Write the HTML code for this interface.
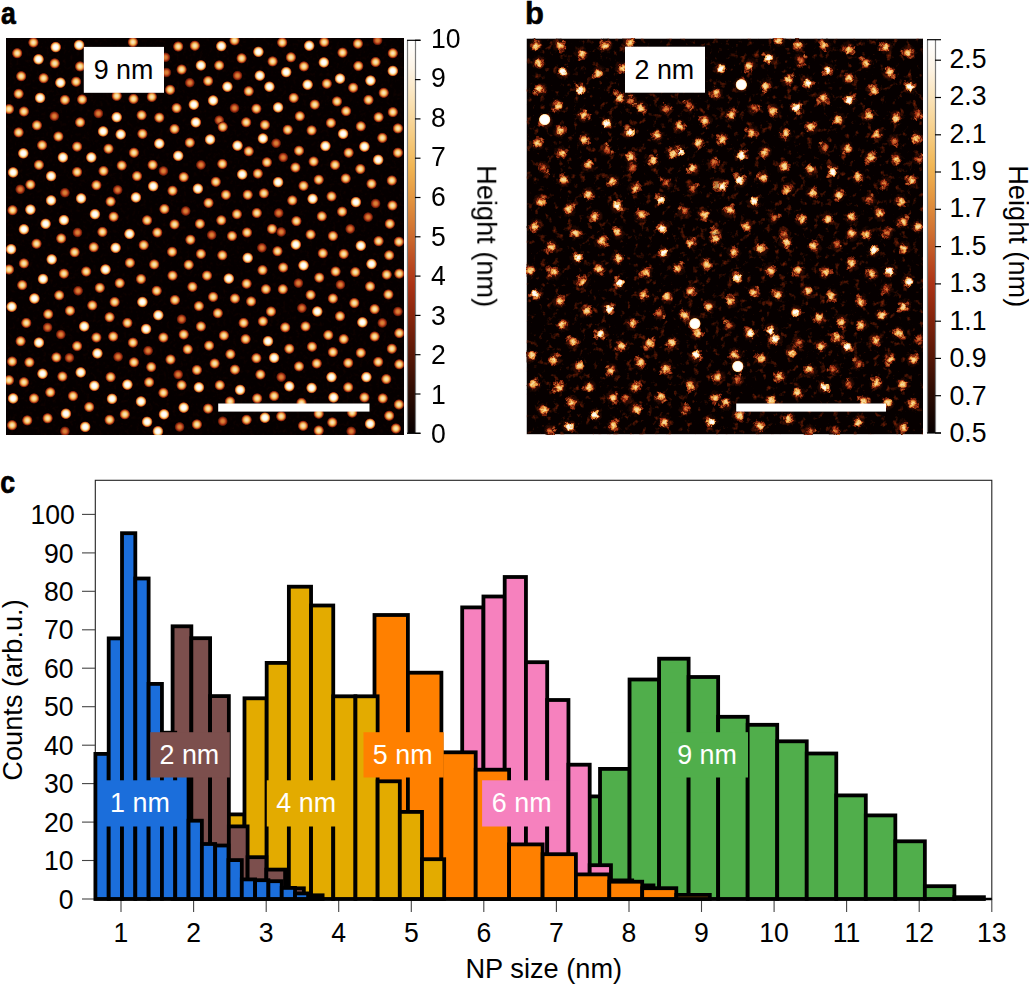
<!DOCTYPE html><html><head><meta charset="utf-8"><style>html,body{margin:0;padding:0;background:#fff;width:1029px;height:985px;overflow:hidden}</style></head><body><svg width="1029" height="985" viewBox="0 0 1029 985" style="display:block;font-family:'Liberation Sans', sans-serif">
<defs>
<linearGradient id="cbar" x1="0" y1="0" x2="0" y2="1"><stop offset="0.000" stop-color="#ffffff"/><stop offset="0.070" stop-color="#fdf4e6"/><stop offset="0.150" stop-color="#fae3b8"/><stop offset="0.240" stop-color="#f6cd84"/><stop offset="0.320" stop-color="#f1b654"/><stop offset="0.400" stop-color="#e4963f"/><stop offset="0.480" stop-color="#d27432"/><stop offset="0.550" stop-color="#bf5224"/><stop offset="0.620" stop-color="#ac3315"/><stop offset="0.700" stop-color="#88250c"/><stop offset="0.800" stop-color="#581706"/><stop offset="0.900" stop-color="#2b0b02"/><stop offset="1.000" stop-color="#060000"/></linearGradient>
<radialGradient id="gW"><stop offset="0.00" stop-color="#ffffff" stop-opacity="1.00"/><stop offset="0.05" stop-color="#ffffff" stop-opacity="1.00"/><stop offset="0.10" stop-color="#ffffff" stop-opacity="1.00"/><stop offset="0.15" stop-color="#ffffff" stop-opacity="1.00"/><stop offset="0.20" stop-color="#fffefd" stop-opacity="1.00"/><stop offset="0.25" stop-color="#fffdfa" stop-opacity="1.00"/><stop offset="0.30" stop-color="#fefbf5" stop-opacity="1.00"/><stop offset="0.35" stop-color="#fef8ee" stop-opacity="1.00"/><stop offset="0.40" stop-color="#fdf4e5" stop-opacity="1.00"/><stop offset="0.45" stop-color="#fcedd3" stop-opacity="1.00"/><stop offset="0.50" stop-color="#fae5bc" stop-opacity="1.00"/><stop offset="0.55" stop-color="#f8d9a1" stop-opacity="1.00"/><stop offset="0.60" stop-color="#f6cc82" stop-opacity="1.00"/><stop offset="0.65" stop-color="#f2ba5c" stop-opacity="1.00"/><stop offset="0.70" stop-color="#e89f45" stop-opacity="1.00"/><stop offset="0.75" stop-color="#d77d36" stop-opacity="1.00"/><stop offset="0.80" stop-color="#c05325" stop-opacity="1.00"/><stop offset="0.85" stop-color="#a02f12" stop-opacity="1.00"/><stop offset="0.90" stop-color="#6e1d09" stop-opacity="0.67"/><stop offset="0.95" stop-color="#380e03" stop-opacity="0.33"/><stop offset="1.00" stop-color="#060000" stop-opacity="0.00"/></radialGradient>
<radialGradient id="gM"><stop offset="0.00" stop-color="#fae5be" stop-opacity="1.00"/><stop offset="0.05" stop-color="#fae5bd" stop-opacity="1.00"/><stop offset="0.10" stop-color="#fae3b9" stop-opacity="1.00"/><stop offset="0.15" stop-color="#fae1b3" stop-opacity="1.00"/><stop offset="0.20" stop-color="#f9ddaa" stop-opacity="1.00"/><stop offset="0.25" stop-color="#f8d89f" stop-opacity="1.00"/><stop offset="0.30" stop-color="#f7d391" stop-opacity="1.00"/><stop offset="0.35" stop-color="#f6cb81" stop-opacity="1.00"/><stop offset="0.40" stop-color="#f4c26d" stop-opacity="1.00"/><stop offset="0.45" stop-color="#f1b858" stop-opacity="1.00"/><stop offset="0.50" stop-color="#eba84b" stop-opacity="1.00"/><stop offset="0.55" stop-color="#e4963f" stop-opacity="1.00"/><stop offset="0.60" stop-color="#d98137" stop-opacity="1.00"/><stop offset="0.65" stop-color="#cc692d" stop-opacity="1.00"/><stop offset="0.70" stop-color="#bc4d22" stop-opacity="1.00"/><stop offset="0.75" stop-color="#aa3215" stop-opacity="1.00"/><stop offset="0.80" stop-color="#8c270d" stop-opacity="1.00"/><stop offset="0.85" stop-color="#6b1c08" stop-opacity="1.00"/><stop offset="0.90" stop-color="#481305" stop-opacity="0.67"/><stop offset="0.95" stop-color="#250902" stop-opacity="0.33"/><stop offset="1.00" stop-color="#060000" stop-opacity="0.00"/></radialGradient>
<radialGradient id="gD"><stop offset="0.00" stop-color="#db8539" stop-opacity="1.00"/><stop offset="0.05" stop-color="#db8538" stop-opacity="1.00"/><stop offset="0.10" stop-color="#da8338" stop-opacity="1.00"/><stop offset="0.15" stop-color="#d98137" stop-opacity="1.00"/><stop offset="0.20" stop-color="#d77e36" stop-opacity="1.00"/><stop offset="0.25" stop-color="#d57a34" stop-opacity="1.00"/><stop offset="0.30" stop-color="#d27432" stop-opacity="1.00"/><stop offset="0.35" stop-color="#ce6c2f" stop-opacity="1.00"/><stop offset="0.40" stop-color="#c9632b" stop-opacity="1.00"/><stop offset="0.45" stop-color="#c35827" stop-opacity="1.00"/><stop offset="0.50" stop-color="#bc4d21" stop-opacity="1.00"/><stop offset="0.55" stop-color="#b4401b" stop-opacity="1.00"/><stop offset="0.60" stop-color="#ab3315" stop-opacity="1.00"/><stop offset="0.65" stop-color="#9b2d11" stop-opacity="1.00"/><stop offset="0.70" stop-color="#8a260d" stop-opacity="1.00"/><stop offset="0.75" stop-color="#76200a" stop-opacity="1.00"/><stop offset="0.80" stop-color="#601907" stop-opacity="1.00"/><stop offset="0.85" stop-color="#4a1305" stop-opacity="1.00"/><stop offset="0.90" stop-color="#320d03" stop-opacity="0.67"/><stop offset="0.95" stop-color="#1c0701" stop-opacity="0.33"/><stop offset="1.00" stop-color="#060000" stop-opacity="0.00"/></radialGradient>
<radialGradient id="gX"><stop offset="0.00" stop-color="#ffffff" stop-opacity="1.00"/><stop offset="0.05" stop-color="#ffffff" stop-opacity="1.00"/><stop offset="0.10" stop-color="#ffffff" stop-opacity="1.00"/><stop offset="0.15" stop-color="#ffffff" stop-opacity="1.00"/><stop offset="0.20" stop-color="#ffffff" stop-opacity="1.00"/><stop offset="0.25" stop-color="#ffffff" stop-opacity="1.00"/><stop offset="0.30" stop-color="#ffffff" stop-opacity="1.00"/><stop offset="0.35" stop-color="#ffffff" stop-opacity="1.00"/><stop offset="0.40" stop-color="#ffffff" stop-opacity="1.00"/><stop offset="0.45" stop-color="#fffffe" stop-opacity="1.00"/><stop offset="0.50" stop-color="#fffefd" stop-opacity="1.00"/><stop offset="0.55" stop-color="#fffcf9" stop-opacity="1.00"/><stop offset="0.60" stop-color="#fefaf3" stop-opacity="1.00"/><stop offset="0.65" stop-color="#fdf5e9" stop-opacity="1.00"/><stop offset="0.70" stop-color="#fcecd1" stop-opacity="1.00"/><stop offset="0.75" stop-color="#f9deac" stop-opacity="1.00"/><stop offset="0.80" stop-color="#f5c778" stop-opacity="1.00"/><stop offset="0.85" stop-color="#e79e44" stop-opacity="1.00"/><stop offset="0.90" stop-color="#c25726" stop-opacity="0.67"/><stop offset="0.95" stop-color="#731f09" stop-opacity="0.33"/><stop offset="1.00" stop-color="#060000" stop-opacity="0.00"/></radialGradient>
<radialGradient id="bW"><stop offset="0.00" stop-color="#ffffff" stop-opacity="1.00"/><stop offset="0.05" stop-color="#ffffff" stop-opacity="1.00"/><stop offset="0.10" stop-color="#fffffe" stop-opacity="1.00"/><stop offset="0.15" stop-color="#fffefc" stop-opacity="1.00"/><stop offset="0.20" stop-color="#fffdfa" stop-opacity="1.00"/><stop offset="0.25" stop-color="#fefbf5" stop-opacity="1.00"/><stop offset="0.30" stop-color="#fef8ef" stop-opacity="1.00"/><stop offset="0.35" stop-color="#fdf5e8" stop-opacity="1.00"/><stop offset="0.40" stop-color="#fcefd9" stop-opacity="1.00"/><stop offset="0.45" stop-color="#fbe8c6" stop-opacity="1.00"/><stop offset="0.50" stop-color="#f9dfaf" stop-opacity="1.00"/><stop offset="0.55" stop-color="#f7d495" stop-opacity="1.00"/><stop offset="0.60" stop-color="#f4c675" stop-opacity="1.00"/><stop offset="0.65" stop-color="#f0b352" stop-opacity="1.00"/><stop offset="0.70" stop-color="#e59840" stop-opacity="1.00"/><stop offset="0.75" stop-color="#d47733" stop-opacity="1.00"/><stop offset="0.80" stop-color="#bc4e22" stop-opacity="1.00"/><stop offset="0.85" stop-color="#9c2d11" stop-opacity="1.00"/><stop offset="0.90" stop-color="#6b1d08" stop-opacity="0.67"/><stop offset="0.95" stop-color="#360e03" stop-opacity="0.33"/><stop offset="1.00" stop-color="#060000" stop-opacity="0.00"/></radialGradient>
<radialGradient id="bM"><stop offset="0.00" stop-color="#f9dca7" stop-opacity="1.00"/><stop offset="0.05" stop-color="#f9dba5" stop-opacity="1.00"/><stop offset="0.10" stop-color="#f8daa2" stop-opacity="1.00"/><stop offset="0.15" stop-color="#f8d79c" stop-opacity="1.00"/><stop offset="0.20" stop-color="#f7d494" stop-opacity="1.00"/><stop offset="0.25" stop-color="#f6cf89" stop-opacity="1.00"/><stop offset="0.30" stop-color="#f5c97c" stop-opacity="1.00"/><stop offset="0.35" stop-color="#f3c16c" stop-opacity="1.00"/><stop offset="0.40" stop-color="#f2b959" stop-opacity="1.00"/><stop offset="0.45" stop-color="#edac4d" stop-opacity="1.00"/><stop offset="0.50" stop-color="#e69c43" stop-opacity="1.00"/><stop offset="0.55" stop-color="#de8a3a" stop-opacity="1.00"/><stop offset="0.60" stop-color="#d37633" stop-opacity="1.00"/><stop offset="0.65" stop-color="#c55d29" stop-opacity="1.00"/><stop offset="0.70" stop-color="#b6441d" stop-opacity="1.00"/><stop offset="0.75" stop-color="#a22f13" stop-opacity="1.00"/><stop offset="0.80" stop-color="#86240c" stop-opacity="1.00"/><stop offset="0.85" stop-color="#651b08" stop-opacity="1.00"/><stop offset="0.90" stop-color="#441204" stop-opacity="0.67"/><stop offset="0.95" stop-color="#240902" stop-opacity="0.33"/><stop offset="1.00" stop-color="#060000" stop-opacity="0.00"/></radialGradient>
<radialGradient id="bD"><stop offset="0.00" stop-color="#db8539" stop-opacity="1.00"/><stop offset="0.05" stop-color="#da8438" stop-opacity="1.00"/><stop offset="0.10" stop-color="#d98137" stop-opacity="1.00"/><stop offset="0.15" stop-color="#d77d36" stop-opacity="1.00"/><stop offset="0.20" stop-color="#d47833" stop-opacity="1.00"/><stop offset="0.25" stop-color="#d07131" stop-opacity="1.00"/><stop offset="0.30" stop-color="#cb682d" stop-opacity="1.00"/><stop offset="0.35" stop-color="#c65e29" stop-opacity="1.00"/><stop offset="0.40" stop-color="#c05324" stop-opacity="1.00"/><stop offset="0.45" stop-color="#b9481f" stop-opacity="1.00"/><stop offset="0.50" stop-color="#b13b19" stop-opacity="1.00"/><stop offset="0.55" stop-color="#a73114" stop-opacity="1.00"/><stop offset="0.60" stop-color="#992b10" stop-opacity="1.00"/><stop offset="0.65" stop-color="#89250c" stop-opacity="1.00"/><stop offset="0.70" stop-color="#77200a" stop-opacity="1.00"/><stop offset="0.75" stop-color="#651b08" stop-opacity="1.00"/><stop offset="0.80" stop-color="#511505" stop-opacity="1.00"/><stop offset="0.85" stop-color="#3e1004" stop-opacity="1.00"/><stop offset="0.90" stop-color="#2a0b02" stop-opacity="0.67"/><stop offset="0.95" stop-color="#180501" stop-opacity="0.33"/><stop offset="1.00" stop-color="#060000" stop-opacity="0.00"/></radialGradient>
<radialGradient id="bX"><stop offset="0.00" stop-color="#ffffff" stop-opacity="1.00"/><stop offset="0.05" stop-color="#ffffff" stop-opacity="1.00"/><stop offset="0.10" stop-color="#ffffff" stop-opacity="1.00"/><stop offset="0.15" stop-color="#ffffff" stop-opacity="1.00"/><stop offset="0.20" stop-color="#ffffff" stop-opacity="1.00"/><stop offset="0.25" stop-color="#ffffff" stop-opacity="1.00"/><stop offset="0.30" stop-color="#ffffff" stop-opacity="1.00"/><stop offset="0.35" stop-color="#ffffff" stop-opacity="1.00"/><stop offset="0.40" stop-color="#ffffff" stop-opacity="1.00"/><stop offset="0.45" stop-color="#ffffff" stop-opacity="1.00"/><stop offset="0.50" stop-color="#ffffff" stop-opacity="1.00"/><stop offset="0.55" stop-color="#ffffff" stop-opacity="1.00"/><stop offset="0.60" stop-color="#fffefe" stop-opacity="1.00"/><stop offset="0.65" stop-color="#fffdfb" stop-opacity="1.00"/><stop offset="0.70" stop-color="#fefaf4" stop-opacity="1.00"/><stop offset="0.75" stop-color="#fdf4e7" stop-opacity="1.00"/><stop offset="0.80" stop-color="#fbe7c3" stop-opacity="1.00"/><stop offset="0.85" stop-color="#f6ce86" stop-opacity="1.00"/><stop offset="0.90" stop-color="#e4953f" stop-opacity="0.67"/><stop offset="0.95" stop-color="#a02e12" stop-opacity="0.33"/><stop offset="1.00" stop-color="#060000" stop-opacity="0.00"/></radialGradient>
<radialGradient id="bH"><stop offset="0.00" stop-color="#b7451e" stop-opacity="1.00"/><stop offset="0.05" stop-color="#b6431d" stop-opacity="1.00"/><stop offset="0.10" stop-color="#b33f1b" stop-opacity="1.00"/><stop offset="0.15" stop-color="#b03a18" stop-opacity="1.00"/><stop offset="0.20" stop-color="#ad3416" stop-opacity="1.00"/><stop offset="0.25" stop-color="#a63114" stop-opacity="1.00"/><stop offset="0.30" stop-color="#9f2e12" stop-opacity="1.00"/><stop offset="0.35" stop-color="#972b10" stop-opacity="1.00"/><stop offset="0.40" stop-color="#8e270e" stop-opacity="1.00"/><stop offset="0.45" stop-color="#85240c" stop-opacity="1.00"/><stop offset="0.50" stop-color="#7a210a" stop-opacity="1.00"/><stop offset="0.55" stop-color="#6f1e09" stop-opacity="1.00"/><stop offset="0.60" stop-color="#641a07" stop-opacity="1.00"/><stop offset="0.65" stop-color="#581706" stop-opacity="1.00"/><stop offset="0.70" stop-color="#4c1405" stop-opacity="1.00"/><stop offset="0.75" stop-color="#401104" stop-opacity="1.00"/><stop offset="0.80" stop-color="#340d03" stop-opacity="1.00"/><stop offset="0.85" stop-color="#280a02" stop-opacity="1.00"/><stop offset="0.90" stop-color="#1d0701" stop-opacity="0.67"/><stop offset="0.95" stop-color="#120301" stop-opacity="0.33"/><stop offset="1.00" stop-color="#060000" stop-opacity="0.00"/></radialGradient>
<clipPath id="clipA"><rect x="6" y="38" width="398" height="397"/></clipPath>
<clipPath id="clipB"><rect x="526.5" y="38.4" width="396.5" height="396"/></clipPath>
<filter id="speckA" x="0" y="0" width="1" height="1" color-interpolation-filters="sRGB"><feTurbulence type="fractalNoise" baseFrequency="0.3" numOctaves="2" seed="4"/><feColorMatrix type="matrix" values="0 0 0 0 0.4  0 0 0 0 0.09  0 0 0 0 0.02  2.2 0 0 0 -1.1"/></filter>
<filter id="speckB" x="0" y="0" width="1" height="1" color-interpolation-filters="sRGB"><feTurbulence type="fractalNoise" baseFrequency="0.15" numOctaves="3" seed="9"/><feColorMatrix type="matrix" values="0 0 0 0 0.62  0 0 0 0 0.17  0 0 0 0 0.03  2.6 0 0 0 -1.55"/></filter>
<filter id="wob" x="-5%" y="-5%" width="110%" height="110%" color-interpolation-filters="sRGB"><feTurbulence type="fractalNoise" baseFrequency="0.25" numOctaves="2" seed="11" result="n"/><feDisplacementMap in="SourceGraphic" in2="n" scale="5" xChannelSelector="R" yChannelSelector="G"/></filter>
</defs>
<rect width="1029" height="985" fill="#fff"/>
<g clip-path="url(#clipA)">
<rect x="6" y="38" width="398" height="397" fill="#050000"/>
<rect x="6" y="38" width="398" height="397" filter="url(#speckA)" opacity="0.15"/>
<circle cx="33.4" cy="42.5" r="5.7" fill="url(#gM)"/>
<circle cx="55.7" cy="47.1" r="5.9" fill="url(#gW)"/>
<circle cx="79.1" cy="45.1" r="5.9" fill="url(#gW)"/>
<circle cx="132.9" cy="42.1" r="5.7" fill="url(#gM)"/>
<circle cx="178.2" cy="46.5" r="5.7" fill="url(#gM)"/>
<circle cx="194.8" cy="45.7" r="5.7" fill="url(#gM)"/>
<circle cx="17.2" cy="53.2" r="5.7" fill="url(#gM)"/>
<circle cx="38.5" cy="59.3" r="5.9" fill="url(#gW)"/>
<circle cx="54.7" cy="63.4" r="5.7" fill="url(#gM)"/>
<circle cx="80.1" cy="66.4" r="5.7" fill="url(#gM)"/>
<circle cx="181.6" cy="69.5" r="5.7" fill="url(#gM)"/>
<circle cx="200.9" cy="65.4" r="5.9" fill="url(#gW)"/>
<circle cx="165.4" cy="57.3" r="5.4" fill="url(#gD)"/>
<circle cx="166.4" cy="72.5" r="5.4" fill="url(#gD)"/>
<circle cx="21.2" cy="76.2" r="5.7" fill="url(#gM)"/>
<circle cx="43.6" cy="78.2" r="5.7" fill="url(#gM)"/>
<circle cx="60.4" cy="82.7" r="5.9" fill="url(#gW)"/>
<circle cx="76.1" cy="81.7" r="5.7" fill="url(#gM)"/>
<circle cx="189.8" cy="82.7" r="5.4" fill="url(#gD)"/>
<circle cx="170.1" cy="89.8" r="5.7" fill="url(#gM)"/>
<circle cx="18.6" cy="93.8" r="5.7" fill="url(#gM)"/>
<circle cx="40.1" cy="97.9" r="5.9" fill="url(#gW)"/>
<circle cx="64.9" cy="99.9" r="5.7" fill="url(#gM)"/>
<circle cx="82.1" cy="99.5" r="5.7" fill="url(#gM)"/>
<circle cx="116.7" cy="95.9" r="5.7" fill="url(#gM)"/>
<circle cx="133.5" cy="98.9" r="5.7" fill="url(#gM)"/>
<circle cx="151.8" cy="96.9" r="5.7" fill="url(#gM)"/>
<circle cx="193.8" cy="104.6" r="5.9" fill="url(#gW)"/>
<circle cx="176.6" cy="108.1" r="5.7" fill="url(#gM)"/>
<circle cx="9.0" cy="109.1" r="5.7" fill="url(#gM)"/>
<circle cx="23.9" cy="111.5" r="5.7" fill="url(#gM)"/>
<circle cx="54.3" cy="116.2" r="5.4" fill="url(#gD)"/>
<circle cx="98.4" cy="113.5" r="5.4" fill="url(#gD)"/>
<circle cx="116.7" cy="117.2" r="5.9" fill="url(#gW)"/>
<circle cx="141.6" cy="115.2" r="5.7" fill="url(#gM)"/>
<circle cx="159.3" cy="117.6" r="5.7" fill="url(#gM)"/>
<circle cx="195.8" cy="122.3" r="5.9" fill="url(#gW)"/>
<circle cx="36.9" cy="125.3" r="5.7" fill="url(#gM)"/>
<circle cx="80.1" cy="122.3" r="5.7" fill="url(#gM)"/>
<circle cx="103.1" cy="131.4" r="5.9" fill="url(#gW)"/>
<circle cx="120.7" cy="134.4" r="5.9" fill="url(#gW)"/>
<circle cx="142.4" cy="133.8" r="5.7" fill="url(#gM)"/>
<circle cx="174.5" cy="129.0" r="5.7" fill="url(#gM)"/>
<circle cx="18.6" cy="132.4" r="5.7" fill="url(#gM)"/>
<circle cx="58.4" cy="136.5" r="5.7" fill="url(#gM)"/>
<circle cx="42.1" cy="145.2" r="5.7" fill="url(#gM)"/>
<circle cx="77.1" cy="146.6" r="5.7" fill="url(#gM)"/>
<circle cx="108.5" cy="148.7" r="5.7" fill="url(#gM)"/>
<circle cx="159.3" cy="143.6" r="5.9" fill="url(#gW)"/>
<circle cx="189.8" cy="142.6" r="5.7" fill="url(#gM)"/>
<circle cx="23.3" cy="153.3" r="5.9" fill="url(#gW)"/>
<circle cx="62.9" cy="157.4" r="5.9" fill="url(#gW)"/>
<circle cx="91.3" cy="157.4" r="5.9" fill="url(#gW)"/>
<circle cx="133.9" cy="152.7" r="5.7" fill="url(#gM)"/>
<circle cx="178.2" cy="155.8" r="5.9" fill="url(#gW)"/>
<circle cx="38.9" cy="164.9" r="5.7" fill="url(#gM)"/>
<circle cx="121.7" cy="165.5" r="5.7" fill="url(#gM)"/>
<circle cx="152.6" cy="164.9" r="5.7" fill="url(#gM)"/>
<circle cx="200.9" cy="164.9" r="5.4" fill="url(#gD)"/>
<circle cx="13.1" cy="172.4" r="5.9" fill="url(#gW)"/>
<circle cx="77.1" cy="172.0" r="5.7" fill="url(#gM)"/>
<circle cx="103.5" cy="171.0" r="5.7" fill="url(#gM)"/>
<circle cx="51.1" cy="176.1" r="5.9" fill="url(#gW)"/>
<circle cx="137.0" cy="176.1" r="5.7" fill="url(#gM)"/>
<circle cx="163.4" cy="171.0" r="5.4" fill="url(#gD)"/>
<circle cx="183.7" cy="177.1" r="5.7" fill="url(#gM)"/>
<circle cx="20.2" cy="189.3" r="5.4" fill="url(#gD)"/>
<circle cx="30.4" cy="184.6" r="5.7" fill="url(#gM)"/>
<circle cx="64.9" cy="192.7" r="5.4" fill="url(#gD)"/>
<circle cx="96.4" cy="185.2" r="5.7" fill="url(#gM)"/>
<circle cx="117.7" cy="189.9" r="5.4" fill="url(#gD)"/>
<circle cx="153.2" cy="186.2" r="5.9" fill="url(#gW)"/>
<circle cx="172.5" cy="190.7" r="5.7" fill="url(#gM)"/>
<circle cx="197.9" cy="188.7" r="5.9" fill="url(#gW)"/>
<circle cx="51.1" cy="200.4" r="5.9" fill="url(#gW)"/>
<circle cx="81.1" cy="198.4" r="5.9" fill="url(#gW)"/>
<circle cx="110.6" cy="201.5" r="5.7" fill="url(#gM)"/>
<circle cx="135.9" cy="197.4" r="5.9" fill="url(#gW)"/>
<circle cx="12.5" cy="210.2" r="5.7" fill="url(#gM)"/>
<circle cx="30.4" cy="209.6" r="5.9" fill="url(#gW)"/>
<circle cx="94.9" cy="214.2" r="5.9" fill="url(#gW)"/>
<circle cx="113.6" cy="216.7" r="5.7" fill="url(#gM)"/>
<circle cx="164.4" cy="209.0" r="5.7" fill="url(#gM)"/>
<circle cx="185.7" cy="211.0" r="5.4" fill="url(#gD)"/>
<circle cx="63.9" cy="220.1" r="5.9" fill="url(#gW)"/>
<circle cx="45.6" cy="223.8" r="5.9" fill="url(#gW)"/>
<circle cx="147.1" cy="220.3" r="5.7" fill="url(#gM)"/>
<circle cx="174.5" cy="224.4" r="5.7" fill="url(#gM)"/>
<circle cx="199.9" cy="223.8" r="5.7" fill="url(#gM)"/>
<circle cx="23.9" cy="229.3" r="5.9" fill="url(#gW)"/>
<circle cx="77.5" cy="232.5" r="5.4" fill="url(#gD)"/>
<circle cx="102.4" cy="231.9" r="5.7" fill="url(#gM)"/>
<circle cx="129.5" cy="233.9" r="5.9" fill="url(#gW)"/>
<circle cx="157.3" cy="232.5" r="5.7" fill="url(#gM)"/>
<circle cx="221.3" cy="46.1" r="5.9" fill="url(#gW)"/>
<circle cx="234.5" cy="40.4" r="5.7" fill="url(#gM)"/>
<circle cx="258.4" cy="51.8" r="5.9" fill="url(#gW)"/>
<circle cx="282.2" cy="42.5" r="5.7" fill="url(#gM)"/>
<circle cx="309.2" cy="45.7" r="5.9" fill="url(#gW)"/>
<circle cx="324.2" cy="42.1" r="5.7" fill="url(#gM)"/>
<circle cx="342.5" cy="52.6" r="5.7" fill="url(#gM)"/>
<circle cx="357.9" cy="43.7" r="5.7" fill="url(#gM)"/>
<circle cx="377.6" cy="40.4" r="5.4" fill="url(#gD)"/>
<circle cx="392.8" cy="53.2" r="5.7" fill="url(#gM)"/>
<circle cx="219.2" cy="65.4" r="5.7" fill="url(#gM)"/>
<circle cx="241.6" cy="58.3" r="5.7" fill="url(#gM)"/>
<circle cx="272.6" cy="61.4" r="5.7" fill="url(#gM)"/>
<circle cx="290.9" cy="57.3" r="5.7" fill="url(#gM)"/>
<circle cx="303.9" cy="66.4" r="5.7" fill="url(#gM)"/>
<circle cx="323.8" cy="62.4" r="5.9" fill="url(#gW)"/>
<circle cx="358.3" cy="66.0" r="5.7" fill="url(#gM)"/>
<circle cx="375.6" cy="62.0" r="5.7" fill="url(#gM)"/>
<circle cx="392.8" cy="70.9" r="5.9" fill="url(#gW)"/>
<circle cx="208.1" cy="81.0" r="5.7" fill="url(#gM)"/>
<circle cx="237.5" cy="75.6" r="5.4" fill="url(#gD)"/>
<circle cx="259.8" cy="75.6" r="5.9" fill="url(#gW)"/>
<circle cx="286.2" cy="72.1" r="5.9" fill="url(#gW)"/>
<circle cx="227.4" cy="86.7" r="5.9" fill="url(#gW)"/>
<circle cx="248.7" cy="91.2" r="5.7" fill="url(#gM)"/>
<circle cx="269.4" cy="86.7" r="5.9" fill="url(#gW)"/>
<circle cx="307.6" cy="84.7" r="5.9" fill="url(#gW)"/>
<circle cx="326.8" cy="83.7" r="5.7" fill="url(#gM)"/>
<circle cx="340.0" cy="78.6" r="5.9" fill="url(#gW)"/>
<circle cx="353.2" cy="87.7" r="5.7" fill="url(#gM)"/>
<circle cx="370.5" cy="80.6" r="5.9" fill="url(#gW)"/>
<circle cx="383.7" cy="92.8" r="5.7" fill="url(#gM)"/>
<circle cx="213.1" cy="100.5" r="5.9" fill="url(#gW)"/>
<circle cx="234.5" cy="108.1" r="5.4" fill="url(#gD)"/>
<circle cx="256.4" cy="108.7" r="5.7" fill="url(#gM)"/>
<circle cx="278.1" cy="107.4" r="5.9" fill="url(#gW)"/>
<circle cx="293.7" cy="97.9" r="5.7" fill="url(#gM)"/>
<circle cx="314.7" cy="104.6" r="5.7" fill="url(#gM)"/>
<circle cx="337.0" cy="101.4" r="5.7" fill="url(#gM)"/>
<circle cx="346.1" cy="111.1" r="5.7" fill="url(#gM)"/>
<circle cx="368.5" cy="99.9" r="5.7" fill="url(#gM)"/>
<circle cx="392.8" cy="112.1" r="5.7" fill="url(#gM)"/>
<circle cx="219.2" cy="120.2" r="5.4" fill="url(#gD)"/>
<circle cx="222.7" cy="126.9" r="5.7" fill="url(#gM)"/>
<circle cx="246.2" cy="122.3" r="5.7" fill="url(#gM)"/>
<circle cx="264.9" cy="124.9" r="5.7" fill="url(#gM)"/>
<circle cx="287.7" cy="129.8" r="5.7" fill="url(#gM)"/>
<circle cx="299.8" cy="116.2" r="5.7" fill="url(#gM)"/>
<circle cx="311.6" cy="130.4" r="5.7" fill="url(#gM)"/>
<circle cx="330.9" cy="122.9" r="5.7" fill="url(#gM)"/>
<circle cx="343.1" cy="133.8" r="5.9" fill="url(#gW)"/>
<circle cx="360.8" cy="126.3" r="5.7" fill="url(#gM)"/>
<circle cx="378.6" cy="117.2" r="5.7" fill="url(#gM)"/>
<circle cx="397.9" cy="128.4" r="5.7" fill="url(#gM)"/>
<circle cx="210.1" cy="139.5" r="5.9" fill="url(#gW)"/>
<circle cx="237.5" cy="145.6" r="5.9" fill="url(#gW)"/>
<circle cx="262.9" cy="138.5" r="5.9" fill="url(#gW)"/>
<circle cx="276.1" cy="143.2" r="5.4" fill="url(#gD)"/>
<circle cx="248.7" cy="151.3" r="5.7" fill="url(#gM)"/>
<circle cx="299.0" cy="150.7" r="5.7" fill="url(#gM)"/>
<circle cx="325.4" cy="146.0" r="5.9" fill="url(#gW)"/>
<circle cx="348.6" cy="152.7" r="5.7" fill="url(#gM)"/>
<circle cx="364.4" cy="146.6" r="5.9" fill="url(#gW)"/>
<circle cx="382.3" cy="137.9" r="5.7" fill="url(#gM)"/>
<circle cx="397.9" cy="152.7" r="5.7" fill="url(#gM)"/>
<circle cx="222.3" cy="163.9" r="5.7" fill="url(#gM)"/>
<circle cx="266.9" cy="162.3" r="5.7" fill="url(#gM)"/>
<circle cx="283.2" cy="157.4" r="5.4" fill="url(#gD)"/>
<circle cx="295.4" cy="167.5" r="5.7" fill="url(#gM)"/>
<circle cx="313.6" cy="161.5" r="5.7" fill="url(#gM)"/>
<circle cx="335.0" cy="164.9" r="5.7" fill="url(#gM)"/>
<circle cx="360.3" cy="169.0" r="5.7" fill="url(#gM)"/>
<circle cx="378.2" cy="159.8" r="5.9" fill="url(#gW)"/>
<circle cx="242.2" cy="174.4" r="5.9" fill="url(#gW)"/>
<circle cx="257.8" cy="173.6" r="5.7" fill="url(#gM)"/>
<circle cx="278.1" cy="182.2" r="5.9" fill="url(#gW)"/>
<circle cx="215.8" cy="181.8" r="5.7" fill="url(#gM)"/>
<circle cx="303.5" cy="185.8" r="5.7" fill="url(#gM)"/>
<circle cx="318.7" cy="179.7" r="5.7" fill="url(#gM)"/>
<circle cx="345.7" cy="178.5" r="5.7" fill="url(#gM)"/>
<circle cx="371.5" cy="183.8" r="5.7" fill="url(#gM)"/>
<circle cx="391.8" cy="180.5" r="5.7" fill="url(#gM)"/>
<circle cx="225.9" cy="194.8" r="5.7" fill="url(#gM)"/>
<circle cx="247.7" cy="194.8" r="5.7" fill="url(#gM)"/>
<circle cx="263.9" cy="193.3" r="5.7" fill="url(#gM)"/>
<circle cx="292.3" cy="200.4" r="5.7" fill="url(#gM)"/>
<circle cx="312.6" cy="198.8" r="5.9" fill="url(#gW)"/>
<circle cx="331.5" cy="196.4" r="5.7" fill="url(#gM)"/>
<circle cx="355.9" cy="202.1" r="5.9" fill="url(#gW)"/>
<circle cx="375.6" cy="203.5" r="5.4" fill="url(#gD)"/>
<circle cx="392.4" cy="205.5" r="5.7" fill="url(#gM)"/>
<circle cx="208.5" cy="202.9" r="5.7" fill="url(#gM)"/>
<circle cx="236.9" cy="214.2" r="5.7" fill="url(#gM)"/>
<circle cx="256.8" cy="213.0" r="5.7" fill="url(#gM)"/>
<circle cx="278.7" cy="213.0" r="5.4" fill="url(#gD)"/>
<circle cx="296.4" cy="221.1" r="5.7" fill="url(#gM)"/>
<circle cx="321.8" cy="216.3" r="5.7" fill="url(#gM)"/>
<circle cx="342.1" cy="211.6" r="5.7" fill="url(#gM)"/>
<circle cx="368.1" cy="217.1" r="5.4" fill="url(#gD)"/>
<circle cx="221.3" cy="220.3" r="5.7" fill="url(#gM)"/>
<circle cx="247.0" cy="232.5" r="5.7" fill="url(#gM)"/>
<circle cx="272.0" cy="228.9" r="5.7" fill="url(#gM)"/>
<circle cx="281.2" cy="231.9" r="5.4" fill="url(#gD)"/>
<circle cx="310.6" cy="234.5" r="5.7" fill="url(#gM)"/>
<circle cx="332.9" cy="236.0" r="5.7" fill="url(#gM)"/>
<circle cx="350.2" cy="228.9" r="5.4" fill="url(#gD)"/>
<circle cx="389.8" cy="223.8" r="5.7" fill="url(#gM)"/>
<circle cx="232.0" cy="236.0" r="5.7" fill="url(#gM)"/>
<circle cx="211.7" cy="235.0" r="5.4" fill="url(#gD)"/>
<circle cx="11.1" cy="249.2" r="5.9" fill="url(#gW)"/>
<circle cx="36.5" cy="243.7" r="5.7" fill="url(#gM)"/>
<circle cx="61.2" cy="238.4" r="5.7" fill="url(#gM)"/>
<circle cx="74.6" cy="252.2" r="5.7" fill="url(#gM)"/>
<circle cx="93.7" cy="247.2" r="5.7" fill="url(#gM)"/>
<circle cx="115.6" cy="247.8" r="5.9" fill="url(#gW)"/>
<circle cx="143.7" cy="245.1" r="5.7" fill="url(#gM)"/>
<circle cx="172.1" cy="251.8" r="5.7" fill="url(#gM)"/>
<circle cx="190.4" cy="239.7" r="5.7" fill="url(#gM)"/>
<circle cx="200.9" cy="253.9" r="5.7" fill="url(#gM)"/>
<circle cx="23.9" cy="263.4" r="5.7" fill="url(#gM)"/>
<circle cx="51.7" cy="259.4" r="5.9" fill="url(#gW)"/>
<circle cx="9.0" cy="269.5" r="5.7" fill="url(#gM)"/>
<circle cx="86.2" cy="271.5" r="5.7" fill="url(#gM)"/>
<circle cx="105.5" cy="269.5" r="5.9" fill="url(#gW)"/>
<circle cx="129.9" cy="262.8" r="5.7" fill="url(#gM)"/>
<circle cx="154.2" cy="264.4" r="5.7" fill="url(#gM)"/>
<circle cx="188.7" cy="264.8" r="5.7" fill="url(#gM)"/>
<circle cx="63.9" cy="273.6" r="5.7" fill="url(#gM)"/>
<circle cx="43.0" cy="279.0" r="5.9" fill="url(#gW)"/>
<circle cx="141.0" cy="279.0" r="5.7" fill="url(#gM)"/>
<circle cx="172.5" cy="275.6" r="5.7" fill="url(#gM)"/>
<circle cx="22.2" cy="285.1" r="5.7" fill="url(#gM)"/>
<circle cx="78.1" cy="290.8" r="5.4" fill="url(#gD)"/>
<circle cx="99.8" cy="287.8" r="5.7" fill="url(#gM)"/>
<circle cx="119.7" cy="283.1" r="5.7" fill="url(#gM)"/>
<circle cx="156.7" cy="290.8" r="5.7" fill="url(#gM)"/>
<circle cx="192.4" cy="286.8" r="5.7" fill="url(#gM)"/>
<circle cx="34.4" cy="298.5" r="5.9" fill="url(#gW)"/>
<circle cx="59.2" cy="295.3" r="5.7" fill="url(#gM)"/>
<circle cx="114.6" cy="302.0" r="5.7" fill="url(#gM)"/>
<circle cx="142.4" cy="302.0" r="5.9" fill="url(#gW)"/>
<circle cx="174.9" cy="300.0" r="5.7" fill="url(#gM)"/>
<circle cx="11.7" cy="306.7" r="5.9" fill="url(#gW)"/>
<circle cx="92.3" cy="305.4" r="5.7" fill="url(#gM)"/>
<circle cx="70.0" cy="310.7" r="5.7" fill="url(#gM)"/>
<circle cx="48.2" cy="314.2" r="5.7" fill="url(#gM)"/>
<circle cx="109.6" cy="317.2" r="5.7" fill="url(#gM)"/>
<circle cx="158.3" cy="315.2" r="5.9" fill="url(#gW)"/>
<circle cx="198.9" cy="306.1" r="5.7" fill="url(#gM)"/>
<circle cx="26.3" cy="322.9" r="5.7" fill="url(#gM)"/>
<circle cx="84.2" cy="326.4" r="5.9" fill="url(#gW)"/>
<circle cx="127.4" cy="322.9" r="5.7" fill="url(#gM)"/>
<circle cx="146.1" cy="329.0" r="5.9" fill="url(#gW)"/>
<circle cx="181.6" cy="319.2" r="5.4" fill="url(#gD)"/>
<circle cx="47.6" cy="327.4" r="5.4" fill="url(#gD)"/>
<circle cx="60.8" cy="334.5" r="5.4" fill="url(#gD)"/>
<circle cx="200.9" cy="326.4" r="5.7" fill="url(#gM)"/>
<circle cx="20.6" cy="341.2" r="5.7" fill="url(#gM)"/>
<circle cx="38.9" cy="342.6" r="5.9" fill="url(#gW)"/>
<circle cx="96.4" cy="337.5" r="5.7" fill="url(#gM)"/>
<circle cx="113.2" cy="336.5" r="5.7" fill="url(#gM)"/>
<circle cx="132.9" cy="342.6" r="5.7" fill="url(#gM)"/>
<circle cx="163.4" cy="337.5" r="5.7" fill="url(#gM)"/>
<circle cx="183.7" cy="334.5" r="5.7" fill="url(#gM)"/>
<circle cx="77.1" cy="346.1" r="5.7" fill="url(#gM)"/>
<circle cx="97.4" cy="353.4" r="5.9" fill="url(#gW)"/>
<circle cx="118.1" cy="356.8" r="5.4" fill="url(#gD)"/>
<circle cx="148.1" cy="350.7" r="5.4" fill="url(#gD)"/>
<circle cx="187.7" cy="349.3" r="5.7" fill="url(#gM)"/>
<circle cx="12.1" cy="361.5" r="5.7" fill="url(#gM)"/>
<circle cx="29.4" cy="362.3" r="5.7" fill="url(#gM)"/>
<circle cx="56.4" cy="357.4" r="5.7" fill="url(#gM)"/>
<circle cx="69.4" cy="357.8" r="5.4" fill="url(#gD)"/>
<circle cx="133.9" cy="362.3" r="5.7" fill="url(#gM)"/>
<circle cx="170.5" cy="359.5" r="5.7" fill="url(#gM)"/>
<circle cx="42.5" cy="373.7" r="5.9" fill="url(#gW)"/>
<circle cx="62.4" cy="376.5" r="5.7" fill="url(#gM)"/>
<circle cx="80.7" cy="372.4" r="5.9" fill="url(#gW)"/>
<circle cx="110.6" cy="377.1" r="5.7" fill="url(#gM)"/>
<circle cx="151.2" cy="367.0" r="5.7" fill="url(#gM)"/>
<circle cx="178.2" cy="374.5" r="5.4" fill="url(#gD)"/>
<circle cx="196.9" cy="370.0" r="5.7" fill="url(#gM)"/>
<circle cx="9.0" cy="380.2" r="5.7" fill="url(#gM)"/>
<circle cx="23.9" cy="382.2" r="5.7" fill="url(#gM)"/>
<circle cx="94.3" cy="385.8" r="5.9" fill="url(#gW)"/>
<circle cx="127.4" cy="384.6" r="5.9" fill="url(#gW)"/>
<circle cx="149.1" cy="382.2" r="5.7" fill="url(#gM)"/>
<circle cx="181.6" cy="385.2" r="5.7" fill="url(#gM)"/>
<circle cx="198.9" cy="387.3" r="5.9" fill="url(#gW)"/>
<circle cx="50.3" cy="392.3" r="5.7" fill="url(#gM)"/>
<circle cx="73.0" cy="396.0" r="5.7" fill="url(#gM)"/>
<circle cx="13.1" cy="398.4" r="5.9" fill="url(#gW)"/>
<circle cx="34.0" cy="398.4" r="5.7" fill="url(#gM)"/>
<circle cx="112.0" cy="398.8" r="5.9" fill="url(#gW)"/>
<circle cx="141.0" cy="401.5" r="5.9" fill="url(#gW)"/>
<circle cx="163.4" cy="392.8" r="5.7" fill="url(#gM)"/>
<circle cx="89.2" cy="407.0" r="5.7" fill="url(#gM)"/>
<circle cx="183.7" cy="407.6" r="5.9" fill="url(#gW)"/>
<circle cx="65.9" cy="413.7" r="5.9" fill="url(#gW)"/>
<circle cx="124.8" cy="414.3" r="5.7" fill="url(#gM)"/>
<circle cx="164.0" cy="414.3" r="5.9" fill="url(#gW)"/>
<circle cx="27.3" cy="420.4" r="5.7" fill="url(#gM)"/>
<circle cx="47.6" cy="418.3" r="5.7" fill="url(#gM)"/>
<circle cx="109.6" cy="419.8" r="5.7" fill="url(#gM)"/>
<circle cx="147.1" cy="421.8" r="5.9" fill="url(#gW)"/>
<circle cx="12.1" cy="425.2" r="5.7" fill="url(#gM)"/>
<circle cx="85.2" cy="426.9" r="5.9" fill="url(#gW)"/>
<circle cx="179.6" cy="426.9" r="5.4" fill="url(#gD)"/>
<circle cx="196.9" cy="424.4" r="5.7" fill="url(#gM)"/>
<circle cx="157.9" cy="431.3" r="5.9" fill="url(#gW)"/>
<circle cx="64.9" cy="431.3" r="5.4" fill="url(#gD)"/>
<circle cx="261.9" cy="247.8" r="5.4" fill="url(#gD)"/>
<circle cx="222.3" cy="255.3" r="5.7" fill="url(#gM)"/>
<circle cx="247.7" cy="257.9" r="5.9" fill="url(#gW)"/>
<circle cx="277.5" cy="251.2" r="5.7" fill="url(#gM)"/>
<circle cx="295.8" cy="244.5" r="5.9" fill="url(#gW)"/>
<circle cx="322.8" cy="253.3" r="5.7" fill="url(#gM)"/>
<circle cx="343.7" cy="253.9" r="5.7" fill="url(#gM)"/>
<circle cx="360.8" cy="245.7" r="5.9" fill="url(#gW)"/>
<circle cx="378.6" cy="241.1" r="5.7" fill="url(#gM)"/>
<circle cx="398.9" cy="241.7" r="5.7" fill="url(#gM)"/>
<circle cx="389.2" cy="255.3" r="5.7" fill="url(#gM)"/>
<circle cx="207.0" cy="275.6" r="5.7" fill="url(#gM)"/>
<circle cx="228.8" cy="278.6" r="5.9" fill="url(#gW)"/>
<circle cx="262.5" cy="270.1" r="5.7" fill="url(#gM)"/>
<circle cx="283.2" cy="267.5" r="5.7" fill="url(#gM)"/>
<circle cx="303.5" cy="265.4" r="5.9" fill="url(#gW)"/>
<circle cx="335.6" cy="271.5" r="5.7" fill="url(#gM)"/>
<circle cx="355.3" cy="272.1" r="5.7" fill="url(#gM)"/>
<circle cx="371.5" cy="264.0" r="5.9" fill="url(#gW)"/>
<circle cx="386.7" cy="274.6" r="5.7" fill="url(#gM)"/>
<circle cx="399.3" cy="273.6" r="5.7" fill="url(#gM)"/>
<circle cx="246.6" cy="283.7" r="5.7" fill="url(#gM)"/>
<circle cx="265.9" cy="289.2" r="5.7" fill="url(#gM)"/>
<circle cx="282.8" cy="289.2" r="5.7" fill="url(#gM)"/>
<circle cx="298.4" cy="283.1" r="5.4" fill="url(#gD)"/>
<circle cx="319.3" cy="277.6" r="5.7" fill="url(#gM)"/>
<circle cx="340.4" cy="284.7" r="5.4" fill="url(#gD)"/>
<circle cx="370.1" cy="286.4" r="5.7" fill="url(#gM)"/>
<circle cx="213.1" cy="296.9" r="5.7" fill="url(#gM)"/>
<circle cx="234.9" cy="298.5" r="5.7" fill="url(#gM)"/>
<circle cx="251.1" cy="301.4" r="5.7" fill="url(#gM)"/>
<circle cx="310.6" cy="294.9" r="5.7" fill="url(#gM)"/>
<circle cx="332.9" cy="298.5" r="5.7" fill="url(#gM)"/>
<circle cx="354.3" cy="303.0" r="5.7" fill="url(#gM)"/>
<circle cx="388.4" cy="294.5" r="5.7" fill="url(#gM)"/>
<circle cx="217.8" cy="313.2" r="5.7" fill="url(#gM)"/>
<circle cx="271.0" cy="311.5" r="5.7" fill="url(#gM)"/>
<circle cx="301.9" cy="308.1" r="5.4" fill="url(#gD)"/>
<circle cx="317.3" cy="311.5" r="5.9" fill="url(#gW)"/>
<circle cx="340.0" cy="316.2" r="5.7" fill="url(#gM)"/>
<circle cx="374.6" cy="309.1" r="5.7" fill="url(#gM)"/>
<circle cx="397.9" cy="311.5" r="5.4" fill="url(#gD)"/>
<circle cx="243.6" cy="322.9" r="5.7" fill="url(#gM)"/>
<circle cx="262.9" cy="321.3" r="5.7" fill="url(#gM)"/>
<circle cx="285.2" cy="327.4" r="5.7" fill="url(#gM)"/>
<circle cx="305.5" cy="326.4" r="5.7" fill="url(#gM)"/>
<circle cx="362.4" cy="322.3" r="5.9" fill="url(#gW)"/>
<circle cx="382.3" cy="322.9" r="5.4" fill="url(#gD)"/>
<circle cx="223.9" cy="335.5" r="5.7" fill="url(#gM)"/>
<circle cx="245.6" cy="339.1" r="5.7" fill="url(#gM)"/>
<circle cx="268.0" cy="341.2" r="5.9" fill="url(#gW)"/>
<circle cx="328.3" cy="335.1" r="5.7" fill="url(#gM)"/>
<circle cx="343.7" cy="339.1" r="5.7" fill="url(#gM)"/>
<circle cx="374.6" cy="336.5" r="5.7" fill="url(#gM)"/>
<circle cx="399.3" cy="333.1" r="5.7" fill="url(#gM)"/>
<circle cx="209.1" cy="345.6" r="5.7" fill="url(#gM)"/>
<circle cx="289.3" cy="348.7" r="5.7" fill="url(#gM)"/>
<circle cx="312.0" cy="346.7" r="5.7" fill="url(#gM)"/>
<circle cx="332.9" cy="352.1" r="5.7" fill="url(#gM)"/>
<circle cx="360.8" cy="352.8" r="5.7" fill="url(#gM)"/>
<circle cx="391.8" cy="348.7" r="5.7" fill="url(#gM)"/>
<circle cx="230.4" cy="354.2" r="5.7" fill="url(#gM)"/>
<circle cx="256.4" cy="358.2" r="5.7" fill="url(#gM)"/>
<circle cx="274.1" cy="357.8" r="5.9" fill="url(#gW)"/>
<circle cx="214.6" cy="363.5" r="5.7" fill="url(#gM)"/>
<circle cx="234.9" cy="369.6" r="5.7" fill="url(#gM)"/>
<circle cx="299.0" cy="366.4" r="5.7" fill="url(#gM)"/>
<circle cx="316.7" cy="363.5" r="5.7" fill="url(#gM)"/>
<circle cx="348.2" cy="362.9" r="5.7" fill="url(#gM)"/>
<circle cx="378.2" cy="361.9" r="5.7" fill="url(#gM)"/>
<circle cx="399.3" cy="364.3" r="5.7" fill="url(#gM)"/>
<circle cx="260.4" cy="374.5" r="5.7" fill="url(#gM)"/>
<circle cx="281.2" cy="377.1" r="5.4" fill="url(#gD)"/>
<circle cx="331.5" cy="377.1" r="5.9" fill="url(#gW)"/>
<circle cx="366.4" cy="377.1" r="5.9" fill="url(#gW)"/>
<circle cx="386.3" cy="379.1" r="5.7" fill="url(#gM)"/>
<circle cx="219.8" cy="385.2" r="5.7" fill="url(#gM)"/>
<circle cx="240.1" cy="389.9" r="5.9" fill="url(#gW)"/>
<circle cx="289.3" cy="386.3" r="5.9" fill="url(#gW)"/>
<circle cx="311.6" cy="387.9" r="5.9" fill="url(#gW)"/>
<circle cx="348.2" cy="387.3" r="5.7" fill="url(#gM)"/>
<circle cx="257.2" cy="398.4" r="5.7" fill="url(#gM)"/>
<circle cx="274.1" cy="396.0" r="5.7" fill="url(#gM)"/>
<circle cx="333.5" cy="397.4" r="5.9" fill="url(#gW)"/>
<circle cx="364.4" cy="397.4" r="5.7" fill="url(#gM)"/>
<circle cx="382.7" cy="398.4" r="5.7" fill="url(#gM)"/>
<circle cx="398.9" cy="404.5" r="5.7" fill="url(#gM)"/>
<circle cx="208.1" cy="408.6" r="5.7" fill="url(#gM)"/>
<circle cx="230.0" cy="401.5" r="5.7" fill="url(#gM)"/>
<circle cx="301.5" cy="402.9" r="5.7" fill="url(#gM)"/>
<circle cx="318.7" cy="413.7" r="5.7" fill="url(#gM)"/>
<circle cx="352.2" cy="412.6" r="5.7" fill="url(#gM)"/>
<circle cx="389.2" cy="415.7" r="5.7" fill="url(#gM)"/>
<circle cx="222.7" cy="421.2" r="5.4" fill="url(#gD)"/>
<circle cx="246.6" cy="419.8" r="5.7" fill="url(#gM)"/>
<circle cx="264.9" cy="417.7" r="5.9" fill="url(#gW)"/>
<circle cx="281.2" cy="416.3" r="5.7" fill="url(#gM)"/>
<circle cx="303.1" cy="425.8" r="5.7" fill="url(#gM)"/>
<circle cx="332.3" cy="422.4" r="5.7" fill="url(#gM)"/>
<circle cx="370.1" cy="423.8" r="5.9" fill="url(#gW)"/>
<circle cx="395.9" cy="428.5" r="5.7" fill="url(#gM)"/>
<circle cx="318.7" cy="430.5" r="5.7" fill="url(#gM)"/>
<circle cx="351.2" cy="431.3" r="5.4" fill="url(#gD)"/>
</g>
<rect x="83.8" y="46.9" width="80.2" height="45.9" fill="#fff"/>
<text transform="translate(93.7,78.8) scale(0.95,1)" font-size="28.3" fill="#000">9 nm</text>
<rect x="218.2" y="403.5" width="151.3" height="8.1" fill="#fff"/>
<g clip-path="url(#clipB)">
<rect x="526.5" y="38.4" width="396.5" height="396" fill="#060000"/>
<rect x="526.5" y="38.4" width="396.5" height="396" filter="url(#speckB)"/>
<g filter="url(#wob)">
<circle cx="535.6" cy="45.1" r="7.7" fill="url(#bH)" opacity="0.35"/>
<circle cx="537.5" cy="42.3" r="3.3" fill="url(#bD)" opacity="0.9"/>
<circle cx="534.9" cy="42.1" r="3.3" fill="url(#bD)" opacity="0.9"/>
<circle cx="532.0" cy="45.5" r="2.7" fill="url(#bD)" opacity="0.9"/>
<circle cx="536.2" cy="46.1" r="5.2" fill="url(#bM)"/>
<circle cx="559.3" cy="45.5" r="7.7" fill="url(#bH)" opacity="0.35"/>
<circle cx="563.5" cy="42.3" r="2.9" fill="url(#bD)" opacity="0.9"/>
<circle cx="561.7" cy="49.7" r="3.4" fill="url(#bD)" opacity="0.9"/>
<circle cx="559.6" cy="50.0" r="2.7" fill="url(#bD)" opacity="0.9"/>
<circle cx="560.5" cy="45.7" r="5.2" fill="url(#bM)"/>
<circle cx="605.9" cy="45.5" r="7.7" fill="url(#bH)" opacity="0.35"/>
<circle cx="601.6" cy="42.7" r="3.0" fill="url(#bD)" opacity="0.9"/>
<circle cx="607.6" cy="43.2" r="3.4" fill="url(#bD)" opacity="0.9"/>
<circle cx="606.0" cy="45.0" r="3.3" fill="url(#bD)" opacity="0.9"/>
<circle cx="604.8" cy="46.1" r="5.2" fill="url(#bM)"/>
<circle cx="628.6" cy="41.1" r="7.7" fill="url(#bH)" opacity="0.35"/>
<circle cx="627.3" cy="44.1" r="3.2" fill="url(#bD)" opacity="0.9"/>
<circle cx="628.3" cy="43.2" r="3.2" fill="url(#bD)" opacity="0.9"/>
<circle cx="628.2" cy="45.1" r="3.5" fill="url(#bD)" opacity="0.9"/>
<circle cx="630.0" cy="42.5" r="5.2" fill="url(#bM)"/>
<circle cx="581.1" cy="54.1" r="7.7" fill="url(#bH)" opacity="0.35"/>
<circle cx="582.1" cy="57.2" r="3.5" fill="url(#bD)" opacity="0.9"/>
<circle cx="579.9" cy="58.2" r="2.8" fill="url(#bD)" opacity="0.9"/>
<circle cx="581.1" cy="56.2" r="2.8" fill="url(#bD)" opacity="0.9"/>
<circle cx="581.8" cy="53.8" r="5.2" fill="url(#bM)"/>
<circle cx="538.6" cy="62.0" r="7.7" fill="url(#bH)" opacity="0.35"/>
<circle cx="540.1" cy="65.8" r="3.3" fill="url(#bD)" opacity="0.9"/>
<circle cx="542.0" cy="61.7" r="3.5" fill="url(#bD)" opacity="0.9"/>
<circle cx="539.4" cy="64.1" r="3.2" fill="url(#bD)" opacity="0.9"/>
<circle cx="538.6" cy="63.4" r="5.2" fill="url(#bM)"/>
<circle cx="563.6" cy="72.8" r="7.5" fill="url(#bH)" opacity="0.35"/>
<circle cx="562.3" cy="73.0" r="2.6" fill="url(#bD)" opacity="0.9"/>
<circle cx="564.4" cy="72.8" r="3.7" fill="url(#bD)" opacity="0.9"/>
<circle cx="565.4" cy="69.6" r="3.0" fill="url(#bD)" opacity="0.9"/>
<circle cx="562.5" cy="71.5" r="5.0" fill="url(#bW)"/>
<circle cx="598.6" cy="72.1" r="7.7" fill="url(#bH)" opacity="0.35"/>
<circle cx="597.7" cy="70.5" r="2.8" fill="url(#bD)" opacity="0.9"/>
<circle cx="594.1" cy="75.9" r="2.8" fill="url(#bD)" opacity="0.9"/>
<circle cx="595.8" cy="72.6" r="3.7" fill="url(#bD)" opacity="0.9"/>
<circle cx="598.1" cy="73.5" r="5.2" fill="url(#bM)"/>
<circle cx="621.2" cy="67.9" r="7.7" fill="url(#bH)" opacity="0.35"/>
<circle cx="622.9" cy="71.5" r="3.7" fill="url(#bD)" opacity="0.9"/>
<circle cx="625.7" cy="66.1" r="3.1" fill="url(#bD)" opacity="0.9"/>
<circle cx="621.2" cy="71.5" r="3.8" fill="url(#bD)" opacity="0.9"/>
<circle cx="622.4" cy="68.1" r="5.2" fill="url(#bM)"/>
<circle cx="720.3" cy="67.9" r="7.5" fill="url(#bH)" opacity="0.35"/>
<circle cx="718.9" cy="66.5" r="3.1" fill="url(#bD)" opacity="0.9"/>
<circle cx="722.1" cy="66.7" r="2.5" fill="url(#bD)" opacity="0.9"/>
<circle cx="720.6" cy="67.7" r="3.2" fill="url(#bD)" opacity="0.9"/>
<circle cx="721.3" cy="68.9" r="5.0" fill="url(#bW)"/>
<circle cx="540.6" cy="89.3" r="7.7" fill="url(#bH)" opacity="0.35"/>
<circle cx="539.3" cy="89.8" r="3.5" fill="url(#bD)" opacity="0.9"/>
<circle cx="535.2" cy="92.4" r="3.6" fill="url(#bD)" opacity="0.9"/>
<circle cx="542.6" cy="91.4" r="3.1" fill="url(#bD)" opacity="0.9"/>
<circle cx="539.2" cy="88.8" r="5.2" fill="url(#bM)"/>
<circle cx="580.1" cy="88.6" r="7.5" fill="url(#bH)" opacity="0.35"/>
<circle cx="581.6" cy="85.8" r="2.6" fill="url(#bD)" opacity="0.9"/>
<circle cx="577.8" cy="86.7" r="2.9" fill="url(#bD)" opacity="0.9"/>
<circle cx="576.4" cy="85.3" r="2.7" fill="url(#bD)" opacity="0.9"/>
<circle cx="580.4" cy="89.8" r="5.0" fill="url(#bW)"/>
<circle cx="556.9" cy="105.6" r="7.7" fill="url(#bH)" opacity="0.35"/>
<circle cx="553.8" cy="109.4" r="3.4" fill="url(#bD)" opacity="0.9"/>
<circle cx="554.9" cy="103.8" r="3.1" fill="url(#bD)" opacity="0.9"/>
<circle cx="556.9" cy="102.6" r="3.7" fill="url(#bD)" opacity="0.9"/>
<circle cx="558.1" cy="106.0" r="5.2" fill="url(#bM)"/>
<circle cx="621.3" cy="97.8" r="7.7" fill="url(#bH)" opacity="0.35"/>
<circle cx="619.7" cy="94.2" r="2.7" fill="url(#bD)" opacity="0.9"/>
<circle cx="618.4" cy="95.8" r="3.7" fill="url(#bD)" opacity="0.9"/>
<circle cx="616.8" cy="93.6" r="3.8" fill="url(#bD)" opacity="0.9"/>
<circle cx="619.8" cy="97.9" r="5.2" fill="url(#bM)"/>
<circle cx="630.7" cy="99.9" r="7.1" fill="url(#bH)" opacity="0.35"/>
<circle cx="631.0" cy="96.7" r="2.9" fill="url(#bD)" opacity="0.9"/>
<circle cx="634.9" cy="104.2" r="3.1" fill="url(#bD)" opacity="0.9"/>
<circle cx="628.4" cy="99.7" r="2.5" fill="url(#bD)" opacity="0.9"/>
<circle cx="630.6" cy="100.9" r="4.6" fill="url(#bD)"/>
<circle cx="641.5" cy="108.1" r="7.7" fill="url(#bH)" opacity="0.35"/>
<circle cx="643.2" cy="106.5" r="2.9" fill="url(#bD)" opacity="0.9"/>
<circle cx="643.5" cy="112.4" r="3.7" fill="url(#bD)" opacity="0.9"/>
<circle cx="643.5" cy="110.9" r="3.6" fill="url(#bD)" opacity="0.9"/>
<circle cx="640.7" cy="108.1" r="5.2" fill="url(#bM)"/>
<circle cx="665.3" cy="109.1" r="7.1" fill="url(#bH)" opacity="0.35"/>
<circle cx="664.8" cy="104.8" r="2.3" fill="url(#bD)" opacity="0.9"/>
<circle cx="664.1" cy="106.9" r="3.1" fill="url(#bD)" opacity="0.9"/>
<circle cx="670.2" cy="108.6" r="3.4" fill="url(#bD)" opacity="0.9"/>
<circle cx="666.1" cy="109.1" r="4.6" fill="url(#bD)"/>
<circle cx="689.9" cy="106.4" r="7.1" fill="url(#bH)" opacity="0.35"/>
<circle cx="687.2" cy="102.5" r="2.6" fill="url(#bD)" opacity="0.9"/>
<circle cx="685.7" cy="102.3" r="3.0" fill="url(#bD)" opacity="0.9"/>
<circle cx="692.0" cy="108.1" r="2.9" fill="url(#bD)" opacity="0.9"/>
<circle cx="688.4" cy="105.0" r="4.6" fill="url(#bD)"/>
<circle cx="716.3" cy="93.7" r="7.7" fill="url(#bH)" opacity="0.35"/>
<circle cx="712.1" cy="94.3" r="3.8" fill="url(#bD)" opacity="0.9"/>
<circle cx="718.4" cy="95.1" r="3.2" fill="url(#bD)" opacity="0.9"/>
<circle cx="713.0" cy="95.4" r="3.0" fill="url(#bD)" opacity="0.9"/>
<circle cx="715.8" cy="92.8" r="5.2" fill="url(#bM)"/>
<circle cx="545.6" cy="121.0" r="8.7" fill="url(#bH)" opacity="0.35"/>
<circle cx="543.7" cy="118.7" r="4.6" fill="url(#bD)" opacity="0.9"/>
<circle cx="546.7" cy="116.7" r="3.3" fill="url(#bD)" opacity="0.9"/>
<circle cx="541.5" cy="123.3" r="4.4" fill="url(#bD)" opacity="0.9"/>
<circle cx="582.8" cy="116.1" r="7.7" fill="url(#bH)" opacity="0.35"/>
<circle cx="588.2" cy="116.6" r="3.1" fill="url(#bD)" opacity="0.9"/>
<circle cx="584.3" cy="111.8" r="2.6" fill="url(#bD)" opacity="0.9"/>
<circle cx="588.1" cy="116.5" r="3.3" fill="url(#bD)" opacity="0.9"/>
<circle cx="583.9" cy="115.2" r="5.2" fill="url(#bM)"/>
<circle cx="607.5" cy="123.1" r="7.5" fill="url(#bH)" opacity="0.35"/>
<circle cx="609.5" cy="126.2" r="2.8" fill="url(#bD)" opacity="0.9"/>
<circle cx="604.0" cy="121.4" r="2.8" fill="url(#bD)" opacity="0.9"/>
<circle cx="607.0" cy="121.1" r="3.0" fill="url(#bD)" opacity="0.9"/>
<circle cx="606.2" cy="123.3" r="5.0" fill="url(#bW)"/>
<circle cx="559.4" cy="131.6" r="7.7" fill="url(#bH)" opacity="0.35"/>
<circle cx="559.2" cy="130.0" r="3.4" fill="url(#bD)" opacity="0.9"/>
<circle cx="564.2" cy="129.7" r="3.8" fill="url(#bD)" opacity="0.9"/>
<circle cx="560.5" cy="130.7" r="3.3" fill="url(#bD)" opacity="0.9"/>
<circle cx="560.5" cy="130.4" r="5.2" fill="url(#bM)"/>
<circle cx="628.5" cy="132.2" r="7.5" fill="url(#bH)" opacity="0.35"/>
<circle cx="627.1" cy="128.0" r="3.5" fill="url(#bD)" opacity="0.9"/>
<circle cx="627.0" cy="132.2" r="3.4" fill="url(#bD)" opacity="0.9"/>
<circle cx="630.5" cy="130.9" r="3.1" fill="url(#bD)" opacity="0.9"/>
<circle cx="630.0" cy="132.4" r="5.0" fill="url(#bW)"/>
<circle cx="657.1" cy="135.9" r="7.7" fill="url(#bH)" opacity="0.35"/>
<circle cx="653.4" cy="135.6" r="2.9" fill="url(#bD)" opacity="0.9"/>
<circle cx="655.0" cy="137.5" r="3.3" fill="url(#bD)" opacity="0.9"/>
<circle cx="657.5" cy="137.4" r="3.8" fill="url(#bD)" opacity="0.9"/>
<circle cx="657.0" cy="135.1" r="5.2" fill="url(#bM)"/>
<circle cx="679.1" cy="126.1" r="7.7" fill="url(#bH)" opacity="0.35"/>
<circle cx="679.3" cy="125.8" r="3.5" fill="url(#bD)" opacity="0.9"/>
<circle cx="678.9" cy="126.0" r="3.2" fill="url(#bD)" opacity="0.9"/>
<circle cx="683.3" cy="127.5" r="3.7" fill="url(#bD)" opacity="0.9"/>
<circle cx="679.3" cy="125.7" r="5.2" fill="url(#bM)"/>
<circle cx="706.0" cy="120.5" r="7.7" fill="url(#bH)" opacity="0.35"/>
<circle cx="705.2" cy="125.2" r="3.7" fill="url(#bD)" opacity="0.9"/>
<circle cx="701.4" cy="117.8" r="3.2" fill="url(#bD)" opacity="0.9"/>
<circle cx="700.8" cy="118.9" r="2.7" fill="url(#bD)" opacity="0.9"/>
<circle cx="704.7" cy="121.2" r="5.2" fill="url(#bM)"/>
<circle cx="537.7" cy="144.0" r="7.7" fill="url(#bH)" opacity="0.35"/>
<circle cx="540.7" cy="140.1" r="3.5" fill="url(#bD)" opacity="0.9"/>
<circle cx="538.6" cy="140.0" r="3.7" fill="url(#bD)" opacity="0.9"/>
<circle cx="541.4" cy="140.7" r="3.8" fill="url(#bD)" opacity="0.9"/>
<circle cx="537.2" cy="143.2" r="5.2" fill="url(#bM)"/>
<circle cx="584.2" cy="139.9" r="7.7" fill="url(#bH)" opacity="0.35"/>
<circle cx="588.9" cy="142.9" r="2.8" fill="url(#bD)" opacity="0.9"/>
<circle cx="583.9" cy="140.1" r="3.0" fill="url(#bD)" opacity="0.9"/>
<circle cx="581.7" cy="138.3" r="3.5" fill="url(#bD)" opacity="0.9"/>
<circle cx="584.5" cy="139.9" r="5.2" fill="url(#bM)"/>
<circle cx="605.8" cy="149.4" r="7.1" fill="url(#bH)" opacity="0.35"/>
<circle cx="606.7" cy="144.9" r="2.7" fill="url(#bD)" opacity="0.9"/>
<circle cx="608.3" cy="149.4" r="2.4" fill="url(#bD)" opacity="0.9"/>
<circle cx="611.6" cy="151.9" r="3.4" fill="url(#bD)" opacity="0.9"/>
<circle cx="607.2" cy="149.3" r="4.6" fill="url(#bD)"/>
<circle cx="561.4" cy="152.6" r="7.7" fill="url(#bH)" opacity="0.35"/>
<circle cx="558.4" cy="155.8" r="3.0" fill="url(#bD)" opacity="0.9"/>
<circle cx="559.2" cy="152.6" r="3.8" fill="url(#bD)" opacity="0.9"/>
<circle cx="565.4" cy="151.2" r="2.8" fill="url(#bD)" opacity="0.9"/>
<circle cx="562.5" cy="153.3" r="5.2" fill="url(#bM)"/>
<circle cx="631.2" cy="157.0" r="7.7" fill="url(#bH)" opacity="0.35"/>
<circle cx="631.8" cy="153.1" r="2.7" fill="url(#bD)" opacity="0.9"/>
<circle cx="631.7" cy="156.1" r="2.7" fill="url(#bD)" opacity="0.9"/>
<circle cx="633.9" cy="158.0" r="3.6" fill="url(#bD)" opacity="0.9"/>
<circle cx="630.0" cy="156.8" r="5.2" fill="url(#bM)"/>
<circle cx="652.3" cy="161.3" r="7.7" fill="url(#bH)" opacity="0.35"/>
<circle cx="649.6" cy="163.5" r="3.2" fill="url(#bD)" opacity="0.9"/>
<circle cx="652.1" cy="160.7" r="3.8" fill="url(#bD)" opacity="0.9"/>
<circle cx="651.4" cy="156.9" r="3.3" fill="url(#bD)" opacity="0.9"/>
<circle cx="653.5" cy="160.2" r="5.2" fill="url(#bM)"/>
<circle cx="679.5" cy="150.5" r="7.5" fill="url(#bH)" opacity="0.35"/>
<circle cx="677.3" cy="147.7" r="2.8" fill="url(#bD)" opacity="0.9"/>
<circle cx="678.6" cy="150.0" r="3.4" fill="url(#bD)" opacity="0.9"/>
<circle cx="678.4" cy="151.7" r="2.7" fill="url(#bD)" opacity="0.9"/>
<circle cx="680.3" cy="151.7" r="5.0" fill="url(#bW)"/>
<circle cx="672.1" cy="152.7" r="7.7" fill="url(#bH)" opacity="0.35"/>
<circle cx="670.4" cy="149.8" r="3.6" fill="url(#bD)" opacity="0.9"/>
<circle cx="673.1" cy="151.3" r="3.2" fill="url(#bD)" opacity="0.9"/>
<circle cx="676.5" cy="150.6" r="3.7" fill="url(#bD)" opacity="0.9"/>
<circle cx="672.6" cy="154.1" r="5.2" fill="url(#bM)"/>
<circle cx="698.0" cy="142.6" r="7.7" fill="url(#bH)" opacity="0.35"/>
<circle cx="701.2" cy="141.6" r="3.3" fill="url(#bD)" opacity="0.9"/>
<circle cx="699.9" cy="146.9" r="3.0" fill="url(#bD)" opacity="0.9"/>
<circle cx="701.2" cy="144.4" r="3.4" fill="url(#bD)" opacity="0.9"/>
<circle cx="698.2" cy="142.6" r="5.2" fill="url(#bM)"/>
<circle cx="722.3" cy="139.1" r="7.7" fill="url(#bH)" opacity="0.35"/>
<circle cx="718.5" cy="136.2" r="2.7" fill="url(#bD)" opacity="0.9"/>
<circle cx="724.7" cy="137.3" r="2.8" fill="url(#bD)" opacity="0.9"/>
<circle cx="718.8" cy="142.6" r="3.7" fill="url(#bD)" opacity="0.9"/>
<circle cx="722.5" cy="139.5" r="5.2" fill="url(#bM)"/>
<circle cx="543.8" cy="167.3" r="7.1" fill="url(#bH)" opacity="0.35"/>
<circle cx="540.9" cy="166.1" r="2.8" fill="url(#bD)" opacity="0.9"/>
<circle cx="540.2" cy="167.5" r="2.6" fill="url(#bD)" opacity="0.9"/>
<circle cx="547.4" cy="172.2" r="2.9" fill="url(#bD)" opacity="0.9"/>
<circle cx="543.3" cy="167.9" r="4.6" fill="url(#bD)"/>
<circle cx="587.8" cy="165.7" r="7.7" fill="url(#bH)" opacity="0.35"/>
<circle cx="586.8" cy="163.0" r="2.6" fill="url(#bD)" opacity="0.9"/>
<circle cx="587.5" cy="164.1" r="3.3" fill="url(#bD)" opacity="0.9"/>
<circle cx="585.8" cy="164.3" r="2.6" fill="url(#bD)" opacity="0.9"/>
<circle cx="588.5" cy="164.3" r="5.2" fill="url(#bM)"/>
<circle cx="631.9" cy="166.7" r="7.1" fill="url(#bH)" opacity="0.35"/>
<circle cx="631.7" cy="163.8" r="2.3" fill="url(#bD)" opacity="0.9"/>
<circle cx="630.8" cy="165.5" r="3.0" fill="url(#bD)" opacity="0.9"/>
<circle cx="632.9" cy="170.2" r="3.1" fill="url(#bD)" opacity="0.9"/>
<circle cx="632.6" cy="167.9" r="4.6" fill="url(#bD)"/>
<circle cx="693.6" cy="169.1" r="7.7" fill="url(#bH)" opacity="0.35"/>
<circle cx="691.9" cy="166.4" r="3.9" fill="url(#bD)" opacity="0.9"/>
<circle cx="689.7" cy="170.0" r="3.4" fill="url(#bD)" opacity="0.9"/>
<circle cx="688.8" cy="171.0" r="3.8" fill="url(#bD)" opacity="0.9"/>
<circle cx="692.9" cy="167.9" r="5.2" fill="url(#bM)"/>
<circle cx="714.2" cy="163.0" r="7.1" fill="url(#bH)" opacity="0.35"/>
<circle cx="716.6" cy="159.0" r="2.9" fill="url(#bD)" opacity="0.9"/>
<circle cx="713.9" cy="165.3" r="3.2" fill="url(#bD)" opacity="0.9"/>
<circle cx="716.8" cy="163.0" r="3.3" fill="url(#bD)" opacity="0.9"/>
<circle cx="713.8" cy="162.3" r="4.6" fill="url(#bD)"/>
<circle cx="564.1" cy="180.3" r="7.7" fill="url(#bH)" opacity="0.35"/>
<circle cx="561.1" cy="175.5" r="2.8" fill="url(#bD)" opacity="0.9"/>
<circle cx="562.3" cy="176.2" r="3.7" fill="url(#bD)" opacity="0.9"/>
<circle cx="564.1" cy="180.9" r="3.4" fill="url(#bD)" opacity="0.9"/>
<circle cx="563.6" cy="179.7" r="5.2" fill="url(#bM)"/>
<circle cx="612.8" cy="181.1" r="7.7" fill="url(#bH)" opacity="0.35"/>
<circle cx="607.8" cy="183.8" r="3.6" fill="url(#bD)" opacity="0.9"/>
<circle cx="612.3" cy="181.5" r="3.5" fill="url(#bD)" opacity="0.9"/>
<circle cx="608.4" cy="183.3" r="2.9" fill="url(#bD)" opacity="0.9"/>
<circle cx="612.3" cy="181.1" r="5.2" fill="url(#bM)"/>
<circle cx="634.4" cy="187.6" r="7.7" fill="url(#bH)" opacity="0.35"/>
<circle cx="637.7" cy="185.6" r="3.6" fill="url(#bD)" opacity="0.9"/>
<circle cx="639.9" cy="188.2" r="3.1" fill="url(#bD)" opacity="0.9"/>
<circle cx="635.5" cy="189.9" r="3.6" fill="url(#bD)" opacity="0.9"/>
<circle cx="635.6" cy="188.3" r="5.2" fill="url(#bM)"/>
<circle cx="666.5" cy="183.0" r="7.1" fill="url(#bH)" opacity="0.35"/>
<circle cx="662.3" cy="179.4" r="2.6" fill="url(#bD)" opacity="0.9"/>
<circle cx="668.3" cy="180.8" r="3.0" fill="url(#bD)" opacity="0.9"/>
<circle cx="661.7" cy="178.6" r="2.6" fill="url(#bD)" opacity="0.9"/>
<circle cx="666.1" cy="182.6" r="4.6" fill="url(#bD)"/>
<circle cx="693.0" cy="188.8" r="7.1" fill="url(#bH)" opacity="0.35"/>
<circle cx="694.1" cy="186.4" r="2.9" fill="url(#bD)" opacity="0.9"/>
<circle cx="692.2" cy="188.0" r="2.4" fill="url(#bD)" opacity="0.9"/>
<circle cx="696.0" cy="185.5" r="3.4" fill="url(#bD)" opacity="0.9"/>
<circle cx="692.5" cy="188.3" r="4.6" fill="url(#bD)"/>
<circle cx="718.2" cy="184.4" r="7.7" fill="url(#bH)" opacity="0.35"/>
<circle cx="716.5" cy="188.7" r="3.9" fill="url(#bD)" opacity="0.9"/>
<circle cx="716.4" cy="183.7" r="2.9" fill="url(#bD)" opacity="0.9"/>
<circle cx="720.9" cy="183.2" r="3.4" fill="url(#bD)" opacity="0.9"/>
<circle cx="716.9" cy="185.8" r="5.2" fill="url(#bM)"/>
<circle cx="721.5" cy="185.9" r="7.5" fill="url(#bH)" opacity="0.35"/>
<circle cx="726.6" cy="182.5" r="3.5" fill="url(#bD)" opacity="0.9"/>
<circle cx="722.6" cy="189.3" r="3.4" fill="url(#bD)" opacity="0.9"/>
<circle cx="720.1" cy="189.4" r="3.1" fill="url(#bD)" opacity="0.9"/>
<circle cx="722.5" cy="185.8" r="5.0" fill="url(#bW)"/>
<circle cx="539.8" cy="200.6" r="7.7" fill="url(#bH)" opacity="0.35"/>
<circle cx="541.2" cy="201.6" r="3.0" fill="url(#bD)" opacity="0.9"/>
<circle cx="538.0" cy="200.7" r="3.0" fill="url(#bD)" opacity="0.9"/>
<circle cx="544.3" cy="197.6" r="3.6" fill="url(#bD)" opacity="0.9"/>
<circle cx="541.2" cy="202.1" r="5.2" fill="url(#bM)"/>
<circle cx="588.9" cy="193.6" r="7.7" fill="url(#bH)" opacity="0.35"/>
<circle cx="591.8" cy="196.7" r="3.8" fill="url(#bD)" opacity="0.9"/>
<circle cx="586.0" cy="193.6" r="3.1" fill="url(#bD)" opacity="0.9"/>
<circle cx="592.4" cy="195.6" r="3.1" fill="url(#bD)" opacity="0.9"/>
<circle cx="587.9" cy="194.8" r="5.2" fill="url(#bM)"/>
<circle cx="660.8" cy="199.4" r="7.5" fill="url(#bH)" opacity="0.35"/>
<circle cx="657.0" cy="196.4" r="3.5" fill="url(#bD)" opacity="0.9"/>
<circle cx="659.1" cy="204.0" r="2.8" fill="url(#bD)" opacity="0.9"/>
<circle cx="658.9" cy="200.1" r="2.7" fill="url(#bD)" opacity="0.9"/>
<circle cx="661.0" cy="200.0" r="5.0" fill="url(#bW)"/>
<circle cx="616.6" cy="206.9" r="7.5" fill="url(#bH)" opacity="0.35"/>
<circle cx="620.4" cy="208.3" r="3.3" fill="url(#bD)" opacity="0.9"/>
<circle cx="620.7" cy="209.5" r="3.2" fill="url(#bD)" opacity="0.9"/>
<circle cx="618.9" cy="201.5" r="3.4" fill="url(#bD)" opacity="0.9"/>
<circle cx="617.0" cy="205.5" r="5.0" fill="url(#bW)"/>
<circle cx="568.9" cy="209.7" r="7.7" fill="url(#bH)" opacity="0.35"/>
<circle cx="570.3" cy="207.0" r="2.7" fill="url(#bD)" opacity="0.9"/>
<circle cx="572.9" cy="205.6" r="3.2" fill="url(#bD)" opacity="0.9"/>
<circle cx="567.6" cy="207.1" r="3.6" fill="url(#bD)" opacity="0.9"/>
<circle cx="569.0" cy="209.0" r="5.2" fill="url(#bM)"/>
<circle cx="596.1" cy="216.0" r="7.7" fill="url(#bH)" opacity="0.35"/>
<circle cx="596.0" cy="214.9" r="3.3" fill="url(#bD)" opacity="0.9"/>
<circle cx="593.7" cy="213.7" r="2.8" fill="url(#bD)" opacity="0.9"/>
<circle cx="592.0" cy="220.3" r="3.2" fill="url(#bD)" opacity="0.9"/>
<circle cx="594.6" cy="216.7" r="5.2" fill="url(#bM)"/>
<circle cx="640.9" cy="215.9" r="7.7" fill="url(#bH)" opacity="0.35"/>
<circle cx="646.2" cy="214.2" r="2.8" fill="url(#bD)" opacity="0.9"/>
<circle cx="639.0" cy="211.0" r="3.0" fill="url(#bD)" opacity="0.9"/>
<circle cx="638.1" cy="212.3" r="2.9" fill="url(#bD)" opacity="0.9"/>
<circle cx="641.7" cy="214.6" r="5.2" fill="url(#bM)"/>
<circle cx="684.6" cy="211.8" r="7.1" fill="url(#bH)" opacity="0.35"/>
<circle cx="686.6" cy="209.8" r="2.8" fill="url(#bD)" opacity="0.9"/>
<circle cx="684.6" cy="209.5" r="2.7" fill="url(#bD)" opacity="0.9"/>
<circle cx="680.4" cy="208.6" r="3.4" fill="url(#bD)" opacity="0.9"/>
<circle cx="684.4" cy="210.6" r="4.6" fill="url(#bD)"/>
<circle cx="703.6" cy="214.7" r="7.7" fill="url(#bH)" opacity="0.35"/>
<circle cx="705.8" cy="217.9" r="2.9" fill="url(#bD)" opacity="0.9"/>
<circle cx="702.6" cy="212.4" r="3.1" fill="url(#bD)" opacity="0.9"/>
<circle cx="704.2" cy="218.7" r="3.7" fill="url(#bD)" opacity="0.9"/>
<circle cx="704.7" cy="214.6" r="5.2" fill="url(#bM)"/>
<circle cx="536.3" cy="225.0" r="7.7" fill="url(#bH)" opacity="0.35"/>
<circle cx="530.9" cy="228.3" r="3.8" fill="url(#bD)" opacity="0.9"/>
<circle cx="534.9" cy="227.2" r="2.6" fill="url(#bD)" opacity="0.9"/>
<circle cx="534.2" cy="230.3" r="3.7" fill="url(#bD)" opacity="0.9"/>
<circle cx="535.1" cy="226.4" r="5.2" fill="url(#bM)"/>
<circle cx="618.0" cy="233.3" r="7.7" fill="url(#bH)" opacity="0.35"/>
<circle cx="614.7" cy="228.4" r="2.8" fill="url(#bD)" opacity="0.9"/>
<circle cx="617.2" cy="233.5" r="3.8" fill="url(#bD)" opacity="0.9"/>
<circle cx="619.0" cy="233.2" r="3.6" fill="url(#bD)" opacity="0.9"/>
<circle cx="617.0" cy="231.9" r="5.2" fill="url(#bM)"/>
<circle cx="575.6" cy="233.1" r="7.7" fill="url(#bH)" opacity="0.35"/>
<circle cx="571.6" cy="235.5" r="2.9" fill="url(#bD)" opacity="0.9"/>
<circle cx="579.5" cy="234.2" r="3.0" fill="url(#bD)" opacity="0.9"/>
<circle cx="572.4" cy="230.7" r="3.4" fill="url(#bD)" opacity="0.9"/>
<circle cx="575.7" cy="232.9" r="5.2" fill="url(#bM)"/>
<circle cx="663.0" cy="227.3" r="7.5" fill="url(#bH)" opacity="0.35"/>
<circle cx="658.6" cy="228.7" r="3.2" fill="url(#bD)" opacity="0.9"/>
<circle cx="661.4" cy="226.0" r="3.3" fill="url(#bD)" opacity="0.9"/>
<circle cx="658.0" cy="226.7" r="3.1" fill="url(#bD)" opacity="0.9"/>
<circle cx="662.4" cy="228.5" r="5.0" fill="url(#bW)"/>
<circle cx="716.2" cy="233.4" r="7.7" fill="url(#bH)" opacity="0.35"/>
<circle cx="718.3" cy="232.7" r="2.9" fill="url(#bD)" opacity="0.9"/>
<circle cx="712.6" cy="237.1" r="3.5" fill="url(#bD)" opacity="0.9"/>
<circle cx="713.1" cy="228.6" r="3.2" fill="url(#bD)" opacity="0.9"/>
<circle cx="714.8" cy="232.9" r="5.2" fill="url(#bM)"/>
<circle cx="779.3" cy="40.2" r="7.7" fill="url(#bH)" opacity="0.35"/>
<circle cx="776.6" cy="41.9" r="3.8" fill="url(#bD)" opacity="0.9"/>
<circle cx="776.4" cy="36.2" r="3.0" fill="url(#bD)" opacity="0.9"/>
<circle cx="778.1" cy="42.1" r="2.9" fill="url(#bD)" opacity="0.9"/>
<circle cx="778.8" cy="40.4" r="5.2" fill="url(#bM)"/>
<circle cx="798.4" cy="45.8" r="7.7" fill="url(#bH)" opacity="0.35"/>
<circle cx="797.5" cy="42.5" r="3.9" fill="url(#bD)" opacity="0.9"/>
<circle cx="795.8" cy="48.0" r="2.9" fill="url(#bD)" opacity="0.9"/>
<circle cx="795.0" cy="47.5" r="3.0" fill="url(#bD)" opacity="0.9"/>
<circle cx="797.5" cy="45.1" r="5.2" fill="url(#bM)"/>
<circle cx="824.8" cy="45.1" r="7.7" fill="url(#bH)" opacity="0.35"/>
<circle cx="820.7" cy="42.6" r="3.1" fill="url(#bD)" opacity="0.9"/>
<circle cx="825.0" cy="49.1" r="2.8" fill="url(#bD)" opacity="0.9"/>
<circle cx="822.5" cy="42.5" r="3.9" fill="url(#bD)" opacity="0.9"/>
<circle cx="823.5" cy="45.1" r="5.2" fill="url(#bM)"/>
<circle cx="847.8" cy="48.4" r="7.7" fill="url(#bH)" opacity="0.35"/>
<circle cx="844.9" cy="48.8" r="3.8" fill="url(#bD)" opacity="0.9"/>
<circle cx="852.3" cy="51.9" r="3.9" fill="url(#bD)" opacity="0.9"/>
<circle cx="852.8" cy="48.2" r="2.8" fill="url(#bD)" opacity="0.9"/>
<circle cx="848.9" cy="49.8" r="5.2" fill="url(#bM)"/>
<circle cx="886.7" cy="47.9" r="7.7" fill="url(#bH)" opacity="0.35"/>
<circle cx="881.2" cy="48.6" r="3.1" fill="url(#bD)" opacity="0.9"/>
<circle cx="884.3" cy="45.6" r="2.8" fill="url(#bD)" opacity="0.9"/>
<circle cx="880.9" cy="45.2" r="3.1" fill="url(#bD)" opacity="0.9"/>
<circle cx="885.4" cy="47.1" r="5.2" fill="url(#bM)"/>
<circle cx="909.1" cy="52.1" r="7.7" fill="url(#bH)" opacity="0.35"/>
<circle cx="911.9" cy="50.6" r="3.1" fill="url(#bD)" opacity="0.9"/>
<circle cx="910.7" cy="56.1" r="3.2" fill="url(#bD)" opacity="0.9"/>
<circle cx="903.7" cy="53.0" r="3.1" fill="url(#bD)" opacity="0.9"/>
<circle cx="907.8" cy="53.2" r="5.2" fill="url(#bM)"/>
<circle cx="769.5" cy="57.4" r="7.5" fill="url(#bH)" opacity="0.35"/>
<circle cx="767.0" cy="61.9" r="2.5" fill="url(#bD)" opacity="0.9"/>
<circle cx="767.5" cy="61.1" r="3.5" fill="url(#bD)" opacity="0.9"/>
<circle cx="764.1" cy="54.1" r="2.6" fill="url(#bD)" opacity="0.9"/>
<circle cx="768.3" cy="58.3" r="5.0" fill="url(#bW)"/>
<circle cx="750.0" cy="65.3" r="7.7" fill="url(#bH)" opacity="0.35"/>
<circle cx="751.0" cy="69.6" r="3.0" fill="url(#bD)" opacity="0.9"/>
<circle cx="746.7" cy="70.1" r="3.4" fill="url(#bD)" opacity="0.9"/>
<circle cx="746.6" cy="68.0" r="3.0" fill="url(#bD)" opacity="0.9"/>
<circle cx="748.8" cy="66.0" r="5.2" fill="url(#bM)"/>
<circle cx="800.1" cy="59.3" r="7.1" fill="url(#bH)" opacity="0.35"/>
<circle cx="803.1" cy="64.5" r="3.0" fill="url(#bD)" opacity="0.9"/>
<circle cx="804.7" cy="56.5" r="2.6" fill="url(#bD)" opacity="0.9"/>
<circle cx="800.5" cy="64.9" r="3.4" fill="url(#bD)" opacity="0.9"/>
<circle cx="800.8" cy="60.7" r="4.6" fill="url(#bD)"/>
<circle cx="827.2" cy="69.7" r="7.5" fill="url(#bH)" opacity="0.35"/>
<circle cx="826.9" cy="70.4" r="3.7" fill="url(#bD)" opacity="0.9"/>
<circle cx="824.7" cy="73.2" r="3.4" fill="url(#bD)" opacity="0.9"/>
<circle cx="830.5" cy="72.9" r="3.3" fill="url(#bD)" opacity="0.9"/>
<circle cx="827.6" cy="70.5" r="5.0" fill="url(#bW)"/>
<circle cx="865.6" cy="62.8" r="7.7" fill="url(#bH)" opacity="0.35"/>
<circle cx="864.9" cy="65.9" r="2.7" fill="url(#bD)" opacity="0.9"/>
<circle cx="863.4" cy="65.7" r="2.9" fill="url(#bD)" opacity="0.9"/>
<circle cx="862.2" cy="59.2" r="3.3" fill="url(#bD)" opacity="0.9"/>
<circle cx="866.1" cy="63.4" r="5.2" fill="url(#bM)"/>
<circle cx="889.6" cy="73.6" r="7.7" fill="url(#bH)" opacity="0.35"/>
<circle cx="893.5" cy="76.5" r="2.9" fill="url(#bD)" opacity="0.9"/>
<circle cx="886.3" cy="68.5" r="3.2" fill="url(#bD)" opacity="0.9"/>
<circle cx="892.0" cy="71.6" r="2.9" fill="url(#bD)" opacity="0.9"/>
<circle cx="890.1" cy="72.1" r="5.2" fill="url(#bM)"/>
<circle cx="741.0" cy="85.1" r="8.7" fill="url(#bH)" opacity="0.35"/>
<circle cx="742.8" cy="86.9" r="4.4" fill="url(#bD)" opacity="0.9"/>
<circle cx="742.7" cy="81.3" r="4.4" fill="url(#bD)" opacity="0.9"/>
<circle cx="739.4" cy="85.3" r="3.7" fill="url(#bD)" opacity="0.9"/>
<circle cx="766.3" cy="85.4" r="7.7" fill="url(#bH)" opacity="0.35"/>
<circle cx="763.4" cy="84.0" r="2.8" fill="url(#bD)" opacity="0.9"/>
<circle cx="769.1" cy="87.0" r="3.0" fill="url(#bD)" opacity="0.9"/>
<circle cx="764.7" cy="90.8" r="3.3" fill="url(#bD)" opacity="0.9"/>
<circle cx="765.6" cy="86.3" r="5.2" fill="url(#bM)"/>
<circle cx="787.8" cy="80.5" r="7.7" fill="url(#bH)" opacity="0.35"/>
<circle cx="789.9" cy="84.0" r="2.7" fill="url(#bD)" opacity="0.9"/>
<circle cx="788.3" cy="82.5" r="3.7" fill="url(#bD)" opacity="0.9"/>
<circle cx="792.3" cy="75.5" r="3.0" fill="url(#bD)" opacity="0.9"/>
<circle cx="788.6" cy="79.6" r="5.2" fill="url(#bM)"/>
<circle cx="806.5" cy="81.7" r="7.5" fill="url(#bH)" opacity="0.35"/>
<circle cx="811.9" cy="83.4" r="3.7" fill="url(#bD)" opacity="0.9"/>
<circle cx="806.5" cy="86.0" r="3.1" fill="url(#bD)" opacity="0.9"/>
<circle cx="805.5" cy="85.2" r="3.7" fill="url(#bD)" opacity="0.9"/>
<circle cx="807.7" cy="82.7" r="5.0" fill="url(#bW)"/>
<circle cx="848.3" cy="78.5" r="7.7" fill="url(#bH)" opacity="0.35"/>
<circle cx="850.6" cy="75.7" r="3.1" fill="url(#bD)" opacity="0.9"/>
<circle cx="846.3" cy="75.5" r="2.9" fill="url(#bD)" opacity="0.9"/>
<circle cx="850.4" cy="79.6" r="2.9" fill="url(#bD)" opacity="0.9"/>
<circle cx="849.5" cy="78.2" r="5.2" fill="url(#bM)"/>
<circle cx="872.8" cy="89.9" r="7.7" fill="url(#bH)" opacity="0.35"/>
<circle cx="875.9" cy="87.6" r="3.0" fill="url(#bD)" opacity="0.9"/>
<circle cx="871.6" cy="93.0" r="3.3" fill="url(#bD)" opacity="0.9"/>
<circle cx="870.3" cy="86.8" r="3.1" fill="url(#bD)" opacity="0.9"/>
<circle cx="874.3" cy="90.4" r="5.2" fill="url(#bM)"/>
<circle cx="909.9" cy="87.6" r="7.5" fill="url(#bH)" opacity="0.35"/>
<circle cx="906.1" cy="84.1" r="3.4" fill="url(#bD)" opacity="0.9"/>
<circle cx="909.0" cy="85.2" r="2.9" fill="url(#bD)" opacity="0.9"/>
<circle cx="913.9" cy="85.4" r="3.2" fill="url(#bD)" opacity="0.9"/>
<circle cx="909.8" cy="87.1" r="5.0" fill="url(#bW)"/>
<circle cx="823.1" cy="97.6" r="7.7" fill="url(#bH)" opacity="0.35"/>
<circle cx="826.8" cy="102.4" r="3.1" fill="url(#bD)" opacity="0.9"/>
<circle cx="820.8" cy="100.0" r="2.9" fill="url(#bD)" opacity="0.9"/>
<circle cx="819.0" cy="101.5" r="3.2" fill="url(#bD)" opacity="0.9"/>
<circle cx="823.5" cy="97.9" r="5.2" fill="url(#bM)"/>
<circle cx="850.4" cy="99.6" r="7.5" fill="url(#bH)" opacity="0.35"/>
<circle cx="852.9" cy="99.6" r="2.7" fill="url(#bD)" opacity="0.9"/>
<circle cx="845.1" cy="100.4" r="3.3" fill="url(#bD)" opacity="0.9"/>
<circle cx="853.2" cy="96.2" r="3.3" fill="url(#bD)" opacity="0.9"/>
<circle cx="849.5" cy="99.9" r="5.0" fill="url(#bW)"/>
<circle cx="795.7" cy="108.1" r="7.5" fill="url(#bH)" opacity="0.35"/>
<circle cx="792.9" cy="106.1" r="3.2" fill="url(#bD)" opacity="0.9"/>
<circle cx="799.9" cy="104.5" r="3.1" fill="url(#bD)" opacity="0.9"/>
<circle cx="798.8" cy="112.3" r="2.7" fill="url(#bD)" opacity="0.9"/>
<circle cx="796.1" cy="108.1" r="5.0" fill="url(#bW)"/>
<circle cx="752.9" cy="109.4" r="7.1" fill="url(#bH)" opacity="0.35"/>
<circle cx="758.3" cy="107.9" r="2.4" fill="url(#bD)" opacity="0.9"/>
<circle cx="757.9" cy="107.0" r="3.3" fill="url(#bD)" opacity="0.9"/>
<circle cx="755.1" cy="111.0" r="2.5" fill="url(#bD)" opacity="0.9"/>
<circle cx="754.1" cy="108.1" r="4.6" fill="url(#bD)"/>
<circle cx="773.6" cy="110.3" r="7.7" fill="url(#bH)" opacity="0.35"/>
<circle cx="771.9" cy="114.2" r="3.7" fill="url(#bD)" opacity="0.9"/>
<circle cx="769.9" cy="108.6" r="3.1" fill="url(#bD)" opacity="0.9"/>
<circle cx="772.9" cy="110.0" r="2.8" fill="url(#bD)" opacity="0.9"/>
<circle cx="772.7" cy="111.1" r="5.2" fill="url(#bM)"/>
<circle cx="730.3" cy="115.4" r="7.7" fill="url(#bH)" opacity="0.35"/>
<circle cx="734.7" cy="110.6" r="3.3" fill="url(#bD)" opacity="0.9"/>
<circle cx="733.4" cy="110.6" r="3.7" fill="url(#bD)" opacity="0.9"/>
<circle cx="727.7" cy="115.6" r="3.3" fill="url(#bD)" opacity="0.9"/>
<circle cx="731.1" cy="114.8" r="5.2" fill="url(#bM)"/>
<circle cx="838.5" cy="119.7" r="7.7" fill="url(#bH)" opacity="0.35"/>
<circle cx="837.4" cy="121.0" r="3.2" fill="url(#bD)" opacity="0.9"/>
<circle cx="839.5" cy="119.8" r="3.2" fill="url(#bD)" opacity="0.9"/>
<circle cx="833.8" cy="121.3" r="3.2" fill="url(#bD)" opacity="0.9"/>
<circle cx="838.1" cy="120.2" r="5.2" fill="url(#bM)"/>
<circle cx="868.4" cy="115.9" r="7.7" fill="url(#bH)" opacity="0.35"/>
<circle cx="871.7" cy="114.8" r="2.8" fill="url(#bD)" opacity="0.9"/>
<circle cx="868.9" cy="111.6" r="2.8" fill="url(#bD)" opacity="0.9"/>
<circle cx="868.6" cy="111.5" r="3.2" fill="url(#bD)" opacity="0.9"/>
<circle cx="869.2" cy="115.2" r="5.2" fill="url(#bM)"/>
<circle cx="896.2" cy="116.8" r="7.7" fill="url(#bH)" opacity="0.35"/>
<circle cx="897.4" cy="114.4" r="3.6" fill="url(#bD)" opacity="0.9"/>
<circle cx="898.7" cy="118.3" r="2.7" fill="url(#bD)" opacity="0.9"/>
<circle cx="896.2" cy="117.1" r="3.8" fill="url(#bD)" opacity="0.9"/>
<circle cx="896.2" cy="118.2" r="5.2" fill="url(#bM)"/>
<circle cx="916.8" cy="114.6" r="7.1" fill="url(#bH)" opacity="0.35"/>
<circle cx="922.4" cy="115.6" r="3.2" fill="url(#bD)" opacity="0.9"/>
<circle cx="915.2" cy="117.9" r="2.9" fill="url(#bD)" opacity="0.9"/>
<circle cx="922.0" cy="117.3" r="2.5" fill="url(#bD)" opacity="0.9"/>
<circle cx="917.9" cy="113.5" r="4.6" fill="url(#bD)"/>
<circle cx="811.8" cy="128.2" r="7.7" fill="url(#bH)" opacity="0.35"/>
<circle cx="807.0" cy="125.6" r="3.6" fill="url(#bD)" opacity="0.9"/>
<circle cx="807.8" cy="130.5" r="3.0" fill="url(#bD)" opacity="0.9"/>
<circle cx="813.7" cy="123.7" r="3.3" fill="url(#bD)" opacity="0.9"/>
<circle cx="810.9" cy="126.9" r="5.2" fill="url(#bM)"/>
<circle cx="752.7" cy="132.2" r="7.7" fill="url(#bH)" opacity="0.35"/>
<circle cx="749.3" cy="133.1" r="3.0" fill="url(#bD)" opacity="0.9"/>
<circle cx="747.2" cy="130.2" r="2.8" fill="url(#bD)" opacity="0.9"/>
<circle cx="755.3" cy="134.6" r="3.8" fill="url(#bD)" opacity="0.9"/>
<circle cx="751.4" cy="133.0" r="5.2" fill="url(#bM)"/>
<circle cx="784.9" cy="134.3" r="7.7" fill="url(#bH)" opacity="0.35"/>
<circle cx="782.5" cy="133.7" r="3.4" fill="url(#bD)" opacity="0.9"/>
<circle cx="784.7" cy="136.8" r="3.3" fill="url(#bD)" opacity="0.9"/>
<circle cx="786.6" cy="136.9" r="2.7" fill="url(#bD)" opacity="0.9"/>
<circle cx="785.9" cy="133.4" r="5.2" fill="url(#bM)"/>
<circle cx="877.4" cy="134.8" r="7.7" fill="url(#bH)" opacity="0.35"/>
<circle cx="874.9" cy="137.1" r="2.9" fill="url(#bD)" opacity="0.9"/>
<circle cx="880.3" cy="135.1" r="3.1" fill="url(#bD)" opacity="0.9"/>
<circle cx="878.3" cy="133.9" r="2.8" fill="url(#bD)" opacity="0.9"/>
<circle cx="875.9" cy="134.4" r="5.2" fill="url(#bM)"/>
<circle cx="916.6" cy="137.8" r="7.7" fill="url(#bH)" opacity="0.35"/>
<circle cx="918.8" cy="136.9" r="3.4" fill="url(#bD)" opacity="0.9"/>
<circle cx="920.2" cy="139.9" r="3.5" fill="url(#bD)" opacity="0.9"/>
<circle cx="914.2" cy="134.6" r="2.6" fill="url(#bD)" opacity="0.9"/>
<circle cx="915.9" cy="139.1" r="5.2" fill="url(#bM)"/>
<circle cx="824.1" cy="148.0" r="7.1" fill="url(#bH)" opacity="0.35"/>
<circle cx="824.5" cy="147.8" r="3.3" fill="url(#bD)" opacity="0.9"/>
<circle cx="821.8" cy="145.2" r="3.1" fill="url(#bD)" opacity="0.9"/>
<circle cx="820.8" cy="143.2" r="2.7" fill="url(#bD)" opacity="0.9"/>
<circle cx="825.1" cy="147.6" r="4.6" fill="url(#bD)"/>
<circle cx="846.7" cy="148.2" r="7.7" fill="url(#bH)" opacity="0.35"/>
<circle cx="845.4" cy="149.4" r="3.4" fill="url(#bD)" opacity="0.9"/>
<circle cx="845.2" cy="149.8" r="3.2" fill="url(#bD)" opacity="0.9"/>
<circle cx="844.6" cy="152.6" r="2.9" fill="url(#bD)" opacity="0.9"/>
<circle cx="847.9" cy="148.7" r="5.2" fill="url(#bM)"/>
<circle cx="893.5" cy="139.9" r="7.1" fill="url(#bH)" opacity="0.35"/>
<circle cx="895.8" cy="144.5" r="3.2" fill="url(#bD)" opacity="0.9"/>
<circle cx="893.7" cy="139.0" r="2.3" fill="url(#bD)" opacity="0.9"/>
<circle cx="895.9" cy="141.7" r="2.7" fill="url(#bD)" opacity="0.9"/>
<circle cx="894.6" cy="141.1" r="4.6" fill="url(#bD)"/>
<circle cx="741.7" cy="155.2" r="7.5" fill="url(#bH)" opacity="0.35"/>
<circle cx="745.2" cy="157.5" r="2.8" fill="url(#bD)" opacity="0.9"/>
<circle cx="744.9" cy="151.3" r="3.2" fill="url(#bD)" opacity="0.9"/>
<circle cx="740.4" cy="153.0" r="2.6" fill="url(#bD)" opacity="0.9"/>
<circle cx="741.3" cy="155.4" r="5.0" fill="url(#bW)"/>
<circle cx="765.0" cy="151.3" r="7.7" fill="url(#bH)" opacity="0.35"/>
<circle cx="764.7" cy="156.7" r="2.8" fill="url(#bD)" opacity="0.9"/>
<circle cx="761.5" cy="153.7" r="3.3" fill="url(#bD)" opacity="0.9"/>
<circle cx="765.5" cy="155.5" r="2.8" fill="url(#bD)" opacity="0.9"/>
<circle cx="764.2" cy="152.7" r="5.2" fill="url(#bM)"/>
<circle cx="870.6" cy="157.2" r="7.7" fill="url(#bH)" opacity="0.35"/>
<circle cx="867.1" cy="161.3" r="3.6" fill="url(#bD)" opacity="0.9"/>
<circle cx="873.1" cy="153.4" r="3.7" fill="url(#bD)" opacity="0.9"/>
<circle cx="873.4" cy="157.5" r="3.6" fill="url(#bD)" opacity="0.9"/>
<circle cx="871.2" cy="157.8" r="5.2" fill="url(#bM)"/>
<circle cx="896.0" cy="158.6" r="7.7" fill="url(#bH)" opacity="0.35"/>
<circle cx="892.6" cy="157.0" r="2.7" fill="url(#bD)" opacity="0.9"/>
<circle cx="894.7" cy="161.7" r="3.5" fill="url(#bD)" opacity="0.9"/>
<circle cx="899.3" cy="161.3" r="2.9" fill="url(#bD)" opacity="0.9"/>
<circle cx="896.2" cy="159.4" r="5.2" fill="url(#bM)"/>
<circle cx="918.7" cy="159.2" r="7.1" fill="url(#bH)" opacity="0.35"/>
<circle cx="921.1" cy="159.6" r="2.6" fill="url(#bD)" opacity="0.9"/>
<circle cx="919.8" cy="163.6" r="2.5" fill="url(#bD)" opacity="0.9"/>
<circle cx="921.9" cy="155.1" r="2.6" fill="url(#bD)" opacity="0.9"/>
<circle cx="918.5" cy="159.4" r="4.6" fill="url(#bD)"/>
<circle cx="783.1" cy="167.1" r="7.7" fill="url(#bH)" opacity="0.35"/>
<circle cx="787.9" cy="168.5" r="3.0" fill="url(#bD)" opacity="0.9"/>
<circle cx="787.3" cy="164.8" r="2.9" fill="url(#bD)" opacity="0.9"/>
<circle cx="787.6" cy="167.5" r="3.5" fill="url(#bD)" opacity="0.9"/>
<circle cx="783.9" cy="166.3" r="5.2" fill="url(#bM)"/>
<circle cx="810.8" cy="170.4" r="7.7" fill="url(#bH)" opacity="0.35"/>
<circle cx="810.0" cy="172.0" r="3.5" fill="url(#bD)" opacity="0.9"/>
<circle cx="813.5" cy="168.4" r="3.5" fill="url(#bD)" opacity="0.9"/>
<circle cx="810.9" cy="167.2" r="2.9" fill="url(#bD)" opacity="0.9"/>
<circle cx="810.3" cy="169.0" r="5.2" fill="url(#bM)"/>
<circle cx="833.0" cy="170.3" r="7.5" fill="url(#bH)" opacity="0.35"/>
<circle cx="836.3" cy="168.4" r="2.5" fill="url(#bD)" opacity="0.9"/>
<circle cx="829.1" cy="175.5" r="2.9" fill="url(#bD)" opacity="0.9"/>
<circle cx="829.4" cy="167.4" r="2.6" fill="url(#bD)" opacity="0.9"/>
<circle cx="832.6" cy="171.6" r="5.0" fill="url(#bW)"/>
<circle cx="858.6" cy="176.9" r="7.7" fill="url(#bH)" opacity="0.35"/>
<circle cx="859.8" cy="178.6" r="2.7" fill="url(#bD)" opacity="0.9"/>
<circle cx="858.8" cy="175.2" r="3.7" fill="url(#bD)" opacity="0.9"/>
<circle cx="860.9" cy="180.0" r="2.7" fill="url(#bD)" opacity="0.9"/>
<circle cx="858.0" cy="176.5" r="5.2" fill="url(#bM)"/>
<circle cx="740.9" cy="181.4" r="7.5" fill="url(#bH)" opacity="0.35"/>
<circle cx="743.8" cy="176.6" r="2.8" fill="url(#bD)" opacity="0.9"/>
<circle cx="736.3" cy="175.9" r="3.6" fill="url(#bD)" opacity="0.9"/>
<circle cx="742.6" cy="181.3" r="3.5" fill="url(#bD)" opacity="0.9"/>
<circle cx="739.8" cy="180.1" r="5.0" fill="url(#bW)"/>
<circle cx="763.4" cy="177.5" r="7.7" fill="url(#bH)" opacity="0.35"/>
<circle cx="759.4" cy="174.5" r="3.6" fill="url(#bD)" opacity="0.9"/>
<circle cx="760.3" cy="176.5" r="3.2" fill="url(#bD)" opacity="0.9"/>
<circle cx="758.7" cy="175.9" r="3.0" fill="url(#bD)" opacity="0.9"/>
<circle cx="763.0" cy="178.1" r="5.2" fill="url(#bM)"/>
<circle cx="884.6" cy="182.8" r="7.1" fill="url(#bH)" opacity="0.35"/>
<circle cx="882.4" cy="187.4" r="2.9" fill="url(#bD)" opacity="0.9"/>
<circle cx="887.2" cy="184.2" r="2.3" fill="url(#bD)" opacity="0.9"/>
<circle cx="883.2" cy="182.6" r="3.2" fill="url(#bD)" opacity="0.9"/>
<circle cx="884.0" cy="183.2" r="4.6" fill="url(#bD)"/>
<circle cx="911.4" cy="181.2" r="7.7" fill="url(#bH)" opacity="0.35"/>
<circle cx="912.2" cy="178.0" r="3.7" fill="url(#bD)" opacity="0.9"/>
<circle cx="908.1" cy="183.4" r="2.8" fill="url(#bD)" opacity="0.9"/>
<circle cx="907.3" cy="177.9" r="3.6" fill="url(#bD)" opacity="0.9"/>
<circle cx="911.8" cy="180.5" r="5.2" fill="url(#bM)"/>
<circle cx="788.0" cy="188.8" r="7.7" fill="url(#bH)" opacity="0.35"/>
<circle cx="786.5" cy="190.2" r="3.6" fill="url(#bD)" opacity="0.9"/>
<circle cx="783.7" cy="190.2" r="3.1" fill="url(#bD)" opacity="0.9"/>
<circle cx="789.5" cy="188.1" r="3.8" fill="url(#bD)" opacity="0.9"/>
<circle cx="786.5" cy="190.3" r="5.2" fill="url(#bM)"/>
<circle cx="812.3" cy="192.5" r="7.7" fill="url(#bH)" opacity="0.35"/>
<circle cx="814.7" cy="193.3" r="2.7" fill="url(#bD)" opacity="0.9"/>
<circle cx="814.2" cy="189.6" r="3.6" fill="url(#bD)" opacity="0.9"/>
<circle cx="814.7" cy="195.9" r="3.4" fill="url(#bD)" opacity="0.9"/>
<circle cx="812.9" cy="193.3" r="5.2" fill="url(#bM)"/>
<circle cx="838.3" cy="195.1" r="7.7" fill="url(#bH)" opacity="0.35"/>
<circle cx="837.8" cy="198.9" r="2.7" fill="url(#bD)" opacity="0.9"/>
<circle cx="842.2" cy="191.1" r="2.9" fill="url(#bD)" opacity="0.9"/>
<circle cx="836.6" cy="199.0" r="3.3" fill="url(#bD)" opacity="0.9"/>
<circle cx="838.7" cy="195.4" r="5.2" fill="url(#bM)"/>
<circle cx="753.7" cy="202.6" r="7.5" fill="url(#bH)" opacity="0.35"/>
<circle cx="751.7" cy="201.1" r="3.2" fill="url(#bD)" opacity="0.9"/>
<circle cx="756.3" cy="203.7" r="3.3" fill="url(#bD)" opacity="0.9"/>
<circle cx="752.7" cy="199.9" r="2.7" fill="url(#bD)" opacity="0.9"/>
<circle cx="754.1" cy="201.5" r="5.0" fill="url(#bW)"/>
<circle cx="870.2" cy="199.9" r="7.1" fill="url(#bH)" opacity="0.35"/>
<circle cx="871.4" cy="196.4" r="2.8" fill="url(#bD)" opacity="0.9"/>
<circle cx="871.6" cy="200.1" r="2.4" fill="url(#bD)" opacity="0.9"/>
<circle cx="868.8" cy="202.9" r="2.6" fill="url(#bD)" opacity="0.9"/>
<circle cx="869.2" cy="199.4" r="4.6" fill="url(#bD)"/>
<circle cx="900.1" cy="200.9" r="7.7" fill="url(#bH)" opacity="0.35"/>
<circle cx="902.9" cy="204.5" r="2.8" fill="url(#bD)" opacity="0.9"/>
<circle cx="898.0" cy="199.2" r="3.0" fill="url(#bD)" opacity="0.9"/>
<circle cx="901.3" cy="198.4" r="3.0" fill="url(#bD)" opacity="0.9"/>
<circle cx="901.1" cy="201.5" r="5.2" fill="url(#bM)"/>
<circle cx="728.8" cy="211.6" r="7.7" fill="url(#bH)" opacity="0.35"/>
<circle cx="731.7" cy="206.6" r="3.9" fill="url(#bD)" opacity="0.9"/>
<circle cx="726.1" cy="209.1" r="3.9" fill="url(#bD)" opacity="0.9"/>
<circle cx="732.3" cy="212.3" r="3.2" fill="url(#bD)" opacity="0.9"/>
<circle cx="729.7" cy="210.2" r="5.2" fill="url(#bM)"/>
<circle cx="801.3" cy="219.5" r="7.7" fill="url(#bH)" opacity="0.35"/>
<circle cx="798.6" cy="216.5" r="3.1" fill="url(#bD)" opacity="0.9"/>
<circle cx="798.0" cy="218.2" r="3.6" fill="url(#bD)" opacity="0.9"/>
<circle cx="803.9" cy="219.1" r="3.4" fill="url(#bD)" opacity="0.9"/>
<circle cx="802.2" cy="219.1" r="5.2" fill="url(#bM)"/>
<circle cx="827.4" cy="218.0" r="7.7" fill="url(#bH)" opacity="0.35"/>
<circle cx="828.5" cy="218.3" r="3.6" fill="url(#bD)" opacity="0.9"/>
<circle cx="831.2" cy="218.5" r="3.3" fill="url(#bD)" opacity="0.9"/>
<circle cx="829.8" cy="218.4" r="2.9" fill="url(#bD)" opacity="0.9"/>
<circle cx="827.6" cy="219.1" r="5.2" fill="url(#bM)"/>
<circle cx="851.6" cy="217.8" r="7.7" fill="url(#bH)" opacity="0.35"/>
<circle cx="853.4" cy="218.5" r="3.7" fill="url(#bD)" opacity="0.9"/>
<circle cx="852.5" cy="218.0" r="3.2" fill="url(#bD)" opacity="0.9"/>
<circle cx="849.2" cy="217.8" r="2.7" fill="url(#bD)" opacity="0.9"/>
<circle cx="850.9" cy="216.7" r="5.2" fill="url(#bM)"/>
<circle cx="879.7" cy="213.9" r="7.7" fill="url(#bH)" opacity="0.35"/>
<circle cx="881.9" cy="214.2" r="2.9" fill="url(#bD)" opacity="0.9"/>
<circle cx="879.3" cy="212.6" r="3.4" fill="url(#bD)" opacity="0.9"/>
<circle cx="879.1" cy="214.6" r="3.8" fill="url(#bD)" opacity="0.9"/>
<circle cx="879.9" cy="213.0" r="5.2" fill="url(#bM)"/>
<circle cx="902.1" cy="222.2" r="7.7" fill="url(#bH)" opacity="0.35"/>
<circle cx="905.6" cy="220.8" r="3.2" fill="url(#bD)" opacity="0.9"/>
<circle cx="907.4" cy="217.6" r="3.3" fill="url(#bD)" opacity="0.9"/>
<circle cx="900.0" cy="224.3" r="3.8" fill="url(#bD)" opacity="0.9"/>
<circle cx="903.1" cy="221.8" r="5.2" fill="url(#bM)"/>
<circle cx="746.8" cy="225.6" r="7.7" fill="url(#bH)" opacity="0.35"/>
<circle cx="747.4" cy="227.2" r="3.5" fill="url(#bD)" opacity="0.9"/>
<circle cx="746.9" cy="228.1" r="3.7" fill="url(#bD)" opacity="0.9"/>
<circle cx="746.9" cy="226.0" r="3.8" fill="url(#bD)" opacity="0.9"/>
<circle cx="746.7" cy="226.8" r="5.2" fill="url(#bM)"/>
<circle cx="773.5" cy="218.2" r="7.1" fill="url(#bH)" opacity="0.35"/>
<circle cx="773.4" cy="220.1" r="2.4" fill="url(#bD)" opacity="0.9"/>
<circle cx="778.7" cy="216.4" r="2.4" fill="url(#bD)" opacity="0.9"/>
<circle cx="772.3" cy="216.8" r="2.3" fill="url(#bD)" opacity="0.9"/>
<circle cx="774.4" cy="217.7" r="4.6" fill="url(#bD)"/>
<circle cx="917.7" cy="226.6" r="7.7" fill="url(#bH)" opacity="0.35"/>
<circle cx="919.7" cy="225.5" r="2.9" fill="url(#bD)" opacity="0.9"/>
<circle cx="915.4" cy="229.0" r="3.8" fill="url(#bD)" opacity="0.9"/>
<circle cx="918.2" cy="224.3" r="3.6" fill="url(#bD)" opacity="0.9"/>
<circle cx="917.9" cy="226.8" r="5.2" fill="url(#bM)"/>
<circle cx="784.2" cy="233.7" r="7.1" fill="url(#bH)" opacity="0.35"/>
<circle cx="781.2" cy="237.0" r="3.2" fill="url(#bD)" opacity="0.9"/>
<circle cx="785.7" cy="234.3" r="2.9" fill="url(#bD)" opacity="0.9"/>
<circle cx="782.0" cy="238.7" r="2.7" fill="url(#bD)" opacity="0.9"/>
<circle cx="784.5" cy="234.5" r="4.6" fill="url(#bD)"/>
<circle cx="851.9" cy="234.3" r="7.7" fill="url(#bH)" opacity="0.35"/>
<circle cx="854.4" cy="233.0" r="3.0" fill="url(#bD)" opacity="0.9"/>
<circle cx="851.9" cy="230.0" r="3.7" fill="url(#bD)" opacity="0.9"/>
<circle cx="850.2" cy="236.5" r="2.9" fill="url(#bD)" opacity="0.9"/>
<circle cx="851.5" cy="233.3" r="5.2" fill="url(#bM)"/>
<circle cx="865.8" cy="233.8" r="7.7" fill="url(#bH)" opacity="0.35"/>
<circle cx="865.5" cy="231.7" r="2.6" fill="url(#bD)" opacity="0.9"/>
<circle cx="868.1" cy="232.6" r="2.9" fill="url(#bD)" opacity="0.9"/>
<circle cx="864.3" cy="234.4" r="3.2" fill="url(#bD)" opacity="0.9"/>
<circle cx="866.1" cy="234.5" r="5.2" fill="url(#bM)"/>
<circle cx="886.8" cy="233.0" r="7.1" fill="url(#bH)" opacity="0.35"/>
<circle cx="885.2" cy="236.4" r="3.3" fill="url(#bD)" opacity="0.9"/>
<circle cx="882.5" cy="235.5" r="3.3" fill="url(#bD)" opacity="0.9"/>
<circle cx="889.0" cy="229.3" r="3.3" fill="url(#bD)" opacity="0.9"/>
<circle cx="886.4" cy="232.5" r="4.6" fill="url(#bD)"/>
<circle cx="551.8" cy="245.7" r="7.7" fill="url(#bH)" opacity="0.35"/>
<circle cx="547.0" cy="251.2" r="3.5" fill="url(#bD)" opacity="0.9"/>
<circle cx="549.1" cy="243.6" r="2.8" fill="url(#bD)" opacity="0.9"/>
<circle cx="549.0" cy="249.7" r="3.1" fill="url(#bD)" opacity="0.9"/>
<circle cx="551.4" cy="247.2" r="5.2" fill="url(#bM)"/>
<circle cx="601.1" cy="242.3" r="7.7" fill="url(#bH)" opacity="0.35"/>
<circle cx="604.8" cy="238.1" r="3.8" fill="url(#bD)" opacity="0.9"/>
<circle cx="603.1" cy="243.6" r="3.5" fill="url(#bD)" opacity="0.9"/>
<circle cx="605.7" cy="243.7" r="3.7" fill="url(#bD)" opacity="0.9"/>
<circle cx="602.1" cy="241.1" r="5.2" fill="url(#bM)"/>
<circle cx="576.9" cy="257.9" r="7.5" fill="url(#bH)" opacity="0.35"/>
<circle cx="578.1" cy="259.5" r="3.0" fill="url(#bD)" opacity="0.9"/>
<circle cx="581.2" cy="257.8" r="2.8" fill="url(#bD)" opacity="0.9"/>
<circle cx="575.4" cy="254.1" r="3.1" fill="url(#bD)" opacity="0.9"/>
<circle cx="577.8" cy="257.3" r="5.0" fill="url(#bW)"/>
<circle cx="617.1" cy="258.2" r="7.7" fill="url(#bH)" opacity="0.35"/>
<circle cx="615.2" cy="258.3" r="3.2" fill="url(#bD)" opacity="0.9"/>
<circle cx="618.7" cy="261.6" r="2.6" fill="url(#bD)" opacity="0.9"/>
<circle cx="621.5" cy="258.0" r="3.3" fill="url(#bD)" opacity="0.9"/>
<circle cx="618.4" cy="258.3" r="5.2" fill="url(#bM)"/>
<circle cx="664.2" cy="253.7" r="7.5" fill="url(#bH)" opacity="0.35"/>
<circle cx="662.5" cy="251.9" r="3.7" fill="url(#bD)" opacity="0.9"/>
<circle cx="659.8" cy="253.9" r="3.3" fill="url(#bD)" opacity="0.9"/>
<circle cx="659.4" cy="253.6" r="3.4" fill="url(#bD)" opacity="0.9"/>
<circle cx="663.7" cy="252.6" r="5.0" fill="url(#bW)"/>
<circle cx="691.4" cy="242.6" r="7.7" fill="url(#bH)" opacity="0.35"/>
<circle cx="694.4" cy="243.2" r="3.2" fill="url(#bD)" opacity="0.9"/>
<circle cx="693.6" cy="238.9" r="3.5" fill="url(#bD)" opacity="0.9"/>
<circle cx="691.2" cy="241.7" r="3.7" fill="url(#bD)" opacity="0.9"/>
<circle cx="690.1" cy="243.1" r="5.2" fill="url(#bM)"/>
<circle cx="715.4" cy="239.0" r="7.7" fill="url(#bH)" opacity="0.35"/>
<circle cx="716.1" cy="241.5" r="2.9" fill="url(#bD)" opacity="0.9"/>
<circle cx="715.3" cy="238.3" r="3.3" fill="url(#bD)" opacity="0.9"/>
<circle cx="718.8" cy="237.2" r="3.7" fill="url(#bD)" opacity="0.9"/>
<circle cx="715.8" cy="239.0" r="5.2" fill="url(#bM)"/>
<circle cx="529.8" cy="270.5" r="7.7" fill="url(#bH)" opacity="0.35"/>
<circle cx="528.0" cy="270.6" r="3.9" fill="url(#bD)" opacity="0.9"/>
<circle cx="531.5" cy="273.1" r="3.0" fill="url(#bD)" opacity="0.9"/>
<circle cx="528.4" cy="268.7" r="3.4" fill="url(#bD)" opacity="0.9"/>
<circle cx="530.1" cy="270.5" r="5.2" fill="url(#bM)"/>
<circle cx="554.4" cy="273.0" r="7.7" fill="url(#bH)" opacity="0.35"/>
<circle cx="549.9" cy="274.1" r="3.8" fill="url(#bD)" opacity="0.9"/>
<circle cx="554.4" cy="268.1" r="3.0" fill="url(#bD)" opacity="0.9"/>
<circle cx="549.6" cy="269.4" r="3.8" fill="url(#bD)" opacity="0.9"/>
<circle cx="554.0" cy="272.1" r="5.2" fill="url(#bM)"/>
<circle cx="599.0" cy="269.0" r="7.7" fill="url(#bH)" opacity="0.35"/>
<circle cx="601.3" cy="272.2" r="3.4" fill="url(#bD)" opacity="0.9"/>
<circle cx="599.7" cy="269.6" r="3.5" fill="url(#bD)" opacity="0.9"/>
<circle cx="599.6" cy="270.1" r="2.9" fill="url(#bD)" opacity="0.9"/>
<circle cx="598.7" cy="268.5" r="5.2" fill="url(#bM)"/>
<circle cx="646.3" cy="272.4" r="7.7" fill="url(#bH)" opacity="0.35"/>
<circle cx="648.2" cy="269.0" r="2.8" fill="url(#bD)" opacity="0.9"/>
<circle cx="641.6" cy="275.0" r="3.8" fill="url(#bD)" opacity="0.9"/>
<circle cx="647.2" cy="271.4" r="3.7" fill="url(#bD)" opacity="0.9"/>
<circle cx="645.8" cy="272.5" r="5.2" fill="url(#bM)"/>
<circle cx="678.1" cy="268.7" r="7.7" fill="url(#bH)" opacity="0.35"/>
<circle cx="675.1" cy="266.7" r="3.1" fill="url(#bD)" opacity="0.9"/>
<circle cx="675.6" cy="267.9" r="3.4" fill="url(#bD)" opacity="0.9"/>
<circle cx="681.2" cy="264.5" r="3.3" fill="url(#bD)" opacity="0.9"/>
<circle cx="677.3" cy="268.5" r="5.2" fill="url(#bM)"/>
<circle cx="705.3" cy="263.3" r="7.7" fill="url(#bH)" opacity="0.35"/>
<circle cx="709.5" cy="265.1" r="3.8" fill="url(#bD)" opacity="0.9"/>
<circle cx="706.2" cy="260.1" r="3.1" fill="url(#bD)" opacity="0.9"/>
<circle cx="707.5" cy="268.4" r="3.9" fill="url(#bD)" opacity="0.9"/>
<circle cx="706.7" cy="264.4" r="5.2" fill="url(#bM)"/>
<circle cx="582.4" cy="281.4" r="7.7" fill="url(#bH)" opacity="0.35"/>
<circle cx="578.9" cy="283.0" r="2.9" fill="url(#bD)" opacity="0.9"/>
<circle cx="579.3" cy="277.3" r="2.6" fill="url(#bD)" opacity="0.9"/>
<circle cx="584.1" cy="278.3" r="3.9" fill="url(#bD)" opacity="0.9"/>
<circle cx="582.4" cy="281.7" r="5.2" fill="url(#bM)"/>
<circle cx="618.6" cy="284.2" r="7.5" fill="url(#bH)" opacity="0.35"/>
<circle cx="616.5" cy="278.8" r="3.4" fill="url(#bD)" opacity="0.9"/>
<circle cx="617.5" cy="285.2" r="2.7" fill="url(#bD)" opacity="0.9"/>
<circle cx="615.8" cy="285.6" r="3.4" fill="url(#bD)" opacity="0.9"/>
<circle cx="619.8" cy="283.1" r="5.0" fill="url(#bW)"/>
<circle cx="536.2" cy="294.6" r="7.5" fill="url(#bH)" opacity="0.35"/>
<circle cx="531.4" cy="295.0" r="3.4" fill="url(#bD)" opacity="0.9"/>
<circle cx="534.8" cy="297.8" r="2.8" fill="url(#bD)" opacity="0.9"/>
<circle cx="539.3" cy="295.8" r="2.5" fill="url(#bD)" opacity="0.9"/>
<circle cx="535.1" cy="293.9" r="5.0" fill="url(#bW)"/>
<circle cx="558.7" cy="301.4" r="7.7" fill="url(#bH)" opacity="0.35"/>
<circle cx="563.0" cy="297.2" r="3.0" fill="url(#bD)" opacity="0.9"/>
<circle cx="562.2" cy="298.0" r="3.7" fill="url(#bD)" opacity="0.9"/>
<circle cx="560.0" cy="297.0" r="3.1" fill="url(#bD)" opacity="0.9"/>
<circle cx="560.1" cy="301.0" r="5.2" fill="url(#bM)"/>
<circle cx="643.6" cy="295.1" r="7.7" fill="url(#bH)" opacity="0.35"/>
<circle cx="645.0" cy="292.1" r="3.6" fill="url(#bD)" opacity="0.9"/>
<circle cx="642.1" cy="296.6" r="3.4" fill="url(#bD)" opacity="0.9"/>
<circle cx="642.6" cy="294.3" r="3.6" fill="url(#bD)" opacity="0.9"/>
<circle cx="643.4" cy="295.3" r="5.2" fill="url(#bM)"/>
<circle cx="667.8" cy="297.4" r="7.7" fill="url(#bH)" opacity="0.35"/>
<circle cx="667.1" cy="294.6" r="2.7" fill="url(#bD)" opacity="0.9"/>
<circle cx="670.8" cy="298.3" r="3.7" fill="url(#bD)" opacity="0.9"/>
<circle cx="665.0" cy="297.5" r="3.9" fill="url(#bD)" opacity="0.9"/>
<circle cx="666.5" cy="296.5" r="5.2" fill="url(#bM)"/>
<circle cx="691.5" cy="291.5" r="7.7" fill="url(#bH)" opacity="0.35"/>
<circle cx="688.7" cy="290.6" r="3.8" fill="url(#bD)" opacity="0.9"/>
<circle cx="689.4" cy="292.9" r="3.4" fill="url(#bD)" opacity="0.9"/>
<circle cx="694.0" cy="294.0" r="3.0" fill="url(#bD)" opacity="0.9"/>
<circle cx="690.5" cy="291.2" r="5.2" fill="url(#bM)"/>
<circle cx="607.8" cy="308.4" r="7.5" fill="url(#bH)" opacity="0.35"/>
<circle cx="608.6" cy="309.9" r="3.5" fill="url(#bD)" opacity="0.9"/>
<circle cx="612.7" cy="305.0" r="3.5" fill="url(#bD)" opacity="0.9"/>
<circle cx="612.1" cy="312.4" r="3.2" fill="url(#bD)" opacity="0.9"/>
<circle cx="609.2" cy="309.1" r="5.0" fill="url(#bW)"/>
<circle cx="585.8" cy="311.8" r="7.7" fill="url(#bH)" opacity="0.35"/>
<circle cx="589.3" cy="312.4" r="3.8" fill="url(#bD)" opacity="0.9"/>
<circle cx="585.1" cy="307.0" r="3.3" fill="url(#bD)" opacity="0.9"/>
<circle cx="589.2" cy="308.0" r="3.6" fill="url(#bD)" opacity="0.9"/>
<circle cx="586.5" cy="310.7" r="5.2" fill="url(#bM)"/>
<circle cx="710.0" cy="306.3" r="7.7" fill="url(#bH)" opacity="0.35"/>
<circle cx="709.7" cy="308.7" r="3.2" fill="url(#bD)" opacity="0.9"/>
<circle cx="706.1" cy="304.9" r="3.6" fill="url(#bD)" opacity="0.9"/>
<circle cx="711.4" cy="306.7" r="2.7" fill="url(#bD)" opacity="0.9"/>
<circle cx="708.7" cy="307.1" r="5.2" fill="url(#bM)"/>
<circle cx="563.1" cy="325.1" r="7.7" fill="url(#bH)" opacity="0.35"/>
<circle cx="559.7" cy="325.0" r="3.8" fill="url(#bD)" opacity="0.9"/>
<circle cx="565.6" cy="324.5" r="3.2" fill="url(#bD)" opacity="0.9"/>
<circle cx="562.9" cy="321.5" r="2.9" fill="url(#bD)" opacity="0.9"/>
<circle cx="562.1" cy="324.3" r="5.2" fill="url(#bM)"/>
<circle cx="631.6" cy="323.9" r="7.7" fill="url(#bH)" opacity="0.35"/>
<circle cx="631.4" cy="323.9" r="3.1" fill="url(#bD)" opacity="0.9"/>
<circle cx="632.8" cy="320.2" r="2.7" fill="url(#bD)" opacity="0.9"/>
<circle cx="637.1" cy="322.2" r="2.7" fill="url(#bD)" opacity="0.9"/>
<circle cx="632.6" cy="323.3" r="5.2" fill="url(#bM)"/>
<circle cx="659.4" cy="314.0" r="7.1" fill="url(#bH)" opacity="0.35"/>
<circle cx="655.9" cy="314.0" r="2.7" fill="url(#bD)" opacity="0.9"/>
<circle cx="659.2" cy="308.8" r="2.3" fill="url(#bD)" opacity="0.9"/>
<circle cx="663.4" cy="316.5" r="2.9" fill="url(#bD)" opacity="0.9"/>
<circle cx="659.0" cy="313.2" r="4.6" fill="url(#bD)"/>
<circle cx="684.6" cy="314.5" r="7.7" fill="url(#bH)" opacity="0.35"/>
<circle cx="686.9" cy="314.5" r="3.8" fill="url(#bD)" opacity="0.9"/>
<circle cx="686.8" cy="318.1" r="3.9" fill="url(#bD)" opacity="0.9"/>
<circle cx="682.2" cy="311.0" r="2.9" fill="url(#bD)" opacity="0.9"/>
<circle cx="684.4" cy="315.2" r="5.2" fill="url(#bM)"/>
<circle cx="694.0" cy="322.5" r="8.7" fill="url(#bH)" opacity="0.35"/>
<circle cx="690.9" cy="324.2" r="4.4" fill="url(#bD)" opacity="0.9"/>
<circle cx="694.6" cy="327.7" r="4.5" fill="url(#bD)" opacity="0.9"/>
<circle cx="691.0" cy="324.6" r="3.7" fill="url(#bD)" opacity="0.9"/>
<circle cx="696.4" cy="334.4" r="7.7" fill="url(#bH)" opacity="0.35"/>
<circle cx="695.4" cy="333.6" r="3.4" fill="url(#bD)" opacity="0.9"/>
<circle cx="701.7" cy="334.6" r="3.1" fill="url(#bD)" opacity="0.9"/>
<circle cx="697.1" cy="330.0" r="3.9" fill="url(#bD)" opacity="0.9"/>
<circle cx="697.6" cy="333.1" r="5.2" fill="url(#bM)"/>
<circle cx="601.6" cy="333.0" r="7.5" fill="url(#bH)" opacity="0.35"/>
<circle cx="596.0" cy="331.7" r="2.9" fill="url(#bD)" opacity="0.9"/>
<circle cx="603.7" cy="337.5" r="3.5" fill="url(#bD)" opacity="0.9"/>
<circle cx="596.0" cy="336.4" r="3.4" fill="url(#bD)" opacity="0.9"/>
<circle cx="600.1" cy="333.9" r="5.0" fill="url(#bW)"/>
<circle cx="573.5" cy="343.0" r="7.7" fill="url(#bH)" opacity="0.35"/>
<circle cx="569.1" cy="338.4" r="3.6" fill="url(#bD)" opacity="0.9"/>
<circle cx="577.1" cy="343.2" r="3.0" fill="url(#bD)" opacity="0.9"/>
<circle cx="573.9" cy="343.9" r="2.7" fill="url(#bD)" opacity="0.9"/>
<circle cx="573.1" cy="341.6" r="5.2" fill="url(#bM)"/>
<circle cx="621.3" cy="345.9" r="7.7" fill="url(#bH)" opacity="0.35"/>
<circle cx="618.5" cy="346.5" r="2.8" fill="url(#bD)" opacity="0.9"/>
<circle cx="619.5" cy="343.4" r="3.5" fill="url(#bD)" opacity="0.9"/>
<circle cx="617.5" cy="348.6" r="2.9" fill="url(#bD)" opacity="0.9"/>
<circle cx="621.8" cy="346.7" r="5.2" fill="url(#bM)"/>
<circle cx="648.1" cy="344.5" r="7.7" fill="url(#bH)" opacity="0.35"/>
<circle cx="646.9" cy="347.1" r="3.7" fill="url(#bD)" opacity="0.9"/>
<circle cx="653.0" cy="340.0" r="3.2" fill="url(#bD)" opacity="0.9"/>
<circle cx="645.8" cy="347.1" r="3.7" fill="url(#bD)" opacity="0.9"/>
<circle cx="649.5" cy="343.2" r="5.2" fill="url(#bM)"/>
<circle cx="672.6" cy="342.5" r="7.7" fill="url(#bH)" opacity="0.35"/>
<circle cx="670.8" cy="345.5" r="3.2" fill="url(#bD)" opacity="0.9"/>
<circle cx="673.3" cy="339.4" r="2.9" fill="url(#bD)" opacity="0.9"/>
<circle cx="668.2" cy="344.5" r="3.3" fill="url(#bD)" opacity="0.9"/>
<circle cx="672.2" cy="342.6" r="5.2" fill="url(#bM)"/>
<circle cx="531.0" cy="355.9" r="7.7" fill="url(#bH)" opacity="0.35"/>
<circle cx="530.0" cy="354.0" r="2.8" fill="url(#bD)" opacity="0.9"/>
<circle cx="530.0" cy="357.8" r="3.0" fill="url(#bD)" opacity="0.9"/>
<circle cx="529.1" cy="354.7" r="3.0" fill="url(#bD)" opacity="0.9"/>
<circle cx="532.1" cy="354.8" r="5.2" fill="url(#bM)"/>
<circle cx="554.6" cy="359.1" r="7.7" fill="url(#bH)" opacity="0.35"/>
<circle cx="557.7" cy="356.3" r="3.8" fill="url(#bD)" opacity="0.9"/>
<circle cx="554.9" cy="357.7" r="3.2" fill="url(#bD)" opacity="0.9"/>
<circle cx="551.5" cy="358.1" r="2.9" fill="url(#bD)" opacity="0.9"/>
<circle cx="553.4" cy="360.3" r="5.2" fill="url(#bM)"/>
<circle cx="695.7" cy="356.3" r="7.5" fill="url(#bH)" opacity="0.35"/>
<circle cx="700.6" cy="358.6" r="2.6" fill="url(#bD)" opacity="0.9"/>
<circle cx="694.3" cy="358.3" r="2.6" fill="url(#bD)" opacity="0.9"/>
<circle cx="698.2" cy="352.9" r="3.7" fill="url(#bD)" opacity="0.9"/>
<circle cx="696.2" cy="354.8" r="5.0" fill="url(#bW)"/>
<circle cx="577.7" cy="366.9" r="7.7" fill="url(#bH)" opacity="0.35"/>
<circle cx="577.8" cy="362.7" r="2.6" fill="url(#bD)" opacity="0.9"/>
<circle cx="582.2" cy="366.2" r="2.8" fill="url(#bD)" opacity="0.9"/>
<circle cx="578.6" cy="369.7" r="2.9" fill="url(#bD)" opacity="0.9"/>
<circle cx="579.2" cy="365.9" r="5.2" fill="url(#bM)"/>
<circle cx="611.1" cy="369.9" r="7.7" fill="url(#bH)" opacity="0.35"/>
<circle cx="608.0" cy="373.5" r="3.5" fill="url(#bD)" opacity="0.9"/>
<circle cx="608.1" cy="367.2" r="2.7" fill="url(#bD)" opacity="0.9"/>
<circle cx="611.9" cy="371.0" r="3.0" fill="url(#bD)" opacity="0.9"/>
<circle cx="610.9" cy="371.0" r="5.2" fill="url(#bM)"/>
<circle cx="639.8" cy="363.2" r="7.7" fill="url(#bH)" opacity="0.35"/>
<circle cx="642.6" cy="365.7" r="3.4" fill="url(#bD)" opacity="0.9"/>
<circle cx="638.0" cy="359.0" r="3.6" fill="url(#bD)" opacity="0.9"/>
<circle cx="639.9" cy="364.9" r="2.7" fill="url(#bD)" opacity="0.9"/>
<circle cx="640.7" cy="362.9" r="5.2" fill="url(#bM)"/>
<circle cx="666.6" cy="368.5" r="7.7" fill="url(#bH)" opacity="0.35"/>
<circle cx="668.8" cy="372.3" r="3.2" fill="url(#bD)" opacity="0.9"/>
<circle cx="661.3" cy="372.7" r="3.2" fill="url(#bD)" opacity="0.9"/>
<circle cx="669.0" cy="366.9" r="2.8" fill="url(#bD)" opacity="0.9"/>
<circle cx="665.7" cy="369.0" r="5.2" fill="url(#bM)"/>
<circle cx="718.9" cy="376.7" r="7.7" fill="url(#bH)" opacity="0.35"/>
<circle cx="714.8" cy="376.0" r="3.4" fill="url(#bD)" opacity="0.9"/>
<circle cx="713.4" cy="377.3" r="3.2" fill="url(#bD)" opacity="0.9"/>
<circle cx="718.0" cy="373.7" r="3.5" fill="url(#bD)" opacity="0.9"/>
<circle cx="717.9" cy="377.1" r="5.2" fill="url(#bM)"/>
<circle cx="534.1" cy="385.3" r="7.7" fill="url(#bH)" opacity="0.35"/>
<circle cx="531.5" cy="386.1" r="3.1" fill="url(#bD)" opacity="0.9"/>
<circle cx="535.4" cy="380.3" r="3.7" fill="url(#bD)" opacity="0.9"/>
<circle cx="537.2" cy="384.2" r="3.3" fill="url(#bD)" opacity="0.9"/>
<circle cx="533.1" cy="384.2" r="5.2" fill="url(#bM)"/>
<circle cx="559.0" cy="387.4" r="7.7" fill="url(#bH)" opacity="0.35"/>
<circle cx="554.6" cy="391.5" r="2.9" fill="url(#bD)" opacity="0.9"/>
<circle cx="556.0" cy="383.7" r="2.9" fill="url(#bD)" opacity="0.9"/>
<circle cx="561.7" cy="383.0" r="2.7" fill="url(#bD)" opacity="0.9"/>
<circle cx="558.9" cy="387.3" r="5.2" fill="url(#bM)"/>
<circle cx="589.5" cy="386.4" r="7.7" fill="url(#bH)" opacity="0.35"/>
<circle cx="584.6" cy="388.2" r="3.3" fill="url(#bD)" opacity="0.9"/>
<circle cx="589.2" cy="389.1" r="2.7" fill="url(#bD)" opacity="0.9"/>
<circle cx="592.3" cy="389.2" r="2.7" fill="url(#bD)" opacity="0.9"/>
<circle cx="588.9" cy="387.3" r="5.2" fill="url(#bM)"/>
<circle cx="634.5" cy="387.2" r="7.7" fill="url(#bH)" opacity="0.35"/>
<circle cx="635.7" cy="385.3" r="2.8" fill="url(#bD)" opacity="0.9"/>
<circle cx="634.8" cy="384.0" r="3.4" fill="url(#bD)" opacity="0.9"/>
<circle cx="638.9" cy="384.1" r="3.3" fill="url(#bD)" opacity="0.9"/>
<circle cx="635.6" cy="387.3" r="5.2" fill="url(#bM)"/>
<circle cx="690.8" cy="384.2" r="7.7" fill="url(#bH)" opacity="0.35"/>
<circle cx="693.0" cy="389.2" r="3.1" fill="url(#bD)" opacity="0.9"/>
<circle cx="689.3" cy="388.3" r="3.3" fill="url(#bD)" opacity="0.9"/>
<circle cx="689.1" cy="389.2" r="3.6" fill="url(#bD)" opacity="0.9"/>
<circle cx="690.1" cy="385.2" r="5.2" fill="url(#bM)"/>
<circle cx="612.4" cy="397.3" r="7.7" fill="url(#bH)" opacity="0.35"/>
<circle cx="611.4" cy="397.5" r="3.9" fill="url(#bD)" opacity="0.9"/>
<circle cx="615.6" cy="401.7" r="3.7" fill="url(#bD)" opacity="0.9"/>
<circle cx="616.0" cy="394.0" r="3.3" fill="url(#bD)" opacity="0.9"/>
<circle cx="612.9" cy="398.0" r="5.2" fill="url(#bM)"/>
<circle cx="626.9" cy="399.3" r="7.1" fill="url(#bH)" opacity="0.35"/>
<circle cx="623.2" cy="397.3" r="3.0" fill="url(#bD)" opacity="0.9"/>
<circle cx="624.3" cy="398.3" r="2.4" fill="url(#bD)" opacity="0.9"/>
<circle cx="624.9" cy="398.1" r="2.3" fill="url(#bD)" opacity="0.9"/>
<circle cx="625.5" cy="398.0" r="4.6" fill="url(#bD)"/>
<circle cx="659.9" cy="397.8" r="7.7" fill="url(#bH)" opacity="0.35"/>
<circle cx="663.5" cy="400.3" r="3.4" fill="url(#bD)" opacity="0.9"/>
<circle cx="663.8" cy="399.9" r="3.8" fill="url(#bD)" opacity="0.9"/>
<circle cx="656.8" cy="397.7" r="2.9" fill="url(#bD)" opacity="0.9"/>
<circle cx="661.0" cy="396.4" r="5.2" fill="url(#bM)"/>
<circle cx="715.4" cy="397.8" r="7.7" fill="url(#bH)" opacity="0.35"/>
<circle cx="715.2" cy="402.3" r="3.4" fill="url(#bD)" opacity="0.9"/>
<circle cx="712.6" cy="398.6" r="3.2" fill="url(#bD)" opacity="0.9"/>
<circle cx="718.9" cy="396.5" r="3.0" fill="url(#bD)" opacity="0.9"/>
<circle cx="714.8" cy="398.4" r="5.2" fill="url(#bM)"/>
<circle cx="572.1" cy="401.8" r="7.7" fill="url(#bH)" opacity="0.35"/>
<circle cx="572.5" cy="407.0" r="3.3" fill="url(#bD)" opacity="0.9"/>
<circle cx="569.6" cy="402.6" r="3.3" fill="url(#bD)" opacity="0.9"/>
<circle cx="568.5" cy="399.5" r="2.8" fill="url(#bD)" opacity="0.9"/>
<circle cx="571.7" cy="402.9" r="5.2" fill="url(#bM)"/>
<circle cx="543.2" cy="409.9" r="7.7" fill="url(#bH)" opacity="0.35"/>
<circle cx="542.0" cy="407.9" r="2.7" fill="url(#bD)" opacity="0.9"/>
<circle cx="544.3" cy="413.3" r="3.4" fill="url(#bD)" opacity="0.9"/>
<circle cx="544.5" cy="411.6" r="2.9" fill="url(#bD)" opacity="0.9"/>
<circle cx="543.9" cy="410.2" r="5.2" fill="url(#bM)"/>
<circle cx="595.3" cy="415.0" r="7.5" fill="url(#bH)" opacity="0.35"/>
<circle cx="595.1" cy="416.1" r="3.1" fill="url(#bD)" opacity="0.9"/>
<circle cx="592.9" cy="412.8" r="2.8" fill="url(#bD)" opacity="0.9"/>
<circle cx="594.7" cy="414.0" r="3.2" fill="url(#bD)" opacity="0.9"/>
<circle cx="594.6" cy="415.1" r="5.0" fill="url(#bW)"/>
<circle cx="635.2" cy="409.2" r="7.7" fill="url(#bH)" opacity="0.35"/>
<circle cx="639.9" cy="407.3" r="3.3" fill="url(#bD)" opacity="0.9"/>
<circle cx="636.6" cy="407.7" r="3.9" fill="url(#bD)" opacity="0.9"/>
<circle cx="634.8" cy="412.1" r="2.8" fill="url(#bD)" opacity="0.9"/>
<circle cx="636.7" cy="409.6" r="5.2" fill="url(#bM)"/>
<circle cx="685.1" cy="409.7" r="7.1" fill="url(#bH)" opacity="0.35"/>
<circle cx="685.9" cy="404.6" r="2.7" fill="url(#bD)" opacity="0.9"/>
<circle cx="685.9" cy="410.7" r="2.4" fill="url(#bD)" opacity="0.9"/>
<circle cx="683.9" cy="412.7" r="3.1" fill="url(#bD)" opacity="0.9"/>
<circle cx="686.4" cy="408.6" r="4.6" fill="url(#bD)"/>
<circle cx="568.0" cy="426.0" r="7.5" fill="url(#bH)" opacity="0.35"/>
<circle cx="567.7" cy="428.0" r="3.3" fill="url(#bD)" opacity="0.9"/>
<circle cx="572.2" cy="429.3" r="3.1" fill="url(#bD)" opacity="0.9"/>
<circle cx="571.2" cy="428.6" r="3.4" fill="url(#bD)" opacity="0.9"/>
<circle cx="569.0" cy="426.5" r="5.0" fill="url(#bW)"/>
<circle cx="613.2" cy="426.1" r="7.7" fill="url(#bH)" opacity="0.35"/>
<circle cx="615.2" cy="429.0" r="2.8" fill="url(#bD)" opacity="0.9"/>
<circle cx="616.6" cy="420.8" r="3.6" fill="url(#bD)" opacity="0.9"/>
<circle cx="614.1" cy="425.2" r="3.9" fill="url(#bD)" opacity="0.9"/>
<circle cx="613.3" cy="425.2" r="5.2" fill="url(#bM)"/>
<circle cx="664.3" cy="422.1" r="7.7" fill="url(#bH)" opacity="0.35"/>
<circle cx="666.6" cy="425.8" r="3.4" fill="url(#bD)" opacity="0.9"/>
<circle cx="663.0" cy="422.0" r="3.2" fill="url(#bD)" opacity="0.9"/>
<circle cx="666.1" cy="420.5" r="3.1" fill="url(#bD)" opacity="0.9"/>
<circle cx="664.1" cy="422.4" r="5.2" fill="url(#bM)"/>
<circle cx="710.9" cy="421.4" r="7.5" fill="url(#bH)" opacity="0.35"/>
<circle cx="709.2" cy="424.4" r="3.6" fill="url(#bD)" opacity="0.9"/>
<circle cx="710.8" cy="421.3" r="2.7" fill="url(#bD)" opacity="0.9"/>
<circle cx="709.0" cy="418.6" r="3.2" fill="url(#bD)" opacity="0.9"/>
<circle cx="710.8" cy="421.8" r="5.0" fill="url(#bW)"/>
<circle cx="550.2" cy="430.1" r="7.1" fill="url(#bH)" opacity="0.35"/>
<circle cx="553.7" cy="429.7" r="3.3" fill="url(#bD)" opacity="0.9"/>
<circle cx="553.0" cy="435.5" r="2.5" fill="url(#bD)" opacity="0.9"/>
<circle cx="549.3" cy="435.0" r="2.3" fill="url(#bD)" opacity="0.9"/>
<circle cx="550.0" cy="431.3" r="4.6" fill="url(#bD)"/>
<circle cx="785.6" cy="242.3" r="7.7" fill="url(#bH)" opacity="0.35"/>
<circle cx="786.9" cy="245.9" r="3.6" fill="url(#bD)" opacity="0.9"/>
<circle cx="787.3" cy="246.6" r="3.3" fill="url(#bD)" opacity="0.9"/>
<circle cx="787.1" cy="243.8" r="3.1" fill="url(#bD)" opacity="0.9"/>
<circle cx="786.9" cy="242.1" r="5.2" fill="url(#bM)"/>
<circle cx="733.7" cy="252.5" r="7.7" fill="url(#bH)" opacity="0.35"/>
<circle cx="732.8" cy="256.3" r="3.5" fill="url(#bD)" opacity="0.9"/>
<circle cx="734.4" cy="248.6" r="3.1" fill="url(#bD)" opacity="0.9"/>
<circle cx="733.3" cy="252.8" r="3.3" fill="url(#bD)" opacity="0.9"/>
<circle cx="734.2" cy="252.2" r="5.2" fill="url(#bM)"/>
<circle cx="761.7" cy="250.0" r="7.7" fill="url(#bH)" opacity="0.35"/>
<circle cx="760.4" cy="248.1" r="3.4" fill="url(#bD)" opacity="0.9"/>
<circle cx="765.0" cy="247.2" r="3.3" fill="url(#bD)" opacity="0.9"/>
<circle cx="763.4" cy="245.6" r="3.0" fill="url(#bD)" opacity="0.9"/>
<circle cx="760.5" cy="248.6" r="5.2" fill="url(#bM)"/>
<circle cx="814.8" cy="246.7" r="7.7" fill="url(#bH)" opacity="0.35"/>
<circle cx="813.5" cy="242.2" r="3.8" fill="url(#bD)" opacity="0.9"/>
<circle cx="815.0" cy="248.6" r="3.9" fill="url(#bD)" opacity="0.9"/>
<circle cx="816.8" cy="245.0" r="2.8" fill="url(#bD)" opacity="0.9"/>
<circle cx="813.3" cy="245.7" r="5.2" fill="url(#bM)"/>
<circle cx="836.1" cy="244.6" r="7.1" fill="url(#bH)" opacity="0.35"/>
<circle cx="836.7" cy="241.7" r="2.5" fill="url(#bD)" opacity="0.9"/>
<circle cx="837.9" cy="245.5" r="2.7" fill="url(#bD)" opacity="0.9"/>
<circle cx="841.1" cy="245.8" r="2.3" fill="url(#bD)" opacity="0.9"/>
<circle cx="836.7" cy="244.5" r="4.6" fill="url(#bD)"/>
<circle cx="873.6" cy="251.1" r="7.5" fill="url(#bH)" opacity="0.35"/>
<circle cx="872.1" cy="251.9" r="2.5" fill="url(#bD)" opacity="0.9"/>
<circle cx="872.1" cy="253.3" r="3.2" fill="url(#bD)" opacity="0.9"/>
<circle cx="875.4" cy="247.5" r="3.1" fill="url(#bD)" opacity="0.9"/>
<circle cx="873.8" cy="250.2" r="5.0" fill="url(#bW)"/>
<circle cx="903.9" cy="247.9" r="7.7" fill="url(#bH)" opacity="0.35"/>
<circle cx="905.0" cy="248.9" r="3.9" fill="url(#bD)" opacity="0.9"/>
<circle cx="904.4" cy="247.8" r="2.8" fill="url(#bD)" opacity="0.9"/>
<circle cx="900.6" cy="250.9" r="2.7" fill="url(#bD)" opacity="0.9"/>
<circle cx="903.7" cy="248.6" r="5.2" fill="url(#bM)"/>
<circle cx="769.9" cy="269.9" r="7.7" fill="url(#bH)" opacity="0.35"/>
<circle cx="771.3" cy="273.8" r="3.4" fill="url(#bD)" opacity="0.9"/>
<circle cx="773.9" cy="267.0" r="2.6" fill="url(#bD)" opacity="0.9"/>
<circle cx="773.5" cy="269.3" r="3.5" fill="url(#bD)" opacity="0.9"/>
<circle cx="771.1" cy="270.9" r="5.2" fill="url(#bM)"/>
<circle cx="736.8" cy="276.6" r="7.5" fill="url(#bH)" opacity="0.35"/>
<circle cx="735.1" cy="274.0" r="3.6" fill="url(#bD)" opacity="0.9"/>
<circle cx="737.9" cy="276.3" r="3.1" fill="url(#bD)" opacity="0.9"/>
<circle cx="736.2" cy="273.6" r="3.6" fill="url(#bD)" opacity="0.9"/>
<circle cx="737.2" cy="277.6" r="5.0" fill="url(#bW)"/>
<circle cx="798.4" cy="271.5" r="7.7" fill="url(#bH)" opacity="0.35"/>
<circle cx="797.6" cy="271.2" r="2.9" fill="url(#bD)" opacity="0.9"/>
<circle cx="794.0" cy="274.0" r="3.7" fill="url(#bD)" opacity="0.9"/>
<circle cx="796.4" cy="273.7" r="3.7" fill="url(#bD)" opacity="0.9"/>
<circle cx="798.1" cy="270.1" r="5.2" fill="url(#bM)"/>
<circle cx="824.9" cy="272.4" r="7.7" fill="url(#bH)" opacity="0.35"/>
<circle cx="829.7" cy="272.1" r="3.8" fill="url(#bD)" opacity="0.9"/>
<circle cx="823.2" cy="271.2" r="3.5" fill="url(#bD)" opacity="0.9"/>
<circle cx="823.0" cy="270.4" r="3.7" fill="url(#bD)" opacity="0.9"/>
<circle cx="825.5" cy="272.1" r="5.2" fill="url(#bM)"/>
<circle cx="851.9" cy="264.3" r="7.7" fill="url(#bH)" opacity="0.35"/>
<circle cx="849.6" cy="260.5" r="3.1" fill="url(#bD)" opacity="0.9"/>
<circle cx="849.1" cy="267.7" r="3.0" fill="url(#bD)" opacity="0.9"/>
<circle cx="852.5" cy="259.9" r="3.3" fill="url(#bD)" opacity="0.9"/>
<circle cx="851.9" cy="263.4" r="5.2" fill="url(#bM)"/>
<circle cx="871.5" cy="273.9" r="7.7" fill="url(#bH)" opacity="0.35"/>
<circle cx="867.9" cy="270.8" r="3.7" fill="url(#bD)" opacity="0.9"/>
<circle cx="870.5" cy="271.9" r="2.8" fill="url(#bD)" opacity="0.9"/>
<circle cx="869.9" cy="271.8" r="2.6" fill="url(#bD)" opacity="0.9"/>
<circle cx="871.8" cy="274.2" r="5.2" fill="url(#bM)"/>
<circle cx="890.0" cy="271.1" r="7.5" fill="url(#bH)" opacity="0.35"/>
<circle cx="886.4" cy="273.4" r="2.6" fill="url(#bD)" opacity="0.9"/>
<circle cx="887.4" cy="274.5" r="2.7" fill="url(#bD)" opacity="0.9"/>
<circle cx="889.0" cy="274.6" r="3.5" fill="url(#bD)" opacity="0.9"/>
<circle cx="889.5" cy="271.5" r="5.0" fill="url(#bW)"/>
<circle cx="907.7" cy="281.2" r="7.5" fill="url(#bH)" opacity="0.35"/>
<circle cx="910.8" cy="280.6" r="3.7" fill="url(#bD)" opacity="0.9"/>
<circle cx="906.1" cy="285.7" r="3.1" fill="url(#bD)" opacity="0.9"/>
<circle cx="906.3" cy="281.3" r="2.7" fill="url(#bD)" opacity="0.9"/>
<circle cx="908.8" cy="281.7" r="5.0" fill="url(#bW)"/>
<circle cx="754.1" cy="292.1" r="7.7" fill="url(#bH)" opacity="0.35"/>
<circle cx="757.0" cy="293.6" r="3.1" fill="url(#bD)" opacity="0.9"/>
<circle cx="751.2" cy="293.8" r="2.9" fill="url(#bD)" opacity="0.9"/>
<circle cx="756.8" cy="289.5" r="3.3" fill="url(#bD)" opacity="0.9"/>
<circle cx="753.4" cy="292.9" r="5.2" fill="url(#bM)"/>
<circle cx="777.9" cy="294.2" r="7.7" fill="url(#bH)" opacity="0.35"/>
<circle cx="780.3" cy="293.8" r="3.5" fill="url(#bD)" opacity="0.9"/>
<circle cx="778.4" cy="293.2" r="3.1" fill="url(#bD)" opacity="0.9"/>
<circle cx="774.1" cy="292.0" r="3.7" fill="url(#bD)" opacity="0.9"/>
<circle cx="777.8" cy="294.9" r="5.2" fill="url(#bM)"/>
<circle cx="807.7" cy="291.7" r="7.7" fill="url(#bH)" opacity="0.35"/>
<circle cx="804.7" cy="291.8" r="3.1" fill="url(#bD)" opacity="0.9"/>
<circle cx="808.3" cy="289.4" r="2.7" fill="url(#bD)" opacity="0.9"/>
<circle cx="806.6" cy="288.8" r="2.8" fill="url(#bD)" opacity="0.9"/>
<circle cx="808.3" cy="291.2" r="5.2" fill="url(#bM)"/>
<circle cx="831.9" cy="295.9" r="7.7" fill="url(#bH)" opacity="0.35"/>
<circle cx="830.3" cy="300.2" r="3.6" fill="url(#bD)" opacity="0.9"/>
<circle cx="834.7" cy="299.8" r="2.8" fill="url(#bD)" opacity="0.9"/>
<circle cx="829.2" cy="292.3" r="3.5" fill="url(#bD)" opacity="0.9"/>
<circle cx="831.2" cy="296.5" r="5.2" fill="url(#bM)"/>
<circle cx="886.5" cy="289.4" r="7.1" fill="url(#bH)" opacity="0.35"/>
<circle cx="885.2" cy="291.2" r="3.1" fill="url(#bD)" opacity="0.9"/>
<circle cx="883.8" cy="292.9" r="2.7" fill="url(#bD)" opacity="0.9"/>
<circle cx="887.2" cy="286.9" r="2.4" fill="url(#bD)" opacity="0.9"/>
<circle cx="886.0" cy="289.8" r="4.6" fill="url(#bD)"/>
<circle cx="731.3" cy="301.7" r="7.7" fill="url(#bH)" opacity="0.35"/>
<circle cx="732.0" cy="296.8" r="2.7" fill="url(#bD)" opacity="0.9"/>
<circle cx="727.0" cy="298.3" r="3.0" fill="url(#bD)" opacity="0.9"/>
<circle cx="729.0" cy="296.8" r="3.0" fill="url(#bD)" opacity="0.9"/>
<circle cx="730.1" cy="301.0" r="5.2" fill="url(#bM)"/>
<circle cx="860.9" cy="301.0" r="7.7" fill="url(#bH)" opacity="0.35"/>
<circle cx="863.5" cy="302.6" r="3.5" fill="url(#bD)" opacity="0.9"/>
<circle cx="858.2" cy="301.4" r="3.5" fill="url(#bD)" opacity="0.9"/>
<circle cx="859.1" cy="297.5" r="3.7" fill="url(#bD)" opacity="0.9"/>
<circle cx="860.4" cy="302.0" r="5.2" fill="url(#bM)"/>
<circle cx="904.5" cy="306.0" r="7.7" fill="url(#bH)" opacity="0.35"/>
<circle cx="899.6" cy="309.8" r="3.4" fill="url(#bD)" opacity="0.9"/>
<circle cx="899.6" cy="304.4" r="2.7" fill="url(#bD)" opacity="0.9"/>
<circle cx="906.3" cy="304.1" r="3.8" fill="url(#bD)" opacity="0.9"/>
<circle cx="903.7" cy="306.7" r="5.2" fill="url(#bM)"/>
<circle cx="796.2" cy="311.5" r="7.5" fill="url(#bH)" opacity="0.35"/>
<circle cx="797.2" cy="311.8" r="3.4" fill="url(#bD)" opacity="0.9"/>
<circle cx="798.4" cy="310.8" r="2.6" fill="url(#bD)" opacity="0.9"/>
<circle cx="799.5" cy="312.1" r="3.7" fill="url(#bD)" opacity="0.9"/>
<circle cx="795.5" cy="312.8" r="5.0" fill="url(#bW)"/>
<circle cx="819.6" cy="318.3" r="7.7" fill="url(#bH)" opacity="0.35"/>
<circle cx="822.0" cy="318.8" r="3.2" fill="url(#bD)" opacity="0.9"/>
<circle cx="815.0" cy="319.4" r="3.2" fill="url(#bD)" opacity="0.9"/>
<circle cx="819.1" cy="321.5" r="2.8" fill="url(#bD)" opacity="0.9"/>
<circle cx="819.0" cy="317.6" r="5.2" fill="url(#bM)"/>
<circle cx="842.1" cy="320.9" r="7.7" fill="url(#bH)" opacity="0.35"/>
<circle cx="843.2" cy="325.0" r="2.9" fill="url(#bD)" opacity="0.9"/>
<circle cx="841.8" cy="326.5" r="3.4" fill="url(#bD)" opacity="0.9"/>
<circle cx="841.8" cy="320.0" r="2.7" fill="url(#bD)" opacity="0.9"/>
<circle cx="841.4" cy="322.3" r="5.2" fill="url(#bM)"/>
<circle cx="881.5" cy="314.9" r="7.7" fill="url(#bH)" opacity="0.35"/>
<circle cx="879.3" cy="313.5" r="2.8" fill="url(#bD)" opacity="0.9"/>
<circle cx="883.8" cy="316.7" r="2.9" fill="url(#bD)" opacity="0.9"/>
<circle cx="879.6" cy="315.3" r="3.2" fill="url(#bD)" opacity="0.9"/>
<circle cx="882.0" cy="315.2" r="5.2" fill="url(#bM)"/>
<circle cx="861.8" cy="324.9" r="7.7" fill="url(#bH)" opacity="0.35"/>
<circle cx="858.6" cy="328.8" r="2.8" fill="url(#bD)" opacity="0.9"/>
<circle cx="861.0" cy="323.8" r="3.7" fill="url(#bD)" opacity="0.9"/>
<circle cx="860.9" cy="327.7" r="2.8" fill="url(#bD)" opacity="0.9"/>
<circle cx="860.4" cy="325.3" r="5.2" fill="url(#bM)"/>
<circle cx="729.0" cy="325.6" r="7.1" fill="url(#bH)" opacity="0.35"/>
<circle cx="728.1" cy="327.7" r="3.3" fill="url(#bD)" opacity="0.9"/>
<circle cx="725.0" cy="323.4" r="2.7" fill="url(#bD)" opacity="0.9"/>
<circle cx="725.8" cy="321.4" r="2.6" fill="url(#bD)" opacity="0.9"/>
<circle cx="728.5" cy="325.3" r="4.6" fill="url(#bD)"/>
<circle cx="749.5" cy="334.1" r="7.5" fill="url(#bH)" opacity="0.35"/>
<circle cx="749.9" cy="330.0" r="2.9" fill="url(#bD)" opacity="0.9"/>
<circle cx="750.1" cy="332.2" r="2.7" fill="url(#bD)" opacity="0.9"/>
<circle cx="746.5" cy="329.1" r="3.7" fill="url(#bD)" opacity="0.9"/>
<circle cx="750.4" cy="333.5" r="5.0" fill="url(#bW)"/>
<circle cx="771.0" cy="329.2" r="7.5" fill="url(#bH)" opacity="0.35"/>
<circle cx="772.2" cy="334.7" r="3.2" fill="url(#bD)" opacity="0.9"/>
<circle cx="766.8" cy="330.3" r="3.0" fill="url(#bD)" opacity="0.9"/>
<circle cx="767.5" cy="330.8" r="2.5" fill="url(#bD)" opacity="0.9"/>
<circle cx="770.3" cy="330.4" r="5.0" fill="url(#bW)"/>
<circle cx="776.4" cy="339.6" r="7.5" fill="url(#bH)" opacity="0.35"/>
<circle cx="776.3" cy="343.1" r="3.3" fill="url(#bD)" opacity="0.9"/>
<circle cx="772.9" cy="336.9" r="2.7" fill="url(#bD)" opacity="0.9"/>
<circle cx="770.9" cy="341.6" r="3.5" fill="url(#bD)" opacity="0.9"/>
<circle cx="775.2" cy="339.1" r="5.0" fill="url(#bW)"/>
<circle cx="798.1" cy="341.7" r="7.1" fill="url(#bH)" opacity="0.35"/>
<circle cx="800.0" cy="345.7" r="3.4" fill="url(#bD)" opacity="0.9"/>
<circle cx="795.7" cy="345.2" r="3.3" fill="url(#bD)" opacity="0.9"/>
<circle cx="800.9" cy="341.0" r="2.5" fill="url(#bD)" opacity="0.9"/>
<circle cx="798.7" cy="342.6" r="4.6" fill="url(#bD)"/>
<circle cx="821.4" cy="346.1" r="7.7" fill="url(#bH)" opacity="0.35"/>
<circle cx="819.3" cy="347.1" r="3.1" fill="url(#bD)" opacity="0.9"/>
<circle cx="823.4" cy="344.3" r="2.7" fill="url(#bD)" opacity="0.9"/>
<circle cx="821.0" cy="347.8" r="3.7" fill="url(#bD)" opacity="0.9"/>
<circle cx="820.4" cy="346.7" r="5.2" fill="url(#bM)"/>
<circle cx="837.3" cy="338.3" r="7.7" fill="url(#bH)" opacity="0.35"/>
<circle cx="840.7" cy="337.1" r="3.2" fill="url(#bD)" opacity="0.9"/>
<circle cx="833.6" cy="335.3" r="3.4" fill="url(#bD)" opacity="0.9"/>
<circle cx="832.9" cy="338.8" r="2.8" fill="url(#bD)" opacity="0.9"/>
<circle cx="836.7" cy="337.1" r="5.2" fill="url(#bM)"/>
<circle cx="847.3" cy="348.1" r="7.5" fill="url(#bH)" opacity="0.35"/>
<circle cx="843.8" cy="342.5" r="3.0" fill="url(#bD)" opacity="0.9"/>
<circle cx="844.7" cy="348.7" r="2.5" fill="url(#bD)" opacity="0.9"/>
<circle cx="850.5" cy="349.9" r="3.5" fill="url(#bD)" opacity="0.9"/>
<circle cx="847.5" cy="346.7" r="5.0" fill="url(#bW)"/>
<circle cx="875.7" cy="339.9" r="7.7" fill="url(#bH)" opacity="0.35"/>
<circle cx="877.3" cy="340.7" r="3.1" fill="url(#bD)" opacity="0.9"/>
<circle cx="874.4" cy="340.0" r="3.5" fill="url(#bD)" opacity="0.9"/>
<circle cx="878.8" cy="344.2" r="2.8" fill="url(#bD)" opacity="0.9"/>
<circle cx="875.9" cy="340.6" r="5.2" fill="url(#bM)"/>
<circle cx="898.0" cy="332.9" r="7.7" fill="url(#bH)" opacity="0.35"/>
<circle cx="899.2" cy="331.7" r="2.9" fill="url(#bD)" opacity="0.9"/>
<circle cx="894.9" cy="331.5" r="3.2" fill="url(#bD)" opacity="0.9"/>
<circle cx="902.9" cy="336.7" r="3.7" fill="url(#bD)" opacity="0.9"/>
<circle cx="898.6" cy="333.1" r="5.2" fill="url(#bM)"/>
<circle cx="920.3" cy="339.9" r="7.1" fill="url(#bH)" opacity="0.35"/>
<circle cx="920.0" cy="341.3" r="2.4" fill="url(#bD)" opacity="0.9"/>
<circle cx="920.5" cy="339.5" r="2.6" fill="url(#bD)" opacity="0.9"/>
<circle cx="919.6" cy="342.6" r="2.9" fill="url(#bD)" opacity="0.9"/>
<circle cx="918.9" cy="338.5" r="4.6" fill="url(#bD)"/>
<circle cx="735.0" cy="354.2" r="7.7" fill="url(#bH)" opacity="0.35"/>
<circle cx="733.1" cy="358.2" r="2.6" fill="url(#bD)" opacity="0.9"/>
<circle cx="731.8" cy="356.4" r="3.2" fill="url(#bD)" opacity="0.9"/>
<circle cx="730.8" cy="356.2" r="3.1" fill="url(#bD)" opacity="0.9"/>
<circle cx="734.6" cy="354.8" r="5.2" fill="url(#bM)"/>
<circle cx="761.8" cy="358.6" r="7.7" fill="url(#bH)" opacity="0.35"/>
<circle cx="761.8" cy="359.4" r="3.1" fill="url(#bD)" opacity="0.9"/>
<circle cx="758.1" cy="356.0" r="3.8" fill="url(#bD)" opacity="0.9"/>
<circle cx="762.0" cy="355.4" r="3.7" fill="url(#bD)" opacity="0.9"/>
<circle cx="761.6" cy="358.8" r="5.2" fill="url(#bM)"/>
<circle cx="791.3" cy="351.5" r="7.7" fill="url(#bH)" opacity="0.35"/>
<circle cx="792.3" cy="350.5" r="3.2" fill="url(#bD)" opacity="0.9"/>
<circle cx="792.5" cy="350.3" r="3.3" fill="url(#bD)" opacity="0.9"/>
<circle cx="788.5" cy="352.9" r="3.4" fill="url(#bD)" opacity="0.9"/>
<circle cx="792.0" cy="352.8" r="5.2" fill="url(#bM)"/>
<circle cx="889.6" cy="358.6" r="7.7" fill="url(#bH)" opacity="0.35"/>
<circle cx="887.1" cy="358.3" r="3.7" fill="url(#bD)" opacity="0.9"/>
<circle cx="891.4" cy="360.8" r="3.6" fill="url(#bD)" opacity="0.9"/>
<circle cx="887.4" cy="363.3" r="3.5" fill="url(#bD)" opacity="0.9"/>
<circle cx="890.9" cy="358.8" r="5.2" fill="url(#bM)"/>
<circle cx="912.7" cy="360.4" r="7.7" fill="url(#bH)" opacity="0.35"/>
<circle cx="912.9" cy="356.5" r="3.8" fill="url(#bD)" opacity="0.9"/>
<circle cx="914.4" cy="361.9" r="2.8" fill="url(#bD)" opacity="0.9"/>
<circle cx="916.3" cy="355.5" r="2.9" fill="url(#bD)" opacity="0.9"/>
<circle cx="913.8" cy="359.5" r="5.2" fill="url(#bM)"/>
<circle cx="737.4" cy="364.9" r="8.7" fill="url(#bH)" opacity="0.35"/>
<circle cx="738.7" cy="363.8" r="3.6" fill="url(#bD)" opacity="0.9"/>
<circle cx="739.7" cy="365.7" r="4.5" fill="url(#bD)" opacity="0.9"/>
<circle cx="738.9" cy="369.7" r="4.0" fill="url(#bD)" opacity="0.9"/>
<circle cx="810.5" cy="370.1" r="7.7" fill="url(#bH)" opacity="0.35"/>
<circle cx="806.3" cy="371.2" r="3.0" fill="url(#bD)" opacity="0.9"/>
<circle cx="811.7" cy="370.6" r="3.7" fill="url(#bD)" opacity="0.9"/>
<circle cx="805.9" cy="367.9" r="3.6" fill="url(#bD)" opacity="0.9"/>
<circle cx="809.3" cy="369.0" r="5.2" fill="url(#bM)"/>
<circle cx="834.0" cy="369.7" r="7.1" fill="url(#bH)" opacity="0.35"/>
<circle cx="828.5" cy="369.9" r="2.4" fill="url(#bD)" opacity="0.9"/>
<circle cx="833.1" cy="371.7" r="2.4" fill="url(#bD)" opacity="0.9"/>
<circle cx="836.5" cy="370.6" r="2.6" fill="url(#bD)" opacity="0.9"/>
<circle cx="832.6" cy="369.0" r="4.6" fill="url(#bD)"/>
<circle cx="858.1" cy="363.8" r="7.1" fill="url(#bH)" opacity="0.35"/>
<circle cx="862.1" cy="364.7" r="2.4" fill="url(#bD)" opacity="0.9"/>
<circle cx="854.7" cy="360.4" r="3.2" fill="url(#bD)" opacity="0.9"/>
<circle cx="856.2" cy="364.4" r="2.6" fill="url(#bD)" opacity="0.9"/>
<circle cx="859.0" cy="363.9" r="4.6" fill="url(#bD)"/>
<circle cx="779.8" cy="376.2" r="7.7" fill="url(#bH)" opacity="0.35"/>
<circle cx="776.0" cy="379.9" r="3.3" fill="url(#bD)" opacity="0.9"/>
<circle cx="780.9" cy="379.3" r="3.8" fill="url(#bD)" opacity="0.9"/>
<circle cx="774.9" cy="375.1" r="2.8" fill="url(#bD)" opacity="0.9"/>
<circle cx="779.2" cy="376.5" r="5.2" fill="url(#bM)"/>
<circle cx="737.2" cy="380.9" r="7.1" fill="url(#bH)" opacity="0.35"/>
<circle cx="739.9" cy="375.6" r="2.5" fill="url(#bD)" opacity="0.9"/>
<circle cx="740.1" cy="381.4" r="2.8" fill="url(#bD)" opacity="0.9"/>
<circle cx="737.0" cy="376.7" r="3.3" fill="url(#bD)" opacity="0.9"/>
<circle cx="737.2" cy="379.8" r="4.6" fill="url(#bD)"/>
<circle cx="876.4" cy="383.7" r="7.7" fill="url(#bH)" opacity="0.35"/>
<circle cx="877.7" cy="378.8" r="3.0" fill="url(#bD)" opacity="0.9"/>
<circle cx="874.1" cy="386.1" r="3.4" fill="url(#bD)" opacity="0.9"/>
<circle cx="872.6" cy="379.6" r="3.1" fill="url(#bD)" opacity="0.9"/>
<circle cx="876.7" cy="382.6" r="5.2" fill="url(#bM)"/>
<circle cx="902.6" cy="384.5" r="7.7" fill="url(#bH)" opacity="0.35"/>
<circle cx="901.7" cy="382.9" r="2.6" fill="url(#bD)" opacity="0.9"/>
<circle cx="903.4" cy="382.7" r="2.6" fill="url(#bD)" opacity="0.9"/>
<circle cx="902.3" cy="388.6" r="2.7" fill="url(#bD)" opacity="0.9"/>
<circle cx="902.7" cy="384.2" r="5.2" fill="url(#bM)"/>
<circle cx="823.4" cy="387.8" r="7.5" fill="url(#bH)" opacity="0.35"/>
<circle cx="822.5" cy="385.2" r="3.1" fill="url(#bD)" opacity="0.9"/>
<circle cx="822.4" cy="387.9" r="3.2" fill="url(#bD)" opacity="0.9"/>
<circle cx="828.6" cy="391.7" r="2.5" fill="url(#bD)" opacity="0.9"/>
<circle cx="824.5" cy="387.3" r="5.0" fill="url(#bW)"/>
<circle cx="797.7" cy="392.8" r="7.7" fill="url(#bH)" opacity="0.35"/>
<circle cx="800.9" cy="394.4" r="3.4" fill="url(#bD)" opacity="0.9"/>
<circle cx="798.7" cy="390.7" r="3.0" fill="url(#bD)" opacity="0.9"/>
<circle cx="800.2" cy="395.3" r="3.8" fill="url(#bD)" opacity="0.9"/>
<circle cx="797.5" cy="391.9" r="5.2" fill="url(#bM)"/>
<circle cx="848.4" cy="383.6" r="7.1" fill="url(#bH)" opacity="0.35"/>
<circle cx="850.2" cy="386.4" r="2.9" fill="url(#bD)" opacity="0.9"/>
<circle cx="849.1" cy="382.9" r="2.9" fill="url(#bD)" opacity="0.9"/>
<circle cx="847.0" cy="380.3" r="2.7" fill="url(#bD)" opacity="0.9"/>
<circle cx="847.9" cy="384.2" r="4.6" fill="url(#bD)"/>
<circle cx="725.5" cy="404.0" r="7.7" fill="url(#bH)" opacity="0.35"/>
<circle cx="725.9" cy="401.3" r="2.9" fill="url(#bD)" opacity="0.9"/>
<circle cx="723.6" cy="401.1" r="2.8" fill="url(#bD)" opacity="0.9"/>
<circle cx="721.6" cy="405.8" r="3.2" fill="url(#bD)" opacity="0.9"/>
<circle cx="726.0" cy="402.5" r="5.2" fill="url(#bM)"/>
<circle cx="770.9" cy="400.7" r="7.7" fill="url(#bH)" opacity="0.35"/>
<circle cx="769.3" cy="397.5" r="2.7" fill="url(#bD)" opacity="0.9"/>
<circle cx="769.3" cy="398.7" r="3.5" fill="url(#bD)" opacity="0.9"/>
<circle cx="771.6" cy="404.4" r="3.0" fill="url(#bD)" opacity="0.9"/>
<circle cx="771.1" cy="400.5" r="5.2" fill="url(#bM)"/>
<circle cx="865.0" cy="401.7" r="7.7" fill="url(#bH)" opacity="0.35"/>
<circle cx="859.9" cy="398.6" r="3.4" fill="url(#bD)" opacity="0.9"/>
<circle cx="868.1" cy="400.2" r="3.6" fill="url(#bD)" opacity="0.9"/>
<circle cx="863.0" cy="404.8" r="2.7" fill="url(#bD)" opacity="0.9"/>
<circle cx="863.7" cy="401.5" r="5.2" fill="url(#bM)"/>
<circle cx="888.0" cy="403.7" r="7.7" fill="url(#bH)" opacity="0.35"/>
<circle cx="886.0" cy="400.3" r="2.6" fill="url(#bD)" opacity="0.9"/>
<circle cx="885.0" cy="400.4" r="3.5" fill="url(#bD)" opacity="0.9"/>
<circle cx="885.5" cy="401.6" r="2.9" fill="url(#bD)" opacity="0.9"/>
<circle cx="888.1" cy="402.5" r="5.2" fill="url(#bM)"/>
<circle cx="913.1" cy="404.6" r="7.7" fill="url(#bH)" opacity="0.35"/>
<circle cx="914.2" cy="400.8" r="3.6" fill="url(#bD)" opacity="0.9"/>
<circle cx="917.0" cy="404.4" r="2.7" fill="url(#bD)" opacity="0.9"/>
<circle cx="915.6" cy="406.9" r="3.0" fill="url(#bD)" opacity="0.9"/>
<circle cx="912.8" cy="403.5" r="5.2" fill="url(#bM)"/>
<circle cx="738.1" cy="414.8" r="7.7" fill="url(#bH)" opacity="0.35"/>
<circle cx="739.6" cy="419.1" r="3.4" fill="url(#bD)" opacity="0.9"/>
<circle cx="743.0" cy="413.1" r="3.0" fill="url(#bD)" opacity="0.9"/>
<circle cx="741.5" cy="417.0" r="3.1" fill="url(#bD)" opacity="0.9"/>
<circle cx="739.2" cy="415.7" r="5.2" fill="url(#bM)"/>
<circle cx="789.1" cy="418.3" r="7.7" fill="url(#bH)" opacity="0.35"/>
<circle cx="784.6" cy="418.0" r="2.7" fill="url(#bD)" opacity="0.9"/>
<circle cx="789.7" cy="417.3" r="3.2" fill="url(#bD)" opacity="0.9"/>
<circle cx="789.4" cy="416.6" r="3.2" fill="url(#bD)" opacity="0.9"/>
<circle cx="788.6" cy="418.7" r="5.2" fill="url(#bM)"/>
<circle cx="758.7" cy="427.1" r="7.7" fill="url(#bH)" opacity="0.35"/>
<circle cx="760.7" cy="430.2" r="2.7" fill="url(#bD)" opacity="0.9"/>
<circle cx="761.2" cy="427.9" r="3.0" fill="url(#bD)" opacity="0.9"/>
<circle cx="756.5" cy="422.8" r="2.8" fill="url(#bD)" opacity="0.9"/>
<circle cx="760.1" cy="425.8" r="5.2" fill="url(#bM)"/>
<circle cx="858.8" cy="421.6" r="7.7" fill="url(#bH)" opacity="0.35"/>
<circle cx="860.8" cy="422.1" r="3.3" fill="url(#bD)" opacity="0.9"/>
<circle cx="858.8" cy="423.3" r="3.5" fill="url(#bD)" opacity="0.9"/>
<circle cx="858.9" cy="421.3" r="3.6" fill="url(#bD)" opacity="0.9"/>
<circle cx="858.0" cy="422.8" r="5.2" fill="url(#bM)"/>
<circle cx="834.5" cy="431.2" r="7.1" fill="url(#bH)" opacity="0.35"/>
<circle cx="837.6" cy="433.0" r="2.7" fill="url(#bD)" opacity="0.9"/>
<circle cx="837.7" cy="434.8" r="2.8" fill="url(#bD)" opacity="0.9"/>
<circle cx="833.3" cy="430.7" r="3.4" fill="url(#bD)" opacity="0.9"/>
<circle cx="835.3" cy="430.5" r="4.6" fill="url(#bD)"/>
<circle cx="902.6" cy="426.4" r="7.7" fill="url(#bH)" opacity="0.35"/>
<circle cx="903.5" cy="429.3" r="3.6" fill="url(#bD)" opacity="0.9"/>
<circle cx="902.5" cy="432.3" r="2.9" fill="url(#bD)" opacity="0.9"/>
<circle cx="906.0" cy="424.2" r="2.6" fill="url(#bD)" opacity="0.9"/>
<circle cx="903.7" cy="427.9" r="5.2" fill="url(#bM)"/>
<circle cx="809.2" cy="430.6" r="7.1" fill="url(#bH)" opacity="0.35"/>
<circle cx="810.3" cy="432.4" r="2.5" fill="url(#bD)" opacity="0.9"/>
<circle cx="814.3" cy="430.7" r="2.5" fill="url(#bD)" opacity="0.9"/>
<circle cx="807.4" cy="434.1" r="3.4" fill="url(#bD)" opacity="0.9"/>
<circle cx="810.3" cy="431.9" r="4.6" fill="url(#bD)"/>
</g>
<circle cx="544.7" cy="119.6" r="6.2" fill="url(#bX)"/>
<circle cx="741.3" cy="84.7" r="6.2" fill="url(#bX)"/>
<circle cx="694.9" cy="323.7" r="6.2" fill="url(#bX)"/>
<circle cx="737.8" cy="366.4" r="6.2" fill="url(#bX)"/>
</g>
<rect x="625" y="46.7" width="80" height="46" fill="#fff"/>
<text transform="translate(634.5,78.8) scale(0.95,1)" font-size="28.3" fill="#000">2 nm</text>
<rect x="736.2" y="403.5" width="149.8" height="8.1" fill="#fff"/>
<rect x="408" y="40.3" width="7" height="393.0" fill="url(#cbar)"/>
<line x1="407.5" y1="40.3" x2="407.5" y2="433.3" stroke="#7a7a7a" stroke-width="1.2"/>
<line x1="415.5" y1="40.3" x2="415.5" y2="433.3" stroke="#7a7a7a" stroke-width="1.2"/>
<line x1="407" y1="40.3" x2="420.5" y2="40.3" stroke="#000" stroke-width="1.2"/>
<line x1="407" y1="433.3" x2="420.5" y2="433.3" stroke="#000" stroke-width="1.2"/>
<line x1="415" y1="433.3" x2="420.5" y2="433.3" stroke="#000" stroke-width="1.2"/>
<text transform="translate(431.0,443.1) scale(0.94,1)" font-size="28.3" fill="#000">0</text>
<line x1="415" y1="394.0" x2="420.5" y2="394.0" stroke="#000" stroke-width="1.2"/>
<text transform="translate(431.0,403.6) scale(0.94,1)" font-size="28.3" fill="#000">1</text>
<line x1="415" y1="354.7" x2="420.5" y2="354.7" stroke="#000" stroke-width="1.2"/>
<text transform="translate(431.0,364.0) scale(0.94,1)" font-size="28.3" fill="#000">2</text>
<line x1="415" y1="315.4" x2="420.5" y2="315.4" stroke="#000" stroke-width="1.2"/>
<text transform="translate(431.0,324.5) scale(0.94,1)" font-size="28.3" fill="#000">3</text>
<line x1="415" y1="276.1" x2="420.5" y2="276.1" stroke="#000" stroke-width="1.2"/>
<text transform="translate(431.0,285.0) scale(0.94,1)" font-size="28.3" fill="#000">4</text>
<line x1="415" y1="236.8" x2="420.5" y2="236.8" stroke="#000" stroke-width="1.2"/>
<text transform="translate(431.0,245.5) scale(0.94,1)" font-size="28.3" fill="#000">5</text>
<line x1="415" y1="197.5" x2="420.5" y2="197.5" stroke="#000" stroke-width="1.2"/>
<text transform="translate(431.0,205.9) scale(0.94,1)" font-size="28.3" fill="#000">6</text>
<line x1="415" y1="158.2" x2="420.5" y2="158.2" stroke="#000" stroke-width="1.2"/>
<text transform="translate(431.0,166.4) scale(0.94,1)" font-size="28.3" fill="#000">7</text>
<line x1="415" y1="118.9" x2="420.5" y2="118.9" stroke="#000" stroke-width="1.2"/>
<text transform="translate(431.0,126.9) scale(0.94,1)" font-size="28.3" fill="#000">8</text>
<line x1="415" y1="79.6" x2="420.5" y2="79.6" stroke="#000" stroke-width="1.2"/>
<text transform="translate(431.0,87.3) scale(0.94,1)" font-size="28.3" fill="#000">9</text>
<line x1="415" y1="40.3" x2="420.5" y2="40.3" stroke="#000" stroke-width="1.2"/>
<text transform="translate(431.0,47.8) scale(0.94,1)" font-size="28.3" fill="#000">10</text>
<rect x="928" y="39.7" width="7" height="393.3" fill="url(#cbar)"/>
<line x1="927.5" y1="39.7" x2="927.5" y2="433" stroke="#7a7a7a" stroke-width="1.2"/>
<line x1="935.5" y1="39.7" x2="935.5" y2="433" stroke="#7a7a7a" stroke-width="1.2"/>
<line x1="927" y1="39.7" x2="941" y2="39.7" stroke="#000" stroke-width="1.2"/>
<line x1="927" y1="433" x2="941" y2="433" stroke="#000" stroke-width="1.2"/>
<line x1="935" y1="433.0" x2="941" y2="433.0" stroke="#000" stroke-width="1.2"/>
<text transform="translate(949.5,442.0) scale(0.94,1)" font-size="28.3" fill="#000">0.5</text>
<line x1="935" y1="395.7" x2="941" y2="395.7" stroke="#000" stroke-width="1.2"/>
<text transform="translate(949.5,404.6) scale(0.94,1)" font-size="28.3" fill="#000">0.7</text>
<line x1="935" y1="358.4" x2="941" y2="358.4" stroke="#000" stroke-width="1.2"/>
<text transform="translate(949.5,367.1) scale(0.94,1)" font-size="28.3" fill="#000">0.9</text>
<line x1="935" y1="321.2" x2="941" y2="321.2" stroke="#000" stroke-width="1.2"/>
<text transform="translate(949.5,329.7) scale(0.94,1)" font-size="28.3" fill="#000">1.1</text>
<line x1="935" y1="283.9" x2="941" y2="283.9" stroke="#000" stroke-width="1.2"/>
<text transform="translate(949.5,292.2) scale(0.94,1)" font-size="28.3" fill="#000">1.3</text>
<line x1="935" y1="246.6" x2="941" y2="246.6" stroke="#000" stroke-width="1.2"/>
<text transform="translate(949.5,254.8) scale(0.94,1)" font-size="28.3" fill="#000">1.5</text>
<line x1="935" y1="209.3" x2="941" y2="209.3" stroke="#000" stroke-width="1.2"/>
<text transform="translate(949.5,217.4) scale(0.94,1)" font-size="28.3" fill="#000">1.7</text>
<line x1="935" y1="172.0" x2="941" y2="172.0" stroke="#000" stroke-width="1.2"/>
<text transform="translate(949.5,179.9) scale(0.94,1)" font-size="28.3" fill="#000">1.9</text>
<line x1="935" y1="134.8" x2="941" y2="134.8" stroke="#000" stroke-width="1.2"/>
<text transform="translate(949.5,142.5) scale(0.94,1)" font-size="28.3" fill="#000">2.1</text>
<line x1="935" y1="97.5" x2="941" y2="97.5" stroke="#000" stroke-width="1.2"/>
<text transform="translate(949.5,105.0) scale(0.94,1)" font-size="28.3" fill="#000">2.3</text>
<line x1="935" y1="60.2" x2="941" y2="60.2" stroke="#000" stroke-width="1.2"/>
<text transform="translate(949.5,67.6) scale(0.94,1)" font-size="28.3" fill="#000">2.5</text>
<text transform="translate(477.3,165.2) rotate(90) scale(0.961,1)" font-size="28.3">Height (nm)</text>
<text transform="translate(1008.6,165.2) rotate(90) scale(0.961,1)" font-size="28.3">Height (nm)</text>
<text transform="translate(1,24.4) scale(0.86,1)" font-size="31" font-weight="bold" stroke="#000" stroke-width="0.7">a</text>
<text x="525" y="24.4" font-size="31" font-weight="bold" stroke="#000" stroke-width="0.5">b</text>
<text transform="translate(0.3,493.2) scale(0.86,1)" font-size="31" font-weight="bold" stroke="#000" stroke-width="0.7">c</text>
<rect x="95.3" y="480.3" width="896.5" height="418.7" fill="none" stroke="#222" stroke-width="1.1"/>
<line x1="82" y1="899.0" x2="95.3" y2="899.0" stroke="#444" stroke-width="1.1"/>
<text transform="translate(73.5,908.6) scale(0.94,1)" font-size="28.3" fill="#000" text-anchor="end">0</text>
<line x1="82" y1="860.5" x2="95.3" y2="860.5" stroke="#444" stroke-width="1.1"/>
<text transform="translate(73.5,870.1) scale(0.94,1)" font-size="28.3" fill="#000" text-anchor="end">10</text>
<line x1="82" y1="822.1" x2="95.3" y2="822.1" stroke="#444" stroke-width="1.1"/>
<text transform="translate(73.5,831.7) scale(0.94,1)" font-size="28.3" fill="#000" text-anchor="end">20</text>
<line x1="82" y1="783.6" x2="95.3" y2="783.6" stroke="#444" stroke-width="1.1"/>
<text transform="translate(73.5,793.2) scale(0.94,1)" font-size="28.3" fill="#000" text-anchor="end">30</text>
<line x1="82" y1="745.2" x2="95.3" y2="745.2" stroke="#444" stroke-width="1.1"/>
<text transform="translate(73.5,754.8) scale(0.94,1)" font-size="28.3" fill="#000" text-anchor="end">40</text>
<line x1="82" y1="706.7" x2="95.3" y2="706.7" stroke="#444" stroke-width="1.1"/>
<text transform="translate(73.5,716.3) scale(0.94,1)" font-size="28.3" fill="#000" text-anchor="end">50</text>
<line x1="82" y1="668.2" x2="95.3" y2="668.2" stroke="#444" stroke-width="1.1"/>
<text transform="translate(73.5,677.8) scale(0.94,1)" font-size="28.3" fill="#000" text-anchor="end">60</text>
<line x1="82" y1="629.8" x2="95.3" y2="629.8" stroke="#444" stroke-width="1.1"/>
<text transform="translate(73.5,639.4) scale(0.94,1)" font-size="28.3" fill="#000" text-anchor="end">70</text>
<line x1="82" y1="591.3" x2="95.3" y2="591.3" stroke="#444" stroke-width="1.1"/>
<text transform="translate(73.5,600.9) scale(0.94,1)" font-size="28.3" fill="#000" text-anchor="end">80</text>
<line x1="82" y1="552.9" x2="95.3" y2="552.9" stroke="#444" stroke-width="1.1"/>
<text transform="translate(73.5,562.5) scale(0.94,1)" font-size="28.3" fill="#000" text-anchor="end">90</text>
<line x1="82" y1="514.4" x2="95.3" y2="514.4" stroke="#444" stroke-width="1.1"/>
<text transform="translate(74.8,524.0) scale(0.94,1)" font-size="28.3" fill="#000" text-anchor="end">100</text>
<line x1="121.0" y1="899" x2="121.0" y2="912" stroke="#444" stroke-width="1.1"/>
<text transform="translate(121.0,941.7) scale(0.94,1)" font-size="28.3" fill="#000" text-anchor="middle">1</text>
<line x1="193.6" y1="899" x2="193.6" y2="912" stroke="#444" stroke-width="1.1"/>
<text transform="translate(193.6,941.7) scale(0.94,1)" font-size="28.3" fill="#000" text-anchor="middle">2</text>
<line x1="266.2" y1="899" x2="266.2" y2="912" stroke="#444" stroke-width="1.1"/>
<text transform="translate(266.2,941.7) scale(0.94,1)" font-size="28.3" fill="#000" text-anchor="middle">3</text>
<line x1="338.7" y1="899" x2="338.7" y2="912" stroke="#444" stroke-width="1.1"/>
<text transform="translate(338.7,941.7) scale(0.94,1)" font-size="28.3" fill="#000" text-anchor="middle">4</text>
<line x1="411.3" y1="899" x2="411.3" y2="912" stroke="#444" stroke-width="1.1"/>
<text transform="translate(411.3,941.7) scale(0.94,1)" font-size="28.3" fill="#000" text-anchor="middle">5</text>
<line x1="483.8" y1="899" x2="483.8" y2="912" stroke="#444" stroke-width="1.1"/>
<text transform="translate(483.8,941.7) scale(0.94,1)" font-size="28.3" fill="#000" text-anchor="middle">6</text>
<line x1="556.4" y1="899" x2="556.4" y2="912" stroke="#444" stroke-width="1.1"/>
<text transform="translate(556.4,941.7) scale(0.94,1)" font-size="28.3" fill="#000" text-anchor="middle">7</text>
<line x1="629.0" y1="899" x2="629.0" y2="912" stroke="#444" stroke-width="1.1"/>
<text transform="translate(629.0,941.7) scale(0.94,1)" font-size="28.3" fill="#000" text-anchor="middle">8</text>
<line x1="701.5" y1="899" x2="701.5" y2="912" stroke="#444" stroke-width="1.1"/>
<text transform="translate(701.5,941.7) scale(0.94,1)" font-size="28.3" fill="#000" text-anchor="middle">9</text>
<line x1="774.1" y1="899" x2="774.1" y2="912" stroke="#444" stroke-width="1.1"/>
<text transform="translate(774.1,941.7) scale(0.94,1)" font-size="28.3" fill="#000" text-anchor="middle">10</text>
<line x1="846.6" y1="899" x2="846.6" y2="912" stroke="#444" stroke-width="1.1"/>
<text transform="translate(846.6,941.7) scale(0.94,1)" font-size="28.3" fill="#000" text-anchor="middle">11</text>
<line x1="919.2" y1="899" x2="919.2" y2="912" stroke="#444" stroke-width="1.1"/>
<text transform="translate(919.2,941.7) scale(0.94,1)" font-size="28.3" fill="#000" text-anchor="middle">12</text>
<line x1="991.8" y1="899" x2="991.8" y2="912" stroke="#444" stroke-width="1.1"/>
<text transform="translate(991.8,941.7) scale(0.94,1)" font-size="28.3" fill="#000" text-anchor="middle">13</text>
<text transform="translate(543.8,978.2) scale(0.961,1)" font-size="28.3" text-anchor="middle">NP size (nm)</text>
<text transform="translate(22,690) rotate(-90) scale(0.961,1)" font-size="28.3" text-anchor="middle">Counts (arb.u.)</text>
<rect x="570.50" y="796.40" width="29.53" height="102.60" fill="#50ae4b" stroke="#000" stroke-width="3.8"/>
<rect x="600.03" y="768.90" width="29.53" height="130.10" fill="#50ae4b" stroke="#000" stroke-width="3.8"/>
<rect x="629.56" y="679.50" width="29.53" height="219.50" fill="#50ae4b" stroke="#000" stroke-width="3.8"/>
<rect x="659.09" y="658.70" width="29.53" height="240.30" fill="#50ae4b" stroke="#000" stroke-width="3.8"/>
<rect x="688.62" y="677.00" width="29.53" height="222.00" fill="#50ae4b" stroke="#000" stroke-width="3.8"/>
<rect x="718.15" y="716.80" width="29.53" height="182.20" fill="#50ae4b" stroke="#000" stroke-width="3.8"/>
<rect x="747.68" y="724.80" width="29.53" height="174.20" fill="#50ae4b" stroke="#000" stroke-width="3.8"/>
<rect x="777.21" y="741.30" width="29.53" height="157.70" fill="#50ae4b" stroke="#000" stroke-width="3.8"/>
<rect x="806.74" y="753.50" width="29.53" height="145.50" fill="#50ae4b" stroke="#000" stroke-width="3.8"/>
<rect x="836.27" y="795.40" width="29.53" height="103.60" fill="#50ae4b" stroke="#000" stroke-width="3.8"/>
<rect x="865.80" y="815.40" width="29.53" height="83.60" fill="#50ae4b" stroke="#000" stroke-width="3.8"/>
<rect x="895.33" y="841.30" width="29.53" height="57.70" fill="#50ae4b" stroke="#000" stroke-width="3.8"/>
<rect x="924.86" y="886.20" width="29.53" height="12.80" fill="#50ae4b" stroke="#000" stroke-width="3.8"/>
<rect x="954.39" y="897.20" width="29.53" height="1.80" fill="#50ae4b" stroke="#000" stroke-width="3.8"/>
<rect x="462.20" y="607.40" width="21.25" height="291.60" fill="#f681be" stroke="#000" stroke-width="3.8"/>
<rect x="483.45" y="596.50" width="21.25" height="302.50" fill="#f681be" stroke="#000" stroke-width="3.8"/>
<rect x="504.70" y="577.00" width="21.25" height="322.00" fill="#f681be" stroke="#000" stroke-width="3.8"/>
<rect x="525.95" y="662.20" width="21.25" height="236.80" fill="#f681be" stroke="#000" stroke-width="3.8"/>
<rect x="547.20" y="700.00" width="21.25" height="199.00" fill="#f681be" stroke="#000" stroke-width="3.8"/>
<rect x="568.45" y="764.70" width="21.25" height="134.30" fill="#f681be" stroke="#000" stroke-width="3.8"/>
<rect x="589.70" y="865.20" width="21.25" height="33.80" fill="#f681be" stroke="#000" stroke-width="3.8"/>
<rect x="610.95" y="880.40" width="21.25" height="18.60" fill="#f681be" stroke="#000" stroke-width="3.8"/>
<rect x="632.20" y="885.40" width="21.25" height="13.60" fill="#f681be" stroke="#000" stroke-width="3.8"/>
<rect x="374.50" y="615.00" width="33.40" height="284.00" fill="#ff8000" stroke="#000" stroke-width="3.8"/>
<rect x="407.90" y="672.70" width="33.50" height="226.30" fill="#ff8000" stroke="#000" stroke-width="3.8"/>
<rect x="441.40" y="752.30" width="34.30" height="146.70" fill="#ff8000" stroke="#000" stroke-width="3.8"/>
<rect x="475.70" y="769.70" width="33.40" height="129.30" fill="#ff8000" stroke="#000" stroke-width="3.8"/>
<rect x="509.10" y="844.40" width="33.50" height="54.60" fill="#ff8000" stroke="#000" stroke-width="3.8"/>
<rect x="542.60" y="854.20" width="33.30" height="44.80" fill="#ff8000" stroke="#000" stroke-width="3.8"/>
<rect x="575.90" y="874.40" width="33.40" height="24.60" fill="#ff8000" stroke="#000" stroke-width="3.8"/>
<rect x="609.30" y="881.70" width="32.90" height="17.30" fill="#ff8000" stroke="#000" stroke-width="3.8"/>
<rect x="642.20" y="888.20" width="34.10" height="10.80" fill="#ff8000" stroke="#000" stroke-width="3.8"/>
<rect x="676.30" y="894.90" width="33.50" height="4.10" fill="#ff8000" stroke="#000" stroke-width="3.8"/>
<rect x="222.30" y="814.40" width="22.19" height="84.60" fill="#e3ab00" stroke="#000" stroke-width="3.8"/>
<rect x="244.49" y="698.30" width="22.19" height="200.70" fill="#e3ab00" stroke="#000" stroke-width="3.8"/>
<rect x="266.68" y="662.90" width="22.19" height="236.10" fill="#e3ab00" stroke="#000" stroke-width="3.8"/>
<rect x="288.87" y="586.70" width="22.19" height="312.30" fill="#e3ab00" stroke="#000" stroke-width="3.8"/>
<rect x="311.06" y="605.50" width="22.19" height="293.50" fill="#e3ab00" stroke="#000" stroke-width="3.8"/>
<rect x="333.25" y="696.30" width="22.19" height="202.70" fill="#e3ab00" stroke="#000" stroke-width="3.8"/>
<rect x="355.44" y="696.30" width="22.19" height="202.70" fill="#e3ab00" stroke="#000" stroke-width="3.8"/>
<rect x="377.63" y="781.30" width="22.19" height="117.70" fill="#e3ab00" stroke="#000" stroke-width="3.8"/>
<rect x="399.82" y="811.90" width="22.19" height="87.10" fill="#e3ab00" stroke="#000" stroke-width="3.8"/>
<rect x="422.01" y="859.20" width="22.19" height="39.80" fill="#e3ab00" stroke="#000" stroke-width="3.8"/>
<rect x="172.60" y="626.30" width="18.75" height="272.70" fill="#7c4f4d" stroke="#000" stroke-width="3.8"/>
<rect x="191.35" y="638.20" width="18.75" height="260.80" fill="#7c4f4d" stroke="#000" stroke-width="3.8"/>
<rect x="210.10" y="696.10" width="18.75" height="202.90" fill="#7c4f4d" stroke="#000" stroke-width="3.8"/>
<rect x="228.85" y="826.40" width="18.75" height="72.60" fill="#7c4f4d" stroke="#000" stroke-width="3.8"/>
<rect x="247.60" y="857.20" width="18.75" height="41.80" fill="#7c4f4d" stroke="#000" stroke-width="3.8"/>
<rect x="266.35" y="869.60" width="18.75" height="29.40" fill="#7c4f4d" stroke="#000" stroke-width="3.8"/>
<rect x="285.10" y="888.30" width="18.75" height="10.70" fill="#7c4f4d" stroke="#000" stroke-width="3.8"/>
<rect x="303.85" y="895.30" width="18.75" height="3.70" fill="#7c4f4d" stroke="#000" stroke-width="3.8"/>
<rect x="95.40" y="753.90" width="13.30" height="145.10" fill="#1b6edb" stroke="#000" stroke-width="3.8"/>
<rect x="108.70" y="638.40" width="13.31" height="260.60" fill="#1b6edb" stroke="#000" stroke-width="3.8"/>
<rect x="122.01" y="533.20" width="13.31" height="365.80" fill="#1b6edb" stroke="#000" stroke-width="3.8"/>
<rect x="135.32" y="578.50" width="13.31" height="320.50" fill="#1b6edb" stroke="#000" stroke-width="3.8"/>
<rect x="148.63" y="683.90" width="13.31" height="215.10" fill="#1b6edb" stroke="#000" stroke-width="3.8"/>
<rect x="161.94" y="732.70" width="13.31" height="166.30" fill="#1b6edb" stroke="#000" stroke-width="3.8"/>
<rect x="175.25" y="756.90" width="13.31" height="142.10" fill="#1b6edb" stroke="#000" stroke-width="3.8"/>
<rect x="188.56" y="820.70" width="13.31" height="78.30" fill="#1b6edb" stroke="#000" stroke-width="3.8"/>
<rect x="201.87" y="844.00" width="13.31" height="55.00" fill="#1b6edb" stroke="#000" stroke-width="3.8"/>
<rect x="215.18" y="845.50" width="13.31" height="53.50" fill="#1b6edb" stroke="#000" stroke-width="3.8"/>
<rect x="228.49" y="860.10" width="13.31" height="38.90" fill="#1b6edb" stroke="#000" stroke-width="3.8"/>
<rect x="241.80" y="879.40" width="13.31" height="19.60" fill="#1b6edb" stroke="#000" stroke-width="3.8"/>
<rect x="255.11" y="880.20" width="13.31" height="18.80" fill="#1b6edb" stroke="#000" stroke-width="3.8"/>
<rect x="268.42" y="881.20" width="13.31" height="17.80" fill="#1b6edb" stroke="#000" stroke-width="3.8"/>
<rect x="281.73" y="887.90" width="13.31" height="11.10" fill="#1b6edb" stroke="#000" stroke-width="3.8"/>
<rect x="295.04" y="893.40" width="13.31" height="5.60" fill="#1b6edb" stroke="#000" stroke-width="3.8"/>
<rect x="308.35" y="896.40" width="13.31" height="2.60" fill="#1b6edb" stroke="#000" stroke-width="3.8"/>
<line x1="95.3" y1="899" x2="991.8" y2="899" stroke="#000" stroke-width="2.5"/>
<rect x="100" y="780.3" width="80.2" height="46.2" fill="#1b6edb"/>
<text transform="translate(110.1,812.2) scale(0.95,1)" font-size="28.3" fill="#fff">1 nm</text>
<rect x="150.3" y="732.2" width="79.5" height="45.3" fill="#7c4f4d"/>
<text transform="translate(159.5,764.1) scale(0.95,1)" font-size="28.3" fill="#fff">2 nm</text>
<rect x="266.8" y="780.3" width="80" height="46.2" fill="#e3ab00"/>
<text transform="translate(276.3,812.2) scale(0.95,1)" font-size="28.3" fill="#fff">4 nm</text>
<rect x="363.5" y="732.2" width="80.2" height="45.3" fill="#ff8000"/>
<text transform="translate(372.8,764.1) scale(0.95,1)" font-size="28.3" fill="#fff">5 nm</text>
<rect x="482.1" y="780.3" width="80" height="46.2" fill="#f681be"/>
<text transform="translate(491.8,812.2) scale(0.95,1)" font-size="28.3" fill="#fff">6 nm</text>
<rect x="667.5" y="732.2" width="80.5" height="45.3" fill="#50ae4b"/>
<text transform="translate(677.2,764.1) scale(0.95,1)" font-size="28.3" fill="#fff">9 nm</text>
</svg></body></html>
